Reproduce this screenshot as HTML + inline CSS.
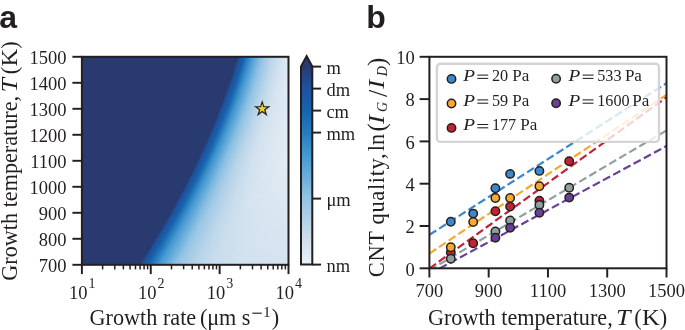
<!DOCTYPE html>
<html><head><meta charset="utf-8"><style>
html,body{margin:0;padding:0;background:#fff;}
#root{position:relative;width:685px;height:330px;overflow:hidden;background:#fff;}
#heat{position:absolute;left:81.9px;top:56px;width:206.6px;height:209px;overflow:hidden;}
#heat div{position:absolute;left:0;width:100%;height:1px;}
svg{position:absolute;left:0;top:0;will-change:transform;}
svg text{font-family:"Liberation Serif",serif;fill:#231f20;}
svg line.k{stroke:#231f20;stroke-width:1.95;}
.pl{font-family:"Liberation Sans",sans-serif;font-weight:bold;}
</style></head><body><div id="root">
<div id="heat">
<div style="top:0px;background:linear-gradient(90deg,#293a70 0.0px,#293a70 155.7px,#27407a 156.2px,#254584 156.7px,#23498c 157.2px,#204d94 157.7px,#1e519b 158.2px,#1c54a0 158.7px,#1c56a1 159.2px,#1b57a2 159.7px,#1a5ba5 160.7px,#195ea8 161.7px,#1964ad 162.7px,#1d6cb3 163.7px,#2579bc 165.2px,#3186c5 167.2px,#3f93cd 169.2px,#4f9fd4 171.2px,#64abda 174.2px,#83bbe1 178.2px,#99c6e5 182.2px,#afd0e8 187.2px,#bdd7eb 191.2px,#c7dced 195.2px,#d1e1ef 199.2px,#dbe8f1 205.2px,#dee9f2 208.6px)"></div>
<div style="top:1px;background:linear-gradient(90deg,#293a70 0.0px,#293a70 155.4px,#27407a 155.9px,#254584 156.4px,#23498c 156.9px,#204d94 157.4px,#1e519b 157.9px,#1c54a0 158.4px,#1c56a1 158.9px,#1b57a2 159.4px,#1a5ba5 160.4px,#195ea8 161.4px,#1964ad 162.4px,#1d6cb3 163.4px,#2579bc 164.9px,#3186c5 166.9px,#3f93cd 168.9px,#4f9fd4 170.9px,#64abda 173.9px,#83bbe1 177.9px,#99c6e5 181.9px,#afd0e8 186.9px,#bdd7eb 190.9px,#c7dced 194.9px,#d1e1ef 198.9px,#dbe8f1 204.9px,#dee9f2 208.6px)"></div>
<div style="top:2px;background:linear-gradient(90deg,#293a70 0.0px,#293a70 155.1px,#27407a 155.6px,#254584 156.1px,#23498c 156.6px,#204d94 157.1px,#1e519b 157.6px,#1c54a0 158.1px,#1c56a1 158.6px,#1b57a2 159.1px,#1a5ba5 160.1px,#195ea8 161.1px,#1964ad 162.1px,#1d6cb3 163.1px,#2578bc 164.6px,#3185c5 166.6px,#3f93cd 168.6px,#4f9ed4 170.6px,#63abda 173.6px,#82bbe1 177.6px,#99c6e5 181.6px,#aed0e8 186.6px,#bdd7eb 190.6px,#c7dced 194.6px,#d1e1ef 198.6px,#dbe7f1 204.6px,#dee9f2 208.6px)"></div>
<div style="top:3px;background:linear-gradient(90deg,#293a70 0.0px,#293a70 154.8px,#27407a 155.3px,#254584 155.8px,#23498c 156.3px,#204d94 156.8px,#1e519b 157.3px,#1c54a0 157.8px,#1c56a1 158.3px,#1b57a2 158.8px,#1a5ba5 159.8px,#195ea8 160.8px,#1964ad 161.8px,#1d6cb3 162.8px,#2478bc 164.3px,#3185c4 166.3px,#3f93cd 168.3px,#4f9ed3 170.3px,#63abda 173.3px,#82bbe1 177.3px,#99c6e5 181.3px,#aecfe8 186.3px,#bdd7eb 190.3px,#c7dced 194.3px,#d0e1ef 198.3px,#dbe7f1 204.3px,#dee9f2 208.6px)"></div>
<div style="top:4px;background:linear-gradient(90deg,#293a70 0.0px,#293a70 154.5px,#27407a 155.0px,#254584 155.5px,#23498c 156.0px,#204d94 156.5px,#1e519b 157.0px,#1c54a0 157.5px,#1c56a1 158.0px,#1b57a2 158.5px,#1a5ba5 159.5px,#195ea8 160.5px,#1964ad 161.5px,#1d6cb3 162.5px,#2478bc 164.0px,#3185c4 166.0px,#3f93cd 168.0px,#4f9ed3 170.0px,#63abda 173.0px,#82bbe1 177.0px,#99c6e5 181.0px,#aecfe8 186.0px,#bcd6eb 190.0px,#c7dced 194.0px,#d0e1ef 198.0px,#dbe7f1 204.0px,#dee9f2 208.6px)"></div>
<div style="top:5px;background:linear-gradient(90deg,#293a70 0.0px,#293a70 154.1px,#27407a 154.6px,#254584 155.1px,#23498c 155.6px,#204d94 156.1px,#1e519b 156.6px,#1c54a0 157.1px,#1c56a1 157.6px,#1b57a2 158.1px,#1a5ba5 159.1px,#195ea8 160.1px,#1864ad 161.1px,#1d6cb3 162.1px,#2478bc 163.6px,#3185c4 165.6px,#3f93cd 167.6px,#4e9ed3 169.6px,#63aada 172.6px,#82bbe1 176.6px,#99c6e5 180.6px,#aecfe8 185.6px,#bcd6eb 189.6px,#c7dced 193.6px,#d0e1ef 197.6px,#dae7f1 203.6px,#deeaf2 208.6px)"></div>
<div style="top:6px;background:linear-gradient(90deg,#293a70 0.0px,#293a70 153.8px,#27407a 154.3px,#254584 154.8px,#23498c 155.3px,#204d94 155.8px,#1e519b 156.3px,#1c54a0 156.8px,#1c56a1 157.3px,#1b57a2 157.8px,#1a5ba5 158.8px,#195ea8 159.8px,#1864ad 160.8px,#1d6cb3 161.8px,#2478bc 163.3px,#3085c4 165.3px,#3f93cd 167.3px,#4e9ed3 169.3px,#63aada 172.3px,#82bbe1 176.3px,#99c6e5 180.3px,#aecfe8 185.3px,#bcd6eb 189.3px,#c6dced 193.3px,#d0e1ef 197.3px,#dae7f1 203.3px,#deeaf2 208.6px)"></div>
<div style="top:7px;background:linear-gradient(90deg,#293a70 0.0px,#293a70 153.5px,#27407a 154.0px,#254584 154.5px,#23498c 155.0px,#204d94 155.5px,#1e519b 156.0px,#1c54a0 156.5px,#1c56a1 157.0px,#1b57a2 157.5px,#1a5ba5 158.5px,#195ea8 159.5px,#1864ad 160.5px,#1d6cb3 161.5px,#2478bc 163.0px,#3085c4 165.0px,#3f93cd 167.0px,#4e9ed3 169.0px,#63aada 172.0px,#81bae1 176.0px,#99c6e5 180.0px,#adcfe8 185.0px,#bcd6eb 189.0px,#c6dced 193.0px,#d0e1ef 197.0px,#dae7f1 203.0px,#deeaf2 208.6px)"></div>
<div style="top:8px;background:linear-gradient(90deg,#293a70 0.0px,#293a70 153.2px,#27407a 153.7px,#254584 154.2px,#23498c 154.7px,#204d94 155.2px,#1e519b 155.7px,#1c54a0 156.2px,#1c56a1 156.7px,#1b57a2 157.2px,#1a5ba5 158.2px,#195ea8 159.2px,#1864ad 160.2px,#1d6cb3 161.2px,#2478bc 162.7px,#3085c4 164.7px,#3e93cd 166.7px,#4e9ed3 168.7px,#62aada 171.7px,#81bae0 175.7px,#98c6e5 179.7px,#adcfe8 184.7px,#bcd6eb 188.7px,#c6dced 192.7px,#d0e1ef 196.7px,#dae7f1 202.7px,#dfeaf2 208.6px)"></div>
<div style="top:9px;background:linear-gradient(90deg,#293a70 0.0px,#293a70 152.9px,#27407a 153.4px,#254584 153.9px,#23498c 154.4px,#204d94 154.9px,#1e519b 155.4px,#1c54a0 155.9px,#1c56a1 156.4px,#1b57a2 156.9px,#1a5ba5 157.9px,#195ea8 158.9px,#1864ac 159.9px,#1d6cb3 160.9px,#2478bc 162.4px,#3085c4 164.4px,#3e93cd 166.4px,#4e9ed3 168.4px,#62aada 171.4px,#81bae0 175.4px,#98c6e5 179.4px,#adcfe8 184.4px,#bbd6ea 188.4px,#c6dced 192.4px,#cfe1ee 196.4px,#dae7f1 202.4px,#dfeaf2 208.6px)"></div>
<div style="top:10px;background:linear-gradient(90deg,#293a70 0.0px,#293a70 152.6px,#27407a 153.1px,#254584 153.6px,#23498c 154.1px,#204d94 154.6px,#1e519b 155.1px,#1c54a0 155.6px,#1c56a1 156.1px,#1b57a2 156.6px,#1a5ba5 157.6px,#195ea8 158.6px,#1864ac 159.6px,#1d6cb2 160.6px,#2478bc 162.1px,#3085c4 164.1px,#3e93cd 166.1px,#4e9ed3 168.1px,#62aada 171.1px,#81bae0 175.1px,#98c6e5 179.1px,#adcfe8 184.1px,#bbd6ea 188.1px,#c6dbed 192.1px,#cfe0ee 196.1px,#dae7f1 202.1px,#dfeaf2 208.6px)"></div>
<div style="top:11px;background:linear-gradient(90deg,#293a70 0.0px,#293a70 152.3px,#27407a 152.8px,#254584 153.3px,#23498c 153.8px,#204d94 154.3px,#1e519b 154.8px,#1c54a0 155.3px,#1c56a1 155.8px,#1b57a2 156.3px,#1a5ba5 157.3px,#195ea8 158.3px,#1864ac 159.3px,#1d6cb2 160.3px,#2478bb 161.8px,#3085c4 163.8px,#3e92cd 165.8px,#4e9ed3 167.8px,#62aada 170.8px,#80bae0 174.8px,#98c6e5 178.8px,#adcfe8 183.8px,#bbd6ea 187.8px,#c6dbed 191.8px,#cfe0ee 195.8px,#d9e7f1 201.8px,#dfeaf2 208.6px)"></div>
<div style="top:12px;background:linear-gradient(90deg,#293a70 0.0px,#293a70 152.0px,#27407a 152.5px,#254584 153.0px,#23498c 153.5px,#204d94 154.0px,#1e519b 154.5px,#1c54a0 155.0px,#1c56a1 155.5px,#1b57a2 156.0px,#1a5ba5 157.0px,#195ea8 158.0px,#1864ac 159.0px,#1d6bb2 160.0px,#2478bb 161.5px,#3085c4 163.5px,#3e92cd 165.5px,#4e9ed3 167.5px,#62aada 170.5px,#80bae0 174.5px,#98c6e5 178.5px,#adcfe8 183.5px,#bbd6ea 187.5px,#c5dbec 191.5px,#cfe0ee 195.5px,#d9e6f1 201.5px,#dfeaf2 208.5px,#dfeaf2 208.6px)"></div>
<div style="top:13px;background:linear-gradient(90deg,#293a70 0.0px,#293a70 151.6px,#27407a 152.1px,#254584 152.6px,#23498c 153.1px,#204d94 153.6px,#1e519b 154.1px,#1c54a0 154.6px,#1c56a1 155.1px,#1b57a2 155.6px,#1a5ba5 156.6px,#195ea8 157.6px,#1863ac 158.6px,#1d6bb2 159.6px,#2477bb 161.1px,#3085c4 163.1px,#3e92cc 165.1px,#4d9ed3 167.1px,#62aada 170.1px,#80bae0 174.1px,#98c6e5 178.1px,#accfe8 183.1px,#bbd6ea 187.1px,#c5dbec 191.1px,#cfe0ee 195.1px,#d9e6f1 201.1px,#dfeaf2 208.1px,#dfeaf2 208.6px)"></div>
<div style="top:14px;background:linear-gradient(90deg,#293a70 0.0px,#293a70 151.3px,#27407a 151.8px,#254584 152.3px,#23498c 152.8px,#204d94 153.3px,#1e519b 153.8px,#1c54a0 154.3px,#1c56a1 154.8px,#1b57a2 155.3px,#1a5ba5 156.3px,#195ea8 157.3px,#1863ac 158.3px,#1d6bb2 159.3px,#2477bb 160.8px,#3084c4 162.8px,#3e92cc 164.8px,#4d9dd3 166.8px,#62aada 169.8px,#80bae0 173.8px,#97c6e5 177.8px,#accfe8 182.8px,#bad5ea 186.8px,#c5dbec 190.8px,#cee0ee 194.8px,#d9e6f1 200.8px,#dfeaf2 207.8px,#dfeaf3 208.6px)"></div>
<div style="top:15px;background:linear-gradient(90deg,#293a70 0.0px,#293a70 151.0px,#27407a 151.5px,#254584 152.0px,#23498c 152.5px,#204d94 153.0px,#1e519b 153.5px,#1c54a0 154.0px,#1c56a1 154.5px,#1b57a2 155.0px,#1a5ba5 156.0px,#195ea8 157.0px,#1863ac 158.0px,#1d6bb2 159.0px,#2477bb 160.5px,#3084c4 162.5px,#3e92cc 164.5px,#4d9dd3 166.5px,#61a9da 169.5px,#7fb9e0 173.5px,#97c5e5 177.5px,#accee8 182.5px,#bad5ea 186.5px,#c5dbec 190.5px,#cee0ee 194.5px,#d9e6f1 200.5px,#deeaf2 207.5px,#dfeaf3 208.6px)"></div>
<div style="top:16px;background:linear-gradient(90deg,#293a70 0.0px,#293a70 150.7px,#27407a 151.2px,#254584 151.7px,#23498c 152.2px,#204d94 152.7px,#1e519b 153.2px,#1c54a0 153.7px,#1c56a1 154.2px,#1b57a2 154.7px,#1a5ba5 155.7px,#195ea8 156.7px,#1863ac 157.7px,#1d6bb2 158.7px,#2477bb 160.2px,#3084c4 162.2px,#3e92cc 164.2px,#4d9dd3 166.2px,#61a9d9 169.2px,#7fb9e0 173.2px,#97c5e4 177.2px,#accee8 182.2px,#bad5ea 186.2px,#c5dbec 190.2px,#cee0ee 194.2px,#d9e6f1 200.2px,#deeaf2 207.2px,#dfeaf3 208.6px)"></div>
<div style="top:17px;background:linear-gradient(90deg,#293a70 0.0px,#293a70 150.3px,#27407a 150.8px,#254584 151.3px,#23498c 151.8px,#204d94 152.3px,#1e519b 152.8px,#1c54a0 153.3px,#1c56a1 153.8px,#1b57a2 154.3px,#1a5ba5 155.3px,#195ea8 156.3px,#1863ac 157.3px,#1d6bb2 158.3px,#2477bb 159.8px,#2f84c4 161.8px,#3e92cc 163.8px,#4d9dd3 165.8px,#61a9d9 168.8px,#7fb9e0 172.8px,#97c5e4 176.8px,#accee8 181.8px,#bad5ea 185.8px,#c5dbec 189.8px,#cee0ee 193.8px,#d8e6f1 199.8px,#dee9f2 206.8px,#dfeaf3 208.6px)"></div>
<div style="top:18px;background:linear-gradient(90deg,#293a70 0.0px,#293a70 150.0px,#27407a 150.5px,#254584 151.0px,#23498c 151.5px,#204d94 152.0px,#1e519b 152.5px,#1c54a0 153.0px,#1c56a1 153.5px,#1b57a2 154.0px,#1a5ba5 155.0px,#195ea8 156.0px,#1863ac 157.0px,#1d6bb2 158.0px,#2477bb 159.5px,#2f84c4 161.5px,#3e92cc 163.5px,#4d9dd3 165.5px,#61a9d9 168.5px,#7fb9e0 172.5px,#97c5e4 176.5px,#abcee8 181.5px,#bad5ea 185.5px,#c4dbec 189.5px,#cee0ee 193.5px,#d8e6f1 199.5px,#dee9f2 206.5px,#e0eaf3 208.6px)"></div>
<div style="top:19px;background:linear-gradient(90deg,#293a70 0.0px,#293a70 149.7px,#27407a 150.2px,#254584 150.7px,#23498c 151.2px,#204d94 151.7px,#1e519b 152.2px,#1c54a0 152.7px,#1c56a1 153.2px,#1b57a2 153.7px,#1a5ba5 154.7px,#195ea8 155.7px,#1863ac 156.7px,#1d6bb2 157.7px,#2477bb 159.2px,#2f84c4 161.2px,#3e92cc 163.2px,#4d9dd3 165.2px,#61a9d9 168.2px,#7fb9e0 172.2px,#97c5e4 176.2px,#abcee8 181.2px,#bad5ea 185.2px,#c4dbec 189.2px,#cee0ee 193.2px,#d8e6f1 199.2px,#dee9f2 206.2px,#e0eaf3 208.6px)"></div>
<div style="top:20px;background:linear-gradient(90deg,#293a70 0.0px,#293a70 149.4px,#27407a 149.9px,#254584 150.4px,#23498c 150.9px,#204d94 151.4px,#1e519b 151.9px,#1c54a0 152.4px,#1c56a1 152.9px,#1b57a2 153.4px,#1a5ba5 154.4px,#195ea8 155.4px,#1863ac 156.4px,#1d6bb2 157.4px,#2477bb 158.9px,#2f84c4 160.9px,#3e92cc 162.9px,#4c9dd3 164.9px,#61a9d9 167.9px,#7eb9e0 171.9px,#97c5e4 175.9px,#abcee8 180.9px,#b9d5ea 184.9px,#c4dbec 188.9px,#cde0ee 192.9px,#d8e6f1 198.9px,#dee9f2 205.9px,#e0eaf3 208.6px)"></div>
<div style="top:21px;background:linear-gradient(90deg,#293a70 0.0px,#293a70 149.0px,#27407a 149.5px,#254584 150.0px,#23498c 150.5px,#204d94 151.0px,#1e519b 151.5px,#1c54a0 152.0px,#1c56a1 152.5px,#1b57a2 153.0px,#1a5ba5 154.0px,#195ea8 155.0px,#1863ac 156.0px,#1d6bb2 157.0px,#2477bb 158.5px,#2f84c3 160.5px,#3e92cc 162.5px,#4c9dd3 164.5px,#60a9d9 167.5px,#7eb9e0 171.5px,#96c5e4 175.5px,#abcee8 180.5px,#b9d5ea 184.5px,#c4dbec 188.5px,#cddfee 192.5px,#d8e6f1 198.5px,#dee9f2 205.5px,#e0ebf3 208.6px)"></div>
<div style="top:22px;background:linear-gradient(90deg,#293a70 0.0px,#293a70 148.7px,#27407a 149.2px,#254584 149.7px,#23498c 150.2px,#204d94 150.7px,#1e519b 151.2px,#1c54a0 151.7px,#1c56a1 152.2px,#1b57a2 152.7px,#1a5ba5 153.7px,#195ea8 154.7px,#1863ac 155.7px,#1d6bb2 156.7px,#2377bb 158.2px,#2f84c3 160.2px,#3e92cc 162.2px,#4c9dd3 164.2px,#60a9d9 167.2px,#7eb9e0 171.2px,#96c5e4 175.2px,#abcee8 180.2px,#b9d5ea 184.2px,#c4daec 188.2px,#cddfee 192.2px,#d8e5f1 198.2px,#dde9f2 205.2px,#e0ebf3 208.6px)"></div>
<div style="top:23px;background:linear-gradient(90deg,#293a70 0.0px,#293a70 148.3px,#27407a 148.8px,#254584 149.3px,#23498c 149.8px,#204d94 150.3px,#1e519b 150.8px,#1c54a0 151.3px,#1c56a1 151.8px,#1b57a2 152.3px,#1a5ba5 153.3px,#195ea8 154.3px,#1863ac 155.3px,#1d6bb2 156.3px,#2377bb 157.8px,#2f84c3 159.8px,#3d92cc 161.8px,#4c9dd3 163.8px,#60a9d9 166.8px,#7eb9e0 170.8px,#96c5e4 174.8px,#aacee8 179.8px,#b9d5ea 183.8px,#c4daec 187.8px,#cddfee 191.8px,#d7e5f0 197.8px,#dde9f2 204.8px,#e0ebf3 208.6px)"></div>
<div style="top:24px;background:linear-gradient(90deg,#293a70 0.0px,#293a70 148.0px,#27407a 148.5px,#254584 149.0px,#23498c 149.5px,#204d94 150.0px,#1e519b 150.5px,#1c54a0 151.0px,#1c56a1 151.5px,#1b57a2 152.0px,#1a5ba5 153.0px,#195ea8 154.0px,#1863ac 155.0px,#1c6bb2 156.0px,#2376bb 157.5px,#2f84c3 159.5px,#3d92cc 161.5px,#4c9dd3 163.5px,#60a9d9 166.5px,#7db8e0 170.5px,#96c5e4 174.5px,#aacee7 179.5px,#b9d4ea 183.5px,#c4daec 187.5px,#cddfee 191.5px,#d7e5f0 197.5px,#dde9f2 204.5px,#e0ebf3 208.6px)"></div>
<div style="top:25px;background:linear-gradient(90deg,#293a70 0.0px,#293a70 147.7px,#27407a 148.2px,#254584 148.7px,#23498c 149.2px,#204d94 149.7px,#1e519b 150.2px,#1c54a0 150.7px,#1c56a1 151.2px,#1b57a2 151.7px,#1a5ba5 152.7px,#195ea8 153.7px,#1863ac 154.7px,#1c6bb2 155.7px,#2376bb 157.2px,#2f83c3 159.2px,#3d92cc 161.2px,#4c9dd3 163.2px,#60a8d9 166.2px,#7db8e0 170.2px,#96c5e4 174.2px,#aacee7 179.2px,#b8d4ea 183.2px,#c3daec 187.2px,#ccdfee 191.2px,#d7e5f0 197.2px,#dde9f2 204.2px,#e0ebf3 208.6px)"></div>
<div style="top:26px;background:linear-gradient(90deg,#293a70 0.0px,#293a70 147.3px,#27407a 147.8px,#254584 148.3px,#23498c 148.8px,#204d94 149.3px,#1e519b 149.8px,#1c54a0 150.3px,#1c56a1 150.8px,#1b57a2 151.3px,#1a5ba5 152.3px,#195ea8 153.3px,#1863ac 154.3px,#1c6bb2 155.3px,#2376ba 156.8px,#2f83c3 158.8px,#3d91cc 160.8px,#4c9dd2 162.8px,#60a8d9 165.8px,#7db8e0 169.8px,#96c5e4 173.8px,#aacee7 178.8px,#b8d4ea 182.8px,#c3daec 186.8px,#ccdfee 190.8px,#d7e5f0 196.8px,#dde9f2 203.8px,#e0ebf3 208.6px)"></div>
<div style="top:27px;background:linear-gradient(90deg,#293a70 0.0px,#293a70 147.0px,#27407a 147.5px,#254584 148.0px,#23498c 148.5px,#204d94 149.0px,#1e519b 149.5px,#1c54a0 150.0px,#1c56a1 150.5px,#1b57a2 151.0px,#1a5ba5 152.0px,#195ea8 153.0px,#1863ac 154.0px,#1c6ab2 155.0px,#2376ba 156.5px,#2f83c3 158.5px,#3d91cc 160.5px,#4b9cd2 162.5px,#5fa8d9 165.5px,#7db8e0 169.5px,#96c5e4 173.5px,#aacee7 178.5px,#b8d4ea 182.5px,#c3daec 186.5px,#ccdfee 190.5px,#d7e5f0 196.5px,#dde9f2 203.5px,#e0ebf3 208.6px)"></div>
<div style="top:28px;background:linear-gradient(90deg,#293a70 0.0px,#293a70 146.6px,#27407a 147.1px,#254584 147.6px,#23498c 148.1px,#204d94 148.6px,#1e519b 149.1px,#1c54a0 149.6px,#1c56a1 150.1px,#1b57a2 150.6px,#1a5ba5 151.6px,#195ea8 152.6px,#1863ac 153.6px,#1c6ab2 154.6px,#2376ba 156.1px,#2e83c3 158.1px,#3d91cc 160.1px,#4b9cd2 162.1px,#5fa8d9 165.1px,#7cb8e0 169.1px,#95c5e4 173.1px,#aacde7 178.1px,#b8d4ea 182.1px,#c3daec 186.1px,#ccdfee 190.1px,#d7e5f0 196.1px,#dde9f2 203.1px,#e0ebf3 208.6px)"></div>
<div style="top:29px;background:linear-gradient(90deg,#293a70 0.0px,#293a70 146.3px,#27407a 146.8px,#254584 147.3px,#23498c 147.8px,#204d94 148.3px,#1e519b 148.8px,#1c54a0 149.3px,#1c56a1 149.8px,#1b57a2 150.3px,#1a5ba5 151.3px,#195ea8 152.3px,#1863ac 153.3px,#1c6ab2 154.3px,#2376ba 155.8px,#2e83c3 157.8px,#3d91cc 159.8px,#4b9cd2 161.8px,#5fa8d9 164.8px,#7cb8e0 168.8px,#95c5e4 172.8px,#a9cde7 177.8px,#b8d4ea 181.8px,#c3daec 185.8px,#ccdfee 189.8px,#d7e5f0 195.8px,#dce8f2 202.8px,#e0ebf3 208.6px)"></div>
<div style="top:30px;background:linear-gradient(90deg,#293a70 0.0px,#293a70 145.9px,#27407a 146.4px,#254584 146.9px,#23498c 147.4px,#204d94 147.9px,#1e519b 148.4px,#1c54a0 148.9px,#1c56a1 149.4px,#1b57a2 149.9px,#1a5ba5 150.9px,#195ea8 151.9px,#1863ac 152.9px,#1c6ab1 153.9px,#2376ba 155.4px,#2e83c3 157.4px,#3d91cc 159.4px,#4b9cd2 161.4px,#5fa8d9 164.4px,#7cb8e0 168.4px,#95c5e4 172.4px,#a9cde7 177.4px,#b8d4ea 181.4px,#c3daec 185.4px,#ccdfee 189.4px,#d6e5f0 195.4px,#dce8f2 202.4px,#e0ebf3 208.6px)"></div>
<div style="top:31px;background:linear-gradient(90deg,#293a70 0.0px,#293a70 145.6px,#27407a 146.1px,#254584 146.6px,#23498c 147.1px,#204d94 147.6px,#1e519b 148.1px,#1c54a0 148.6px,#1c56a1 149.1px,#1b57a2 149.6px,#1a5ba5 150.6px,#195ea8 151.6px,#1863ac 152.6px,#1c6ab1 153.6px,#2376ba 155.1px,#2e83c3 157.1px,#3d91cc 159.1px,#4b9cd2 161.1px,#5fa8d9 164.1px,#7cb8e0 168.1px,#95c4e4 172.1px,#a9cde7 177.1px,#b7d4ea 181.1px,#c2daec 185.1px,#cbdeee 189.1px,#d6e5f0 195.1px,#dce8f2 202.1px,#e0ebf3 208.6px)"></div>
<div style="top:32px;background:linear-gradient(90deg,#293a70 0.0px,#293a70 145.2px,#27407a 145.7px,#254584 146.2px,#23498c 146.7px,#204d94 147.2px,#1e519b 147.7px,#1c54a0 148.2px,#1c56a1 148.7px,#1b57a2 149.2px,#1a5ba5 150.2px,#195ea8 151.2px,#1863ac 152.2px,#1c6ab1 153.2px,#2376ba 154.7px,#2e83c3 156.7px,#3d91cc 158.7px,#4b9cd2 160.7px,#5fa8d9 163.7px,#7cb8df 167.7px,#95c4e4 171.7px,#a9cde7 176.7px,#b7d4ea 180.7px,#c2daec 184.7px,#cbdeee 188.7px,#d6e4f0 194.7px,#dce8f2 201.7px,#e0ebf3 208.6px)"></div>
<div style="top:33px;background:linear-gradient(90deg,#293a70 0.0px,#293a70 144.9px,#27407a 145.4px,#254584 145.9px,#23498c 146.4px,#204d94 146.9px,#1e519b 147.4px,#1c54a0 147.9px,#1c56a1 148.4px,#1b57a2 148.9px,#1a5ba5 149.9px,#195ea8 150.9px,#1863ac 151.9px,#1c6ab1 152.9px,#2376ba 154.4px,#2e83c3 156.4px,#3d91cc 158.4px,#4b9cd2 160.4px,#5ea8d9 163.4px,#7bb7df 167.4px,#95c4e4 171.4px,#a9cde7 176.4px,#b7d4ea 180.4px,#c2daec 184.4px,#cbdeee 188.4px,#d6e4f0 194.4px,#dce8f2 201.4px,#e0ebf3 208.4px,#e0ebf3 208.6px)"></div>
<div style="top:34px;background:linear-gradient(90deg,#293a70 0.0px,#293a70 144.5px,#27407a 145.0px,#254584 145.5px,#23498c 146.0px,#204d94 146.5px,#1e519b 147.0px,#1c54a0 147.5px,#1c56a1 148.0px,#1b57a2 148.5px,#1a5ba5 149.5px,#195ea8 150.5px,#1863ac 151.5px,#1c6ab1 152.5px,#2376ba 154.0px,#2e83c3 156.0px,#3d91cc 158.0px,#4b9cd2 160.0px,#5ea8d9 163.0px,#7bb7df 167.0px,#95c4e4 171.0px,#a8cde7 176.0px,#b7d4ea 180.0px,#c2d9ec 184.0px,#cbdeee 188.0px,#d6e4f0 194.0px,#dce8f2 201.0px,#e0ebf3 208.0px,#e0ebf3 208.6px)"></div>
<div style="top:35px;background:linear-gradient(90deg,#293a70 0.0px,#293a70 144.2px,#27407a 144.7px,#254584 145.2px,#23498c 145.7px,#204d94 146.2px,#1e519b 146.7px,#1c54a0 147.2px,#1c56a1 147.7px,#1b57a2 148.2px,#1a5aa5 149.2px,#195ea8 150.2px,#1863ac 151.2px,#1c6ab1 152.2px,#2375ba 153.7px,#2e83c3 155.7px,#3d91cc 157.7px,#4a9cd2 159.7px,#5ea8d8 162.7px,#7bb7df 166.7px,#94c4e4 170.7px,#a8cde7 175.7px,#b7d3ea 179.7px,#c2d9ec 183.7px,#cbdeee 187.7px,#d6e4f0 193.7px,#dce8f2 200.7px,#e0eaf3 207.7px,#e0ebf3 208.6px)"></div>
<div style="top:36px;background:linear-gradient(90deg,#293a70 0.0px,#293a70 143.8px,#27407a 144.3px,#254584 144.8px,#23498c 145.3px,#204d94 145.8px,#1e519b 146.3px,#1c54a0 146.8px,#1c56a1 147.3px,#1b57a2 147.8px,#1a5aa5 148.8px,#195ea8 149.8px,#1863ac 150.8px,#1c6ab1 151.8px,#2375ba 153.3px,#2e83c3 155.3px,#3d91cc 157.3px,#4a9cd2 159.3px,#5ea7d8 162.3px,#7bb7df 166.3px,#94c4e4 170.3px,#a8cde7 175.3px,#b6d3e9 179.3px,#c2d9ec 183.3px,#cbdeee 187.3px,#d5e4f0 193.3px,#dbe8f2 200.3px,#e0eaf3 207.3px,#e0ebf3 208.6px)"></div>
<div style="top:37px;background:linear-gradient(90deg,#293a70 0.0px,#293a70 143.5px,#27407a 144.0px,#254584 144.5px,#23498c 145.0px,#204d94 145.5px,#1e519b 146.0px,#1c54a0 146.5px,#1c56a1 147.0px,#1b57a2 147.5px,#1a5aa5 148.5px,#195ea8 149.5px,#1863ac 150.5px,#1c6ab1 151.5px,#2375ba 153.0px,#2e82c3 155.0px,#3d91cc 157.0px,#4a9cd2 159.0px,#5ea7d8 162.0px,#7ab7df 166.0px,#94c4e4 170.0px,#a8cde7 175.0px,#b6d3e9 179.0px,#c1d9ec 183.0px,#cadeed 187.0px,#d5e4f0 193.0px,#dbe8f2 200.0px,#e0eaf3 207.0px,#e0ebf3 208.6px)"></div>
<div style="top:38px;background:linear-gradient(90deg,#293a70 0.0px,#293a70 143.1px,#27407a 143.6px,#254584 144.1px,#23498c 144.6px,#204d94 145.1px,#1e519b 145.6px,#1c54a0 146.1px,#1c56a1 146.6px,#1b57a2 147.1px,#1a5aa5 148.1px,#195ea8 149.1px,#1863ac 150.1px,#1c6ab1 151.1px,#2375ba 152.6px,#2e82c3 154.6px,#3c91cb 156.6px,#4a9cd2 158.6px,#5ea7d8 161.6px,#7ab7df 165.6px,#94c4e4 169.6px,#a8cde7 174.6px,#b6d3e9 178.6px,#c1d9ec 182.6px,#cadeed 186.6px,#d5e4f0 192.6px,#dbe8f1 199.6px,#dfeaf3 206.6px,#e0ebf3 208.6px)"></div>
<div style="top:39px;background:linear-gradient(90deg,#293a70 0.0px,#293a70 142.7px,#27407a 143.2px,#254584 143.7px,#23498c 144.2px,#204d94 144.7px,#1e519b 145.2px,#1c54a0 145.7px,#1c56a1 146.2px,#1b57a2 146.7px,#1a5aa5 147.7px,#195ea8 148.7px,#1863ac 149.7px,#1c6ab1 150.7px,#2375ba 152.2px,#2d82c2 154.2px,#3c91cb 156.2px,#4a9bd2 158.2px,#5da7d8 161.2px,#7ab7df 165.2px,#94c4e4 169.2px,#a8cde7 174.2px,#b6d3e9 178.2px,#c1d9ec 182.2px,#cadeed 186.2px,#d5e4f0 192.2px,#dbe8f1 199.2px,#dfeaf3 206.2px,#e0ebf3 208.6px)"></div>
<div style="top:40px;background:linear-gradient(90deg,#293a70 0.0px,#293a70 142.4px,#27407a 142.9px,#254584 143.4px,#23498c 143.9px,#204d94 144.4px,#1e519b 144.9px,#1c54a0 145.4px,#1c56a1 145.9px,#1b57a2 146.4px,#1a5aa5 147.4px,#195ea8 148.4px,#1863ac 149.4px,#1c6ab1 150.4px,#2275b9 151.9px,#2d82c2 153.9px,#3c91cb 155.9px,#4a9bd2 157.9px,#5da7d8 160.9px,#7ab7df 164.9px,#94c4e4 168.9px,#a7cce7 173.9px,#b6d3e9 177.9px,#c1d9ec 181.9px,#cadeed 185.9px,#d5e4f0 191.9px,#dbe7f1 198.9px,#dfeaf3 205.9px,#e0ebf3 208.6px)"></div>
<div style="top:41px;background:linear-gradient(90deg,#293a70 0.0px,#293a70 142.0px,#27407a 142.5px,#254584 143.0px,#23498c 143.5px,#204d94 144.0px,#1e519b 144.5px,#1c54a0 145.0px,#1c56a1 145.5px,#1b57a2 146.0px,#1a5aa5 147.0px,#195ea8 148.0px,#1863ac 149.0px,#1c6ab1 150.0px,#2275b9 151.5px,#2d82c2 153.5px,#3c90cb 155.5px,#4a9bd2 157.5px,#5da7d8 160.5px,#7ab6df 164.5px,#93c4e4 168.5px,#a7cce7 173.5px,#b6d3e9 177.5px,#c1d9ec 181.5px,#cadeed 185.5px,#d5e4f0 191.5px,#dbe7f1 198.5px,#dfeaf3 205.5px,#e0ebf3 208.6px)"></div>
<div style="top:42px;background:linear-gradient(90deg,#293a70 0.0px,#293a70 141.6px,#27407a 142.1px,#254584 142.6px,#23498c 143.1px,#204d94 143.6px,#1e519b 144.1px,#1c54a0 144.6px,#1c56a1 145.1px,#1b57a2 145.6px,#1a5aa5 146.6px,#195ea8 147.6px,#1862ac 148.6px,#1c69b1 149.6px,#2275b9 151.1px,#2d82c2 153.1px,#3c90cb 155.1px,#499bd2 157.1px,#5da7d8 160.1px,#79b6df 164.1px,#93c4e4 168.1px,#a7cce7 173.1px,#b5d3e9 177.1px,#c1d9ec 181.1px,#c9dded 185.1px,#d4e3f0 191.1px,#dbe7f1 198.1px,#dfeaf2 205.1px,#e0ebf3 208.6px)"></div>
<div style="top:43px;background:linear-gradient(90deg,#293a70 0.0px,#293a70 141.3px,#27407a 141.8px,#254584 142.3px,#23498c 142.8px,#204d94 143.3px,#1e519b 143.8px,#1c54a0 144.3px,#1c56a1 144.8px,#1b57a2 145.3px,#1a5aa5 146.3px,#195ea8 147.3px,#1862ac 148.3px,#1c69b1 149.3px,#2275b9 150.8px,#2d82c2 152.8px,#3c90cb 154.8px,#499bd2 156.8px,#5da7d8 159.8px,#79b6df 163.8px,#93c3e4 167.8px,#a7cce7 172.8px,#b5d3e9 176.8px,#c1d9ec 180.8px,#c9dded 184.8px,#d4e3f0 190.8px,#dbe7f1 197.8px,#dfeaf2 204.8px,#e0ebf3 208.6px)"></div>
<div style="top:44px;background:linear-gradient(90deg,#293a70 0.0px,#293a70 140.9px,#27407a 141.4px,#254584 141.9px,#23498c 142.4px,#204d94 142.9px,#1e519b 143.4px,#1c54a0 143.9px,#1c56a1 144.4px,#1b57a2 144.9px,#1a5aa5 145.9px,#195ea8 146.9px,#1862ac 147.9px,#1c69b1 148.9px,#2275b9 150.4px,#2d82c2 152.4px,#3c90cb 154.4px,#499bd2 156.4px,#5da7d8 159.4px,#79b6df 163.4px,#93c3e4 167.4px,#a7cce7 172.4px,#b5d3e9 176.4px,#c0d9eb 180.4px,#c9dded 184.4px,#d4e3f0 190.4px,#dae7f1 197.4px,#dfeaf2 204.4px,#e0ebf3 208.6px)"></div>
<div style="top:45px;background:linear-gradient(90deg,#293a70 0.0px,#293a70 140.5px,#27407a 141.0px,#254584 141.5px,#23498c 142.0px,#204d94 142.5px,#1e519b 143.0px,#1c54a0 143.5px,#1c56a1 144.0px,#1b57a2 144.5px,#1a5aa5 145.5px,#195ea8 146.5px,#1862ac 147.5px,#1c69b1 148.5px,#2275b9 150.0px,#2d82c2 152.0px,#3c90cb 154.0px,#499bd2 156.0px,#5da7d8 159.0px,#79b6df 163.0px,#93c3e4 167.0px,#a6cce7 172.0px,#b5d2e9 176.0px,#c0d9eb 180.0px,#c9dded 184.0px,#d4e3f0 190.0px,#dae7f1 197.0px,#deeaf2 204.0px,#e0ebf3 208.6px)"></div>
<div style="top:46px;background:linear-gradient(90deg,#293a70 0.0px,#293a70 140.2px,#27407a 140.7px,#254584 141.2px,#23498c 141.7px,#204d94 142.2px,#1e519b 142.7px,#1c54a0 143.2px,#1c56a1 143.7px,#1b57a2 144.2px,#1a5aa5 145.2px,#195ea8 146.2px,#1862ab 147.2px,#1c69b1 148.2px,#2274b9 149.7px,#2d82c2 151.7px,#3c90cb 153.7px,#499bd2 155.7px,#5ca6d8 158.7px,#78b6df 162.7px,#92c3e4 166.7px,#a6cce7 171.7px,#b5d2e9 175.7px,#c0d8eb 179.7px,#c9dded 183.7px,#d4e3ef 189.7px,#dae7f1 196.7px,#deeaf2 203.7px,#e0ebf3 208.6px)"></div>
<div style="top:47px;background:linear-gradient(90deg,#293a70 0.0px,#293a70 139.8px,#27407a 140.3px,#254584 140.8px,#23498c 141.3px,#204d94 141.8px,#1e519b 142.3px,#1c54a0 142.8px,#1c56a1 143.3px,#1b57a2 143.8px,#1a5aa5 144.8px,#195ea8 145.8px,#1862ab 146.8px,#1c69b1 147.8px,#2274b9 149.3px,#2d82c2 151.3px,#3c90cb 153.3px,#499bd2 155.3px,#5ca6d8 158.3px,#78b6df 162.3px,#92c3e4 166.3px,#a6cce7 171.3px,#b4d2e9 175.3px,#c0d8eb 179.3px,#c9dded 183.3px,#d4e3ef 189.3px,#dae7f1 196.3px,#deeaf2 203.3px,#e0ebf3 208.6px)"></div>
<div style="top:48px;background:linear-gradient(90deg,#293a70 0.0px,#293a70 139.4px,#27407a 139.9px,#254584 140.4px,#23498c 140.9px,#204d94 141.4px,#1e519b 141.9px,#1c54a0 142.4px,#1c56a1 142.9px,#1b57a2 143.4px,#1a5aa5 144.4px,#195ea8 145.4px,#1862ab 146.4px,#1c69b1 147.4px,#2274b9 148.9px,#2d81c2 150.9px,#3c90cb 152.9px,#499bd2 154.9px,#5ca6d8 157.9px,#78b6df 161.9px,#92c3e4 165.9px,#a6cce7 170.9px,#b4d2e9 174.9px,#c0d8eb 178.9px,#c8dded 182.9px,#d3e3ef 188.9px,#dae7f1 195.9px,#dee9f2 202.9px,#e0ebf3 208.6px)"></div>
<div style="top:49px;background:linear-gradient(90deg,#293a70 0.0px,#293a70 139.0px,#27407a 139.5px,#254584 140.0px,#23498c 140.5px,#204d94 141.0px,#1e519b 141.5px,#1c54a0 142.0px,#1c56a1 142.5px,#1b57a2 143.0px,#1a5aa5 144.0px,#195ea8 145.0px,#1862ab 146.0px,#1c69b1 147.0px,#2274b9 148.5px,#2d81c2 150.5px,#3c90cb 152.5px,#499bd1 154.5px,#5ca6d8 157.5px,#78b6df 161.5px,#92c3e4 165.5px,#a6cce7 170.5px,#b4d2e9 174.5px,#c0d8eb 178.5px,#c8dded 182.5px,#d3e3ef 188.5px,#dae7f1 195.5px,#dee9f2 202.5px,#e0ebf3 208.6px)"></div>
<div style="top:50px;background:linear-gradient(90deg,#293a70 0.0px,#293a70 138.6px,#27407a 139.1px,#254584 139.6px,#23498c 140.1px,#204d94 140.6px,#1e519b 141.1px,#1c54a0 141.6px,#1c56a1 142.1px,#1b57a2 142.6px,#1a5aa5 143.6px,#195ea8 144.6px,#1862ab 145.6px,#1b69b0 146.6px,#2274b9 148.1px,#2c81c2 150.1px,#3c90cb 152.1px,#489bd1 154.1px,#5ca6d8 157.1px,#77b5df 161.1px,#92c3e4 165.1px,#a5cce7 170.1px,#b4d2e9 174.1px,#bfd8eb 178.1px,#c8dded 182.1px,#d3e3ef 188.1px,#dae7f1 195.1px,#dee9f2 202.1px,#e0ebf3 208.6px)"></div>
<div style="top:51px;background:linear-gradient(90deg,#293a70 0.0px,#293a70 138.3px,#27407a 138.8px,#254584 139.3px,#23498c 139.8px,#204d94 140.3px,#1e519b 140.8px,#1c54a0 141.3px,#1c56a1 141.8px,#1b57a2 142.3px,#1a5aa5 143.3px,#195ea8 144.3px,#1862ab 145.3px,#1b69b0 146.3px,#2274b9 147.8px,#2c81c2 149.8px,#3c90cb 151.8px,#489bd1 153.8px,#5ca6d8 156.8px,#77b5df 160.8px,#91c3e4 164.8px,#a5cce7 169.8px,#b4d2e9 173.8px,#bfd8eb 177.8px,#c8dded 181.8px,#d3e3ef 187.8px,#d9e7f1 194.8px,#dee9f2 201.8px,#e0ebf3 208.6px)"></div>
<div style="top:52px;background:linear-gradient(90deg,#293a70 0.0px,#293a70 137.9px,#27407a 138.4px,#254584 138.9px,#23498c 139.4px,#204d94 139.9px,#1e519b 140.4px,#1c54a0 140.9px,#1c56a1 141.4px,#1b57a2 141.9px,#1a5aa5 142.9px,#195ea8 143.9px,#1862ab 144.9px,#1b69b0 145.9px,#2274b9 147.4px,#2c81c2 149.4px,#3b90cb 151.4px,#489ad1 153.4px,#5ba6d8 156.4px,#77b5df 160.4px,#91c3e3 164.4px,#a5cbe7 169.4px,#b3d2e9 173.4px,#bfd8eb 177.4px,#c8dced 181.4px,#d3e3ef 187.4px,#d9e6f1 194.4px,#dee9f2 201.4px,#e0ebf3 208.6px)"></div>
<div style="top:53px;background:linear-gradient(90deg,#293a70 0.0px,#293a70 137.5px,#27407a 138.0px,#254584 138.5px,#23498c 139.0px,#204d94 139.5px,#1e519b 140.0px,#1c54a0 140.5px,#1c56a1 141.0px,#1b57a2 141.5px,#1a5aa5 142.5px,#195ea8 143.5px,#1862ab 144.5px,#1b69b0 145.5px,#2274b9 147.0px,#2c81c2 149.0px,#3b90cb 151.0px,#489ad1 153.0px,#5ba6d8 156.0px,#77b5df 160.0px,#91c2e3 164.0px,#a5cbe7 169.0px,#b3d2e9 173.0px,#bfd8eb 177.0px,#c7dced 181.0px,#d3e2ef 187.0px,#d9e6f1 194.0px,#dde9f2 201.0px,#e0ebf3 208.6px)"></div>
<div style="top:54px;background:linear-gradient(90deg,#293a70 0.0px,#293a70 137.1px,#27407a 137.6px,#254584 138.1px,#23498c 138.6px,#204d94 139.1px,#1e519b 139.6px,#1c54a0 140.1px,#1c56a1 140.6px,#1b57a2 141.1px,#1a5aa5 142.1px,#195ea8 143.1px,#1862ab 144.1px,#1b69b0 145.1px,#2274b9 146.6px,#2c81c2 148.6px,#3b90cb 150.6px,#489ad1 152.6px,#5ba6d7 155.6px,#77b5df 159.6px,#91c2e3 163.6px,#a5cbe7 168.6px,#b3d2e9 172.6px,#bfd8eb 176.6px,#c7dced 180.6px,#d3e2ef 186.6px,#d9e6f1 193.6px,#dde9f2 200.6px,#e0ebf3 208.6px)"></div>
<div style="top:55px;background:linear-gradient(90deg,#293a70 0.0px,#293a70 136.7px,#27407a 137.2px,#254584 137.7px,#23498c 138.2px,#204d94 138.7px,#1e519b 139.2px,#1c54a0 139.7px,#1c56a1 140.2px,#1b57a2 140.7px,#1a5aa5 141.7px,#195ea8 142.7px,#1862ab 143.7px,#1b69b0 144.7px,#2274b8 146.2px,#2c81c2 148.2px,#3b90cb 150.2px,#489ad1 152.2px,#5ba6d7 155.2px,#76b5de 159.2px,#91c2e3 163.2px,#a5cbe7 168.2px,#b3d2e9 172.2px,#bfd8eb 176.2px,#c7dced 180.2px,#d2e2ef 186.2px,#d9e6f1 193.2px,#dde9f2 200.2px,#e0ebf3 208.2px,#e0ebf3 208.6px)"></div>
<div style="top:56px;background:linear-gradient(90deg,#293a70 0.0px,#293a70 136.3px,#27407a 136.8px,#254584 137.3px,#23498c 137.8px,#204d94 138.3px,#1e519b 138.8px,#1c54a0 139.3px,#1c56a1 139.8px,#1b57a2 140.3px,#1a5aa5 141.3px,#195ea8 142.3px,#1862ab 143.3px,#1b69b0 144.3px,#2274b8 145.8px,#2c81c2 147.8px,#3b90cb 149.8px,#489ad1 151.8px,#5ba6d7 154.8px,#76b5de 158.8px,#90c2e3 162.8px,#a4cbe7 167.8px,#b3d1e9 171.8px,#bed8eb 175.8px,#c7dced 179.8px,#d2e2ef 185.8px,#d9e6f1 192.8px,#dde9f2 199.8px,#e0ebf3 207.8px,#e0ebf3 208.6px)"></div>
<div style="top:57px;background:linear-gradient(90deg,#293a70 0.0px,#293a70 135.9px,#27407a 136.4px,#254584 136.9px,#23498c 137.4px,#204d94 137.9px,#1e519b 138.4px,#1c54a0 138.9px,#1c56a1 139.4px,#1b57a2 139.9px,#1a5aa5 140.9px,#195ea8 141.9px,#1862ab 142.9px,#1b68b0 143.9px,#2273b8 145.4px,#2c81c2 147.4px,#3b8fcb 149.4px,#479ad1 151.4px,#5ba5d7 154.4px,#76b5de 158.4px,#90c2e3 162.4px,#a4cbe7 167.4px,#b3d1e9 171.4px,#bed8eb 175.4px,#c7dced 179.4px,#d2e2ef 185.4px,#d9e6f1 192.4px,#dde9f2 199.4px,#e0ebf3 207.4px,#e0ebf3 208.6px)"></div>
<div style="top:58px;background:linear-gradient(90deg,#293a70 0.0px,#293a70 135.5px,#27407a 136.0px,#254584 136.5px,#23498c 137.0px,#204d94 137.5px,#1e519b 138.0px,#1c54a0 138.5px,#1c56a1 139.0px,#1b57a2 139.5px,#1a5aa5 140.5px,#195ea8 141.5px,#1862ab 142.5px,#1b68b0 143.5px,#2273b8 145.0px,#2c81c1 147.0px,#3b8fcb 149.0px,#479ad1 151.0px,#5aa5d7 154.0px,#76b4de 158.0px,#90c2e3 162.0px,#a4cbe7 167.0px,#b2d1e9 171.0px,#bed7eb 175.0px,#c7dced 179.0px,#d2e2ef 185.0px,#d8e6f1 192.0px,#dde9f2 199.0px,#e0ebf3 207.0px,#e0ebf3 208.6px)"></div>
<div style="top:59px;background:linear-gradient(90deg,#293a70 0.0px,#293a70 135.1px,#27407a 135.6px,#254584 136.1px,#23498c 136.6px,#204d94 137.1px,#1e519b 137.6px,#1c54a0 138.1px,#1c56a1 138.6px,#1b57a2 139.1px,#1a5aa5 140.1px,#195ea8 141.1px,#1862ab 142.1px,#1b68b0 143.1px,#2173b8 144.6px,#2c80c1 146.6px,#3b8fcb 148.6px,#479ad1 150.6px,#5aa5d7 153.6px,#75b4de 157.6px,#90c2e3 161.6px,#a4cbe6 166.6px,#b2d1e9 170.6px,#bed7eb 174.6px,#c6dced 178.6px,#d2e2ef 184.6px,#d8e6f1 191.6px,#dde9f2 198.6px,#e0ebf3 206.6px,#e0ebf3 208.6px)"></div>
<div style="top:60px;background:linear-gradient(90deg,#293a70 0.0px,#293a70 134.7px,#27407a 135.2px,#254584 135.7px,#23498c 136.2px,#204d94 136.7px,#1e519b 137.2px,#1c54a0 137.7px,#1c56a1 138.2px,#1b57a2 138.7px,#1a5aa5 139.7px,#195ea8 140.7px,#1862ab 141.7px,#1b68b0 142.7px,#2173b8 144.2px,#2c80c1 146.2px,#3b8fcb 148.2px,#479ad1 150.2px,#5aa5d7 153.2px,#75b4de 157.2px,#90c2e3 161.2px,#a4cbe6 166.2px,#b2d1e9 170.2px,#bed7eb 174.2px,#c6dced 178.2px,#d1e2ef 184.2px,#d8e6f1 191.2px,#dde8f2 198.2px,#e0ebf3 206.2px,#e0ebf3 208.6px)"></div>
<div style="top:61px;background:linear-gradient(90deg,#293a70 0.0px,#293a70 134.3px,#27407a 134.8px,#254584 135.3px,#23498c 135.8px,#204d94 136.3px,#1e519b 136.8px,#1c54a0 137.3px,#1c56a1 137.8px,#1b57a2 138.3px,#1a5aa5 139.3px,#195ea8 140.3px,#1862ab 141.3px,#1b68b0 142.3px,#2173b8 143.8px,#2b80c1 145.8px,#3b8fcb 147.8px,#479ad1 149.8px,#5aa5d7 152.8px,#75b4de 156.8px,#8fc2e3 160.8px,#a3cbe6 165.8px,#b2d1e9 169.8px,#bed7eb 173.8px,#c6dced 177.8px,#d1e2ef 183.8px,#d8e6f1 190.8px,#dce8f2 197.8px,#e0eaf3 205.8px,#e0ebf3 208.6px)"></div>
<div style="top:62px;background:linear-gradient(90deg,#293a70 0.0px,#293a70 133.9px,#27407a 134.4px,#254584 134.9px,#23498c 135.4px,#204d94 135.9px,#1e519b 136.4px,#1c54a0 136.9px,#1c56a1 137.4px,#1b57a2 137.9px,#1a5aa5 138.9px,#195ea8 139.9px,#1862ab 140.9px,#1b68b0 141.9px,#2173b8 143.4px,#2b80c1 145.4px,#3b8fca 147.4px,#479ad1 149.4px,#5aa5d7 152.4px,#75b4de 156.4px,#8fc2e3 160.4px,#a3cbe6 165.4px,#b2d1e9 169.4px,#bed7eb 173.4px,#c6dced 177.4px,#d1e2ef 183.4px,#d8e6f1 190.4px,#dce8f2 197.4px,#e0eaf3 205.4px,#e0ebf3 208.6px)"></div>
<div style="top:63px;background:linear-gradient(90deg,#293a70 0.0px,#293a70 133.5px,#27407a 134.0px,#254584 134.5px,#23498c 135.0px,#204d94 135.5px,#1e519b 136.0px,#1c54a0 136.5px,#1c56a1 137.0px,#1b57a2 137.5px,#1a5aa5 138.5px,#195ea8 139.5px,#1862ab 140.5px,#1b68b0 141.5px,#2173b8 143.0px,#2b80c1 145.0px,#3b8fca 147.0px,#479ad1 149.0px,#5aa5d7 152.0px,#75b4de 156.0px,#8fc1e3 160.0px,#a3cbe6 165.0px,#b1d1e9 169.0px,#bdd7eb 173.0px,#c6dbed 177.0px,#d1e1ef 183.0px,#d8e6f1 190.0px,#dce8f2 197.0px,#e0eaf3 205.0px,#e0ebf3 208.6px)"></div>
<div style="top:64px;background:linear-gradient(90deg,#293a70 0.0px,#293a70 133.1px,#27407a 133.6px,#254584 134.1px,#23498c 134.6px,#204d94 135.1px,#1e519b 135.6px,#1c54a0 136.1px,#1c56a1 136.6px,#1b57a2 137.1px,#1a5aa5 138.1px,#195ea8 139.1px,#1862ab 140.1px,#1b68b0 141.1px,#2173b8 142.6px,#2b80c1 144.6px,#3b8fca 146.6px,#4699d1 148.6px,#59a5d7 151.6px,#74b4de 155.6px,#8fc1e3 159.6px,#a3cbe6 164.6px,#b1d1e9 168.6px,#bdd7eb 172.6px,#c5dbec 176.6px,#d1e1ef 182.6px,#d8e5f1 189.6px,#dce8f2 196.6px,#e0eaf3 204.6px,#e0ebf3 208.6px)"></div>
<div style="top:65px;background:linear-gradient(90deg,#293a70 0.0px,#293a70 132.7px,#27407a 133.2px,#254584 133.7px,#23498c 134.2px,#204d94 134.7px,#1e519b 135.2px,#1c54a0 135.7px,#1c56a1 136.2px,#1b57a2 136.7px,#1a5aa5 137.7px,#195ea8 138.7px,#1862ab 139.7px,#1b68b0 140.7px,#2173b8 142.2px,#2b80c1 144.2px,#3b8fca 146.2px,#4699d1 148.2px,#59a5d7 151.2px,#74b4de 155.2px,#8fc1e3 159.2px,#a3cae6 164.2px,#b1d1e9 168.2px,#bdd7eb 172.2px,#c5dbec 176.2px,#d1e1ef 182.2px,#d7e5f0 189.2px,#dce8f2 196.2px,#dfeaf3 204.2px,#e0ebf3 208.6px)"></div>
<div style="top:66px;background:linear-gradient(90deg,#293a70 0.0px,#293a70 132.3px,#27407a 132.8px,#254584 133.3px,#23498c 133.8px,#204d94 134.3px,#1e519b 134.8px,#1c54a0 135.3px,#1c56a1 135.8px,#1b57a2 136.3px,#1a5aa5 137.3px,#195ea8 138.3px,#1862ab 139.3px,#1b68b0 140.3px,#2173b8 141.8px,#2b80c1 143.8px,#3b8fca 145.8px,#4699d1 147.8px,#59a5d7 150.8px,#74b4de 154.8px,#8ec1e3 158.8px,#a3cae6 163.8px,#b1d1e8 167.8px,#bdd7eb 171.8px,#c5dbec 175.8px,#d0e1ef 181.8px,#d7e5f0 188.8px,#dce8f2 195.8px,#dfeaf3 203.8px,#e0ebf3 208.6px)"></div>
<div style="top:67px;background:linear-gradient(90deg,#293a70 0.0px,#293a70 131.9px,#27407a 132.4px,#254584 132.9px,#23498c 133.4px,#204d94 133.9px,#1e519b 134.4px,#1c54a0 134.9px,#1c56a1 135.4px,#1b57a2 135.9px,#1a5aa5 136.9px,#195ea8 137.9px,#1862ab 138.9px,#1b68b0 139.9px,#2173b8 141.4px,#2b80c1 143.4px,#3a8fca 145.4px,#4699d1 147.4px,#59a4d7 150.4px,#74b3de 154.4px,#8ec1e3 158.4px,#a2cae6 163.4px,#b1d0e8 167.4px,#bdd7eb 171.4px,#c5dbec 175.4px,#d0e1ef 181.4px,#d7e5f0 188.4px,#dce8f2 195.4px,#dfeaf3 203.4px,#e0ebf3 208.6px)"></div>
<div style="top:68px;background:linear-gradient(90deg,#293a70 0.0px,#293a70 131.5px,#27407a 132.0px,#254584 132.5px,#23498c 133.0px,#204d94 133.5px,#1e519b 134.0px,#1c54a0 134.5px,#1c56a1 135.0px,#1b57a2 135.5px,#1a5aa5 136.5px,#195ea8 137.5px,#1862ab 138.5px,#1b68b0 139.5px,#2172b8 141.0px,#2b80c1 143.0px,#3a8fca 145.0px,#4699d1 147.0px,#59a4d7 150.0px,#73b3de 154.0px,#8ec1e3 158.0px,#a2cae6 163.0px,#b0d0e8 167.0px,#bdd7eb 171.0px,#c5dbec 175.0px,#d0e1ef 181.0px,#d7e5f0 188.0px,#dce8f2 195.0px,#dfeaf3 203.0px,#e0ebf3 208.6px)"></div>
<div style="top:69px;background:linear-gradient(90deg,#293a70 0.0px,#293a70 131.1px,#27407a 131.6px,#254584 132.1px,#23498c 132.6px,#204d94 133.1px,#1e519b 133.6px,#1c54a0 134.1px,#1c56a1 134.6px,#1b57a2 135.1px,#1a5aa5 136.1px,#195ea8 137.1px,#1862ab 138.1px,#1b68b0 139.1px,#2172b8 140.6px,#2b80c1 142.6px,#3a8fca 144.6px,#4699d1 146.6px,#59a4d7 149.6px,#73b3de 153.6px,#8ec1e3 157.6px,#a2cae6 162.6px,#b0d0e8 166.6px,#bcd7eb 170.6px,#c5dbec 174.6px,#d0e1ef 180.6px,#d7e5f0 187.6px,#dbe8f2 194.6px,#dfeaf3 202.6px,#e0ebf3 208.6px)"></div>
<div style="top:70px;background:linear-gradient(90deg,#293a70 0.0px,#293a70 130.7px,#27407a 131.2px,#254584 131.7px,#23498c 132.2px,#204d94 132.7px,#1e519b 133.2px,#1c54a0 133.7px,#1c56a1 134.2px,#1b57a2 134.7px,#1a5aa5 135.7px,#195da8 136.7px,#1862ab 137.7px,#1b68af 138.7px,#2172b7 140.2px,#2b80c1 142.2px,#3a8fca 144.2px,#4699d1 146.2px,#58a4d7 149.2px,#73b3de 153.2px,#8ec1e3 157.2px,#a2cae6 162.2px,#b0d0e8 166.2px,#bcd6eb 170.2px,#c4dbec 174.2px,#d0e1ef 180.2px,#d7e5f0 187.2px,#dbe8f1 194.2px,#dfeaf3 202.2px,#e0ebf3 208.6px)"></div>
<div style="top:71px;background:linear-gradient(90deg,#293a70 0.0px,#293a70 130.3px,#27407a 130.8px,#254584 131.3px,#23498c 131.8px,#204d94 132.3px,#1e519b 132.8px,#1c54a0 133.3px,#1c56a1 133.8px,#1b57a2 134.3px,#1a5aa5 135.3px,#195da8 136.3px,#1862ab 137.3px,#1b68af 138.3px,#2172b7 139.8px,#2b7fc1 141.8px,#3a8fca 143.8px,#4699d1 145.8px,#58a4d7 148.8px,#73b3de 152.8px,#8dc1e3 156.8px,#a2cae6 161.8px,#b0d0e8 165.8px,#bcd6eb 169.8px,#c4dbec 173.8px,#cfe1ee 179.8px,#d7e5f0 186.8px,#dbe8f1 193.8px,#dfeaf2 201.8px,#e0ebf3 208.6px)"></div>
<div style="top:72px;background:linear-gradient(90deg,#293a70 0.0px,#293a70 129.8px,#27407a 130.3px,#254584 130.8px,#23498c 131.3px,#204d94 131.8px,#1e519b 132.3px,#1c54a0 132.8px,#1c56a1 133.3px,#1b57a2 133.8px,#1a5aa5 134.8px,#195da8 135.8px,#1862ab 136.8px,#1b67af 137.8px,#2172b7 139.3px,#2a7fc1 141.3px,#3a8eca 143.3px,#4599d0 145.3px,#58a4d7 148.3px,#72b3de 152.3px,#8dc1e3 156.3px,#a1cae6 161.3px,#b0d0e8 165.3px,#bcd6eb 169.3px,#c4dbec 173.3px,#cfe1ee 179.3px,#d6e5f0 186.3px,#dbe8f1 193.3px,#dfeaf2 201.3px,#e0ebf3 208.6px)"></div>
<div style="top:73px;background:linear-gradient(90deg,#293a70 0.0px,#293a70 129.4px,#27407a 129.9px,#254584 130.4px,#23498c 130.9px,#204d94 131.4px,#1e519b 131.9px,#1c54a0 132.4px,#1c56a1 132.9px,#1b57a2 133.4px,#1a5aa5 134.4px,#195da8 135.4px,#1862ab 136.4px,#1b67af 137.4px,#2172b7 138.9px,#2a7fc1 140.9px,#3a8eca 142.9px,#4599d0 144.9px,#58a4d6 147.9px,#72b3de 151.9px,#8dc0e3 155.9px,#a1cae6 160.9px,#afd0e8 164.9px,#bcd6eb 168.9px,#c4daec 172.9px,#cfe0ee 178.9px,#d6e5f0 185.9px,#dbe7f1 192.9px,#dfeaf2 200.9px,#e0ebf3 208.6px)"></div>
<div style="top:74px;background:linear-gradient(90deg,#293a70 0.0px,#293a70 129.0px,#27407a 129.5px,#254584 130.0px,#23498c 130.5px,#204d94 131.0px,#1e519b 131.5px,#1c54a0 132.0px,#1c56a1 132.5px,#1b57a2 133.0px,#1a5aa5 134.0px,#195da8 135.0px,#1862ab 136.0px,#1b67af 137.0px,#2172b7 138.5px,#2a7fc1 140.5px,#3a8eca 142.5px,#4599d0 144.5px,#58a4d6 147.5px,#72b3de 151.5px,#8dc0e3 155.5px,#a1cae6 160.5px,#afd0e8 164.5px,#bcd6eb 168.5px,#c4daec 172.5px,#cfe0ee 178.5px,#d6e5f0 185.5px,#dbe7f1 192.5px,#dfeaf2 200.5px,#e0ebf3 208.6px)"></div>
<div style="top:75px;background:linear-gradient(90deg,#293a70 0.0px,#293a70 128.6px,#27407a 129.1px,#254584 129.6px,#23498c 130.1px,#204d94 130.6px,#1e519b 131.1px,#1c54a0 131.6px,#1c56a1 132.1px,#1b57a2 132.6px,#1a5aa5 133.6px,#195da8 134.6px,#1862ab 135.6px,#1b67af 136.6px,#2172b7 138.1px,#2a7fc1 140.1px,#3a8eca 142.1px,#4599d0 144.1px,#58a4d6 147.1px,#72b3de 151.1px,#8dc0e3 155.1px,#a1cae6 160.1px,#afd0e8 164.1px,#bbd6ea 168.1px,#c4daec 172.1px,#cfe0ee 178.1px,#d6e5f0 185.1px,#dbe7f1 192.1px,#dfeaf2 200.1px,#e0ebf3 208.6px)"></div>
<div style="top:76px;background:linear-gradient(90deg,#293a70 0.0px,#293a70 128.1px,#27407a 128.6px,#254584 129.1px,#23498c 129.6px,#204d94 130.1px,#1e519b 130.6px,#1c54a0 131.1px,#1c56a1 131.6px,#1b57a2 132.1px,#1a5aa5 133.1px,#195da8 134.1px,#1862ab 135.1px,#1a67af 136.1px,#2172b7 137.6px,#2a7fc0 139.6px,#3a8eca 141.6px,#4599d0 143.6px,#58a4d6 146.6px,#72b2de 150.6px,#8dc0e3 154.6px,#a1cae6 159.6px,#afd0e8 163.6px,#bbd6ea 167.6px,#c3daec 171.6px,#cfe0ee 177.6px,#d6e4f0 184.6px,#dae7f1 191.6px,#dfeaf2 199.6px,#e0ebf3 208.6px)"></div>
<div style="top:77px;background:linear-gradient(90deg,#293a70 0.0px,#293a70 127.7px,#27407a 128.2px,#254584 128.7px,#23498c 129.2px,#204d94 129.7px,#1e519b 130.2px,#1c54a0 130.7px,#1c56a1 131.2px,#1b57a2 131.7px,#1a5aa5 132.7px,#195da8 133.7px,#1861ab 134.7px,#1a67af 135.7px,#2172b7 137.2px,#2a7fc0 139.2px,#3a8eca 141.2px,#4598d0 143.2px,#57a4d6 146.2px,#71b2de 150.2px,#8cc0e3 154.2px,#a1c9e6 159.2px,#afd0e8 163.2px,#bbd6ea 167.2px,#c3daec 171.2px,#cee0ee 177.2px,#d6e4f0 184.2px,#dae7f1 191.2px,#deeaf2 199.2px,#e0ebf3 208.6px)"></div>
<div style="top:78px;background:linear-gradient(90deg,#293a70 0.0px,#293a70 127.3px,#27407a 127.8px,#254584 128.3px,#23498c 128.8px,#204d94 129.3px,#1e519b 129.8px,#1c54a0 130.3px,#1c56a1 130.8px,#1b57a2 131.3px,#1a5aa5 132.3px,#1a5da7 133.3px,#1861ab 134.3px,#1a67af 135.3px,#2072b7 136.8px,#2a7fc0 138.8px,#3a8eca 140.8px,#4598d0 142.8px,#57a3d6 145.8px,#71b2de 149.8px,#8cc0e3 153.8px,#a0c9e6 158.8px,#aed0e8 162.8px,#bbd6ea 166.8px,#c3daec 170.8px,#cee0ee 176.8px,#d6e4f0 183.8px,#dae7f1 190.8px,#deeaf2 198.8px,#e0ebf3 208.6px)"></div>
<div style="top:79px;background:linear-gradient(90deg,#293a70 0.0px,#293a70 126.9px,#27407a 127.4px,#254584 127.9px,#23498c 128.4px,#204d94 128.9px,#1e519b 129.4px,#1c54a0 129.9px,#1c56a1 130.4px,#1b57a2 130.9px,#1a5aa5 131.9px,#1a5da7 132.9px,#1861ab 133.9px,#1a67af 134.9px,#2071b7 136.4px,#2a7fc0 138.4px,#3a8eca 140.4px,#4498d0 142.4px,#57a3d6 145.4px,#71b2dd 149.4px,#8cc0e2 153.4px,#a0c9e6 158.4px,#aecfe8 162.4px,#bbd6ea 166.4px,#c3daec 170.4px,#cee0ee 176.4px,#d6e4f0 183.4px,#dae7f1 190.4px,#deeaf2 198.4px,#e0ebf3 208.4px,#e0ebf3 208.6px)"></div>
<div style="top:80px;background:linear-gradient(90deg,#293a70 0.0px,#293a70 126.4px,#27407a 126.9px,#254584 127.4px,#23498c 127.9px,#204d94 128.4px,#1e519b 128.9px,#1c54a0 129.4px,#1c56a1 129.9px,#1b57a2 130.4px,#1a5aa5 131.4px,#1a5da7 132.4px,#1861ab 133.4px,#1a67af 134.4px,#2071b7 135.9px,#2a7fc0 137.9px,#3a8eca 139.9px,#4498d0 141.9px,#57a3d6 144.9px,#71b2dd 148.9px,#8cc0e2 152.9px,#a0c9e6 157.9px,#aecfe8 161.9px,#bbd6ea 165.9px,#c3daec 169.9px,#cee0ee 175.9px,#d5e4f0 182.9px,#dae7f1 189.9px,#deeaf2 197.9px,#e0ebf3 207.9px,#e0ebf3 208.6px)"></div>
<div style="top:81px;background:linear-gradient(90deg,#293a70 0.0px,#293a70 126.0px,#27407a 126.5px,#254584 127.0px,#23498c 127.5px,#204d94 128.0px,#1e519b 128.5px,#1c54a0 129.0px,#1c56a1 129.5px,#1b57a2 130.0px,#1a5aa5 131.0px,#1a5da7 132.0px,#1861ab 133.0px,#1a67af 134.0px,#2071b7 135.5px,#2a7fc0 137.5px,#3a8eca 139.5px,#4498d0 141.5px,#57a3d6 144.5px,#70b2dd 148.5px,#8cc0e2 152.5px,#a0c9e6 157.5px,#aecfe8 161.5px,#bbd5ea 165.5px,#c2daec 169.5px,#cee0ee 175.5px,#d5e4f0 182.5px,#dae7f1 189.5px,#dee9f2 197.5px,#e0ebf3 207.5px,#e1ebf3 208.6px)"></div>
<div style="top:82px;background:linear-gradient(90deg,#293a70 0.0px,#293a70 125.6px,#27407a 126.1px,#254584 126.6px,#23498c 127.1px,#204d94 127.6px,#1e519b 128.1px,#1c54a0 128.6px,#1c56a1 129.1px,#1b57a2 129.6px,#1a5aa5 130.6px,#1a5da7 131.6px,#1861ab 132.6px,#1a67af 133.6px,#2071b7 135.1px,#2a7ec0 137.1px,#398eca 139.1px,#4498d0 141.1px,#57a3d6 144.1px,#70b2dd 148.1px,#8bc0e2 152.1px,#a0c9e6 157.1px,#aecfe8 161.1px,#bad5ea 165.1px,#c2daec 169.1px,#cde0ee 175.1px,#d5e4f0 182.1px,#dae7f1 189.1px,#dee9f2 197.1px,#e0ebf3 207.1px,#e1ebf3 208.6px)"></div>
<div style="top:83px;background:linear-gradient(90deg,#293a70 0.0px,#293a70 125.1px,#27407a 125.6px,#254584 126.1px,#23498c 126.6px,#204d94 127.1px,#1e519b 127.6px,#1c54a0 128.1px,#1c56a1 128.6px,#1b57a2 129.1px,#1a5aa5 130.1px,#1a5da7 131.1px,#1861ab 132.1px,#1a67af 133.1px,#2071b7 134.6px,#297ec0 136.6px,#398eca 138.6px,#4498d0 140.6px,#56a3d6 143.6px,#70b2dd 147.6px,#8bbfe2 151.6px,#9fc9e6 156.6px,#adcfe8 160.6px,#bad5ea 164.6px,#c2daec 168.6px,#cddfee 174.6px,#d5e4f0 181.6px,#dae7f1 188.6px,#dee9f2 196.6px,#e0ebf3 206.6px,#e1ebf3 208.6px)"></div>
<div style="top:84px;background:linear-gradient(90deg,#293a70 0.0px,#293a70 124.7px,#27407a 125.2px,#254584 125.7px,#23498c 126.2px,#204d94 126.7px,#1e519b 127.2px,#1c54a0 127.7px,#1c56a1 128.2px,#1b57a2 128.7px,#1a5aa5 129.7px,#1a5da7 130.7px,#1861ab 131.7px,#1a67af 132.7px,#2071b6 134.2px,#297ec0 136.2px,#398eca 138.2px,#4498d0 140.2px,#56a3d6 143.2px,#70b1dd 147.2px,#8bbfe2 151.2px,#9fc9e6 156.2px,#adcfe8 160.2px,#bad5ea 164.2px,#c2d9ec 168.2px,#cddfee 174.2px,#d5e4f0 181.2px,#d9e7f1 188.2px,#dee9f2 196.2px,#e0ebf3 206.2px,#e1ebf3 208.6px)"></div>
<div style="top:85px;background:linear-gradient(90deg,#293a70 0.0px,#293a70 124.3px,#27407a 124.8px,#254584 125.3px,#23498c 125.8px,#204d94 126.3px,#1e519b 126.8px,#1c54a0 127.3px,#1c56a1 127.8px,#1b57a2 128.3px,#1a5aa5 129.3px,#1a5da7 130.3px,#1861ab 131.3px,#1a67af 132.3px,#2071b6 133.8px,#297ec0 135.8px,#398eca 137.8px,#4498d0 139.8px,#56a3d6 142.8px,#70b1dd 146.8px,#8bbfe2 150.8px,#9fc9e6 155.8px,#adcfe8 159.8px,#bad5ea 163.8px,#c2d9ec 167.8px,#cddfee 173.8px,#d5e4f0 180.8px,#d9e7f1 187.8px,#dee9f2 195.8px,#e0ebf3 205.8px,#e1ebf3 208.6px)"></div>
<div style="top:86px;background:linear-gradient(90deg,#293a70 0.0px,#293a70 123.8px,#27407a 124.3px,#254584 124.8px,#23498c 125.3px,#204d94 125.8px,#1e519b 126.3px,#1c54a0 126.8px,#1c56a1 127.3px,#1b57a2 127.8px,#1a5aa5 128.8px,#1a5da7 129.8px,#1861ab 130.8px,#1a67af 131.8px,#2071b6 133.3px,#297ec0 135.3px,#398eca 137.3px,#4498d0 139.3px,#56a3d6 142.3px,#6fb1dd 146.3px,#8bbfe2 150.3px,#9fc9e6 155.3px,#adcfe8 159.3px,#bad5ea 163.3px,#c2d9ec 167.3px,#cddfee 173.3px,#d5e4f0 180.3px,#d9e6f1 187.3px,#dee9f2 195.3px,#e0ebf3 205.3px,#e1ebf3 208.6px)"></div>
<div style="top:87px;background:linear-gradient(90deg,#293a70 0.0px,#293a70 123.4px,#27407a 123.9px,#254584 124.4px,#23498c 124.9px,#204d94 125.4px,#1e519b 125.9px,#1c54a0 126.4px,#1c56a1 126.9px,#1b57a2 127.4px,#1a5aa5 128.4px,#1a5da7 129.4px,#1861ab 130.4px,#1a66af 131.4px,#2071b6 132.9px,#297ec0 134.9px,#398dc9 136.9px,#4498d0 138.9px,#56a3d6 141.9px,#6fb1dd 145.9px,#8abfe2 149.9px,#9fc9e6 154.9px,#adcfe8 158.9px,#bad5ea 162.9px,#c1d9ec 166.9px,#cddfee 172.9px,#d4e3f0 179.9px,#d9e6f1 186.9px,#dee9f2 194.9px,#e0ebf3 204.9px,#e1ebf3 208.6px)"></div>
<div style="top:88px;background:linear-gradient(90deg,#293a70 0.0px,#293a70 122.9px,#27407a 123.4px,#254584 123.9px,#23498c 124.4px,#204d94 124.9px,#1e519b 125.4px,#1c54a0 125.9px,#1c56a1 126.4px,#1b57a2 126.9px,#1a5aa5 127.9px,#1a5da7 128.9px,#1861ab 129.9px,#1a66af 130.9px,#2071b6 132.4px,#297ec0 134.4px,#398dc9 136.4px,#4397d0 138.4px,#56a2d6 141.4px,#6fb1dd 145.4px,#8abfe2 149.4px,#9ec9e6 154.4px,#accfe8 158.4px,#b9d5ea 162.4px,#c1d9ec 166.4px,#ccdfee 172.4px,#d4e3f0 179.4px,#d9e6f1 186.4px,#dee9f2 194.4px,#e0ebf3 204.4px,#e1ebf3 208.6px)"></div>
<div style="top:89px;background:linear-gradient(90deg,#293a70 0.0px,#293a70 122.5px,#27407a 123.0px,#254584 123.5px,#23498c 124.0px,#204d94 124.5px,#1e519b 125.0px,#1c54a0 125.5px,#1c56a1 126.0px,#1b57a2 126.5px,#1a5aa5 127.5px,#1a5da7 128.5px,#1861ab 129.5px,#1a66af 130.5px,#2071b6 132.0px,#297ec0 134.0px,#398dc9 136.0px,#4397d0 138.0px,#55a2d6 141.0px,#6fb1dd 145.0px,#8abfe2 149.0px,#9ec9e6 154.0px,#accfe8 158.0px,#b9d5ea 162.0px,#c1d9ec 166.0px,#ccdfee 172.0px,#d4e3f0 179.0px,#d9e6f1 186.0px,#dee9f2 194.0px,#e0ebf3 204.0px,#e1ebf3 208.6px)"></div>
<div style="top:90px;background:linear-gradient(90deg,#293a70 0.0px,#293a70 122.0px,#27407a 122.5px,#254584 123.0px,#23498c 123.5px,#204d94 124.0px,#1e519b 124.5px,#1c54a0 125.0px,#1c56a1 125.5px,#1b57a2 126.0px,#1a5aa5 127.0px,#1a5da7 128.0px,#1861ab 129.0px,#1a66ae 130.0px,#2070b6 131.5px,#297ec0 133.5px,#398dc9 135.5px,#4397d0 137.5px,#55a2d6 140.5px,#6eb1dd 144.5px,#8abfe2 148.5px,#9ec8e6 153.5px,#accfe8 157.5px,#b9d5ea 161.5px,#c1d9ec 165.5px,#ccdfee 171.5px,#d4e3f0 178.5px,#d9e6f1 185.5px,#dde9f2 193.5px,#e0eaf3 203.5px,#e1ebf3 208.6px)"></div>
<div style="top:91px;background:linear-gradient(90deg,#293a70 0.0px,#293a70 121.6px,#27407a 122.1px,#254584 122.6px,#23498c 123.1px,#204d94 123.6px,#1e519b 124.1px,#1c54a0 124.6px,#1c56a1 125.1px,#1b57a2 125.6px,#1a5aa5 126.6px,#1a5da7 127.6px,#1961aa 128.6px,#1a66ae 129.6px,#2070b6 131.1px,#297ec0 133.1px,#398dc9 135.1px,#4397cf 137.1px,#55a2d6 140.1px,#6eb1dd 144.1px,#8abfe2 148.1px,#9ec8e6 153.1px,#accee8 157.1px,#b9d5ea 161.1px,#c1d9ec 165.1px,#ccdfee 171.1px,#d4e3f0 178.1px,#d9e6f1 185.1px,#dde9f2 193.1px,#e0eaf3 203.1px,#e1ebf3 208.6px)"></div>
<div style="top:92px;background:linear-gradient(90deg,#293a70 0.0px,#293a70 121.1px,#27407a 121.6px,#254584 122.1px,#23498c 122.6px,#204d94 123.1px,#1e519b 123.6px,#1c54a0 124.1px,#1c56a1 124.6px,#1b57a2 125.1px,#1a5aa5 126.1px,#1a5da7 127.1px,#1961aa 128.1px,#1a66ae 129.1px,#2070b6 130.6px,#297ec0 132.6px,#398dc9 134.6px,#4397cf 136.6px,#55a2d5 139.6px,#6eb1dd 143.6px,#89bfe2 147.6px,#9ec8e6 152.6px,#accee8 156.6px,#b9d5ea 160.6px,#c0d9eb 164.6px,#ccdfee 170.6px,#d4e3ef 177.6px,#d8e6f1 184.6px,#dde9f2 192.6px,#e0eaf3 202.6px,#e1ebf3 208.6px)"></div>
<div style="top:93px;background:linear-gradient(90deg,#293a70 0.0px,#293a70 120.7px,#27407a 121.2px,#254584 121.7px,#23498c 122.2px,#204d94 122.7px,#1e519b 123.2px,#1c54a0 123.7px,#1c56a1 124.2px,#1b57a2 124.7px,#1a5aa5 125.7px,#1a5da7 126.7px,#1961aa 127.7px,#1a66ae 128.7px,#2070b6 130.2px,#297ec0 132.2px,#398dc9 134.2px,#4397cf 136.2px,#55a2d5 139.2px,#6eb0dd 143.2px,#89bee2 147.2px,#9ec8e5 152.2px,#abcee8 156.2px,#b9d4ea 160.2px,#c0d9eb 164.2px,#cbdeee 170.2px,#d4e3ef 177.2px,#d8e6f1 184.2px,#dde9f2 192.2px,#e0eaf3 202.2px,#e1ebf3 208.6px)"></div>
<div style="top:94px;background:linear-gradient(90deg,#293a70 0.0px,#293a70 120.2px,#27407a 120.7px,#254584 121.2px,#23498c 121.7px,#204d94 122.2px,#1e519b 122.7px,#1c54a0 123.2px,#1c56a1 123.7px,#1b57a2 124.2px,#1a5aa5 125.2px,#1a5da7 126.2px,#1961aa 127.2px,#1a66ae 128.2px,#2070b6 129.7px,#287dbf 131.7px,#398dc9 133.7px,#4397cf 135.7px,#55a2d5 138.7px,#6db0dd 142.7px,#89bee2 146.7px,#9dc8e5 151.7px,#abcee8 155.7px,#b8d4ea 159.7px,#c0d8eb 163.7px,#cbdeee 169.7px,#d3e3ef 176.7px,#d8e6f1 183.7px,#dde9f2 191.7px,#e0eaf3 201.7px,#e1ebf3 208.6px)"></div>
<div style="top:95px;background:linear-gradient(90deg,#293a70 0.0px,#293a70 119.8px,#27407a 120.3px,#254584 120.8px,#23498c 121.3px,#204d94 121.8px,#1e519b 122.3px,#1c54a0 122.8px,#1c56a1 123.3px,#1b57a2 123.8px,#1a5aa5 124.8px,#1a5da7 125.8px,#1961aa 126.8px,#1a66ae 127.8px,#2070b6 129.3px,#287dbf 131.3px,#398dc9 133.3px,#4397cf 135.3px,#54a2d5 138.3px,#6db0dd 142.3px,#89bee2 146.3px,#9dc8e5 151.3px,#abcee8 155.3px,#b8d4ea 159.3px,#c0d8eb 163.3px,#cbdeee 169.3px,#d3e3ef 176.3px,#d8e6f1 183.3px,#dde9f2 191.3px,#dfeaf3 201.3px,#e1ebf3 208.6px)"></div>
<div style="top:96px;background:linear-gradient(90deg,#293a70 0.0px,#293a70 119.3px,#27407a 119.8px,#254584 120.3px,#23498c 120.8px,#204d94 121.3px,#1e519b 121.8px,#1c54a0 122.3px,#1c56a1 122.8px,#1b57a2 123.3px,#1a5aa5 124.3px,#1a5da7 125.3px,#1961aa 126.3px,#1a66ae 127.3px,#2070b6 128.8px,#287dbf 130.8px,#398dc9 132.8px,#4397cf 134.8px,#54a2d5 137.8px,#6db0dd 141.8px,#89bee2 145.8px,#9dc8e5 150.8px,#abcee8 154.8px,#b8d4ea 158.8px,#c0d8eb 162.8px,#cbdeee 168.8px,#d3e3ef 175.8px,#d8e6f1 182.8px,#dde9f2 190.8px,#dfeaf3 200.8px,#e1ebf3 208.6px)"></div>
<div style="top:97px;background:linear-gradient(90deg,#293a70 0.0px,#293a70 118.9px,#27407a 119.4px,#254584 119.9px,#23498c 120.4px,#204d94 120.9px,#1e519b 121.4px,#1c54a0 121.9px,#1c56a1 122.4px,#1b57a2 122.9px,#1a5aa5 123.9px,#1a5da7 124.9px,#1961aa 125.9px,#1a66ae 126.9px,#1f70b6 128.4px,#287dbf 130.4px,#388dc9 132.4px,#4296cf 134.4px,#54a2d5 137.4px,#6db0dd 141.4px,#88bee2 145.4px,#9dc8e5 150.4px,#abcee8 154.4px,#b8d4ea 158.4px,#c0d8eb 162.4px,#cbdeee 168.4px,#d3e3ef 175.4px,#d8e6f1 182.4px,#dde9f2 190.4px,#dfeaf3 200.4px,#e1ebf3 208.6px)"></div>
<div style="top:98px;background:linear-gradient(90deg,#293a70 0.0px,#293a70 118.4px,#27407a 118.9px,#254584 119.4px,#23498c 119.9px,#204d94 120.4px,#1e519b 120.9px,#1c54a0 121.4px,#1c56a1 121.9px,#1b57a2 122.4px,#1a5aa5 123.4px,#1a5da7 124.4px,#1961aa 125.4px,#1a66ae 126.4px,#1f70b6 127.9px,#287dbf 129.9px,#388dc9 131.9px,#4296cf 133.9px,#54a1d5 136.9px,#6db0dd 140.9px,#88bee2 144.9px,#9dc8e5 149.9px,#aacee8 153.9px,#b8d4ea 157.9px,#bfd8eb 161.9px,#cadeed 167.9px,#d3e3ef 174.9px,#d8e5f1 181.9px,#dde9f2 189.9px,#dfeaf3 199.9px,#e1ecf3 208.6px)"></div>
<div style="top:99px;background:linear-gradient(90deg,#293a70 0.0px,#293a70 117.9px,#27407a 118.4px,#254584 118.9px,#23498c 119.4px,#204d94 119.9px,#1e519b 120.4px,#1c54a0 120.9px,#1c56a1 121.4px,#1b57a2 121.9px,#1a5aa5 122.9px,#1a5da7 123.9px,#1961aa 124.9px,#1a66ae 125.9px,#1f70b5 127.4px,#287dbf 129.4px,#388dc9 131.4px,#4296cf 133.4px,#54a1d5 136.4px,#6cb0dd 140.4px,#88bee2 144.4px,#9cc8e5 149.4px,#aacee7 153.4px,#b8d4ea 157.4px,#bfd8eb 161.4px,#cadeed 167.4px,#d3e2ef 174.4px,#d8e5f0 181.4px,#dde9f2 189.4px,#dfeaf3 199.4px,#e2ecf3 208.6px)"></div>
<div style="top:100px;background:linear-gradient(90deg,#293a70 0.0px,#293a70 117.5px,#27407a 118.0px,#254584 118.5px,#23498c 119.0px,#204d94 119.5px,#1e519b 120.0px,#1c54a0 120.5px,#1c56a1 121.0px,#1b57a2 121.5px,#1a5aa5 122.5px,#1a5da7 123.5px,#1961aa 124.5px,#1a66ae 125.5px,#1f70b5 127.0px,#287dbf 129.0px,#388dc9 131.0px,#4296cf 133.0px,#54a1d5 136.0px,#6cb0dd 140.0px,#88bee2 144.0px,#9cc8e5 149.0px,#aacee7 153.0px,#b8d4ea 157.0px,#bfd8eb 161.0px,#cadeed 167.0px,#d3e2ef 174.0px,#d7e5f0 181.0px,#dde9f2 189.0px,#dfeaf3 199.0px,#e2ecf3 208.6px)"></div>
<div style="top:101px;background:linear-gradient(90deg,#293a70 0.0px,#293a70 117.0px,#27407a 117.5px,#254584 118.0px,#23498c 118.5px,#204d94 119.0px,#1e519b 119.5px,#1c54a0 120.0px,#1c56a1 120.5px,#1b57a2 121.0px,#1a5aa5 122.0px,#1a5da7 123.0px,#1961aa 124.0px,#1966ae 125.0px,#1f6fb5 126.5px,#287dbf 128.5px,#388dc9 130.5px,#4296cf 132.5px,#53a1d5 135.5px,#6cafdd 139.5px,#88bee2 143.5px,#9cc8e5 148.5px,#aacee7 152.5px,#b7d4ea 156.5px,#bfd8eb 160.5px,#cadeed 166.5px,#d2e2ef 173.5px,#d7e5f0 180.5px,#dde9f2 188.5px,#dfeaf3 198.5px,#e2ecf3 208.5px,#e2ecf3 208.6px)"></div>
<div style="top:102px;background:linear-gradient(90deg,#293a70 0.0px,#293a70 116.5px,#27407a 117.0px,#254584 117.5px,#23498c 118.0px,#204d94 118.5px,#1e519b 119.0px,#1c54a0 119.5px,#1c56a1 120.0px,#1b57a2 120.5px,#1a5aa5 121.5px,#1a5da7 122.5px,#1961aa 123.5px,#1965ae 124.5px,#1f6fb5 126.0px,#287dbf 128.0px,#388cc9 130.0px,#4296cf 132.0px,#53a1d5 135.0px,#6cafdc 139.0px,#87bee2 143.0px,#9cc7e5 148.0px,#aacde7 152.0px,#b7d4ea 156.0px,#bfd8eb 160.0px,#cadeed 166.0px,#d2e2ef 173.0px,#d7e5f0 180.0px,#dde8f2 188.0px,#dfeaf3 198.0px,#e2ecf3 208.0px,#e2ecf3 208.6px)"></div>
<div style="top:103px;background:linear-gradient(90deg,#293a70 0.0px,#293a70 116.1px,#27407a 116.6px,#254584 117.1px,#23498c 117.6px,#204d94 118.1px,#1e519b 118.6px,#1c54a0 119.1px,#1c56a1 119.6px,#1b57a2 120.1px,#1a5aa5 121.1px,#1a5da7 122.1px,#1961aa 123.1px,#1965ae 124.1px,#1f6fb5 125.6px,#287dbf 127.6px,#388cc9 129.6px,#4296cf 131.6px,#53a1d5 134.6px,#6bafdc 138.6px,#87bde2 142.6px,#9cc7e5 147.6px,#aacde7 151.6px,#b7d4ea 155.6px,#bed8eb 159.6px,#cadded 165.6px,#d2e2ef 172.6px,#d7e5f0 179.6px,#dce8f2 187.6px,#dfeaf3 197.6px,#e2ecf3 207.6px,#e2ecf3 208.6px)"></div>
<div style="top:104px;background:linear-gradient(90deg,#293a70 0.0px,#293a70 115.6px,#27407a 116.1px,#254584 116.6px,#23498c 117.1px,#204d94 117.6px,#1e519b 118.1px,#1c54a0 118.6px,#1c55a1 119.1px,#1b57a2 119.6px,#1a5aa5 120.6px,#1a5da7 121.6px,#1961aa 122.6px,#1965ae 123.6px,#1f6fb5 125.1px,#287dbf 127.1px,#388cc9 129.1px,#4296cf 131.1px,#53a1d5 134.1px,#6bafdc 138.1px,#87bde2 142.1px,#9bc7e5 147.1px,#a9cde7 151.1px,#b7d4ea 155.1px,#bed7eb 159.1px,#c9dded 165.1px,#d2e2ef 172.1px,#d7e5f0 179.1px,#dce8f2 187.1px,#dfeaf2 197.1px,#e2ecf3 207.1px,#e2ecf3 208.6px)"></div>
<div style="top:105px;background:linear-gradient(90deg,#293a70 0.0px,#293a70 115.1px,#27407a 115.6px,#254584 116.1px,#23498c 116.6px,#204d94 117.1px,#1e519b 117.6px,#1c54a0 118.1px,#1c55a1 118.6px,#1b57a2 119.1px,#1a5aa5 120.1px,#1a5da7 121.1px,#1961aa 122.1px,#1965ae 123.1px,#1f6fb5 124.6px,#277cbf 126.6px,#388cc9 128.6px,#4196ce 130.6px,#53a1d5 133.6px,#6bafdc 137.6px,#87bde1 141.6px,#9bc7e5 146.6px,#a9cde7 150.6px,#b7d3ea 154.6px,#bed7eb 158.6px,#c9dded 164.6px,#d2e2ef 171.6px,#d7e5f0 178.6px,#dce8f2 186.6px,#dfeaf2 196.6px,#e1ebf3 206.6px,#e1ebf3 208.6px)"></div>
<div style="top:106px;background:linear-gradient(90deg,#293a70 0.0px,#293a70 114.6px,#27407a 115.1px,#254584 115.6px,#23498c 116.1px,#204d94 116.6px,#1e519b 117.1px,#1c54a0 117.6px,#1c55a1 118.1px,#1b57a2 118.6px,#1a5aa5 119.6px,#1a5da7 120.6px,#1961aa 121.6px,#1965ae 122.6px,#1f6fb5 124.1px,#277cbf 126.1px,#388cc9 128.1px,#4195ce 130.1px,#53a1d5 133.1px,#6bafdc 137.1px,#86bde1 141.1px,#9bc7e5 146.1px,#a9cde7 150.1px,#b6d3e9 154.1px,#bed7eb 158.1px,#c9dded 164.1px,#d2e2ef 171.1px,#d6e5f0 178.1px,#dce8f2 186.1px,#dfeaf2 196.1px,#e1ebf3 206.1px,#e1ebf3 208.6px)"></div>
<div style="top:107px;background:linear-gradient(90deg,#293a70 0.0px,#293a70 114.2px,#27407a 114.7px,#254584 115.2px,#23498c 115.7px,#204d94 116.2px,#1e519b 116.7px,#1c54a0 117.2px,#1c55a1 117.7px,#1b57a2 118.2px,#1a5aa5 119.2px,#1a5da7 120.2px,#1961aa 121.2px,#1965ae 122.2px,#1f6fb5 123.7px,#277cbf 125.7px,#378cc8 127.7px,#4195ce 129.7px,#52a1d5 132.7px,#6aafdc 136.7px,#86bde1 140.7px,#9bc7e5 145.7px,#a8cde7 149.7px,#b6d3e9 153.7px,#bdd7eb 157.7px,#c8dded 163.7px,#d1e2ef 170.7px,#d6e5f0 177.7px,#dce8f2 185.7px,#deeaf2 195.7px,#e1ebf3 205.7px,#e1ebf3 208.6px)"></div>
<div style="top:108px;background:linear-gradient(90deg,#293a70 0.0px,#293a70 113.7px,#27407a 114.2px,#254584 114.7px,#23498c 115.2px,#204d94 115.7px,#1e519b 116.2px,#1c54a0 116.7px,#1c55a1 117.2px,#1b57a2 117.7px,#1a5aa5 118.7px,#1a5da7 119.7px,#1961aa 120.7px,#1965ae 121.7px,#1f6fb5 123.2px,#277cbf 125.2px,#378cc8 127.2px,#4195ce 129.2px,#52a0d5 132.2px,#6aafdc 136.2px,#85bde1 140.2px,#9ac7e5 145.2px,#a8cde7 149.2px,#b6d3e9 153.2px,#bdd7eb 157.2px,#c8dded 163.2px,#d1e1ef 170.2px,#d6e4f0 177.2px,#dce8f2 185.2px,#dee9f2 195.2px,#e1ebf3 205.2px,#e1ebf3 208.6px)"></div>
<div style="top:109px;background:linear-gradient(90deg,#293a70 0.0px,#293a70 113.2px,#27407a 113.7px,#254584 114.2px,#23498c 114.7px,#204d94 115.2px,#1e519b 115.7px,#1c54a0 116.2px,#1c55a1 116.7px,#1b57a2 117.2px,#1a5aa5 118.2px,#1a5da7 119.2px,#1961aa 120.2px,#1965ae 121.2px,#1f6fb5 122.7px,#277cbf 124.7px,#378cc8 126.7px,#4195ce 128.7px,#52a0d5 131.7px,#6aaedc 135.7px,#85bce1 139.7px,#9ac7e5 144.7px,#a8cde7 148.7px,#b5d3e9 152.7px,#bdd7eb 156.7px,#c8dded 162.7px,#d1e1ef 169.7px,#d6e4f0 176.7px,#dbe8f2 184.7px,#dee9f2 194.7px,#e1ebf3 204.7px,#e1ebf3 208.6px)"></div>
<div style="top:110px;background:linear-gradient(90deg,#293a70 0.0px,#293a70 112.7px,#27407a 113.2px,#254584 113.7px,#23498c 114.2px,#204d94 114.7px,#1e519b 115.2px,#1c54a0 115.7px,#1c55a1 116.2px,#1b57a2 116.7px,#1a5aa5 117.7px,#1a5da7 118.7px,#1961aa 119.7px,#1965ae 120.7px,#1f6fb5 122.2px,#277cbf 124.2px,#378bc8 126.2px,#4195ce 128.2px,#52a0d5 131.2px,#69aedc 135.2px,#85bce1 139.2px,#9ac7e5 144.2px,#a8cde7 148.2px,#b5d3e9 152.2px,#bdd7eb 156.2px,#c8dced 162.2px,#d0e1ef 169.2px,#d6e4f0 176.2px,#dbe8f1 184.2px,#dee9f2 194.2px,#e0ebf3 204.2px,#e1ebf3 208.6px)"></div>
<div style="top:111px;background:linear-gradient(90deg,#293a70 0.0px,#293a70 112.3px,#27407a 112.8px,#254584 113.3px,#23498c 113.8px,#204d94 114.3px,#1e519b 114.8px,#1c54a0 115.3px,#1c55a1 115.8px,#1b57a2 116.3px,#1a5aa5 117.3px,#1a5da7 118.3px,#1961aa 119.3px,#1965ae 120.3px,#1f6fb5 121.8px,#277cbe 123.8px,#378bc8 125.8px,#4095ce 127.8px,#52a0d4 130.8px,#69aedc 134.8px,#84bce1 138.8px,#9ac6e5 143.8px,#a7cce7 147.8px,#b5d2e9 151.8px,#bcd6eb 155.8px,#c7dced 161.8px,#d0e1ef 168.8px,#d5e4f0 175.8px,#dbe7f1 183.8px,#dee9f2 193.8px,#e0ebf3 203.8px,#e0ebf3 208.6px)"></div>
<div style="top:112px;background:linear-gradient(90deg,#293a70 0.0px,#293a70 111.8px,#27407a 112.3px,#254584 112.8px,#23498c 113.3px,#204d94 113.8px,#1e519b 114.3px,#1c54a0 114.8px,#1c55a1 115.3px,#1b57a2 115.8px,#1a5aa5 116.8px,#1a5da7 117.8px,#1961aa 118.8px,#1965ae 119.8px,#1f6fb5 121.3px,#277cbe 123.3px,#378bc8 125.3px,#4094ce 127.3px,#52a0d4 130.3px,#69aedc 134.3px,#84bce1 138.3px,#99c6e5 143.3px,#a7cce7 147.3px,#b4d2e9 151.3px,#bcd6eb 155.3px,#c7dced 161.3px,#d0e1ef 168.3px,#d5e4f0 175.3px,#dbe7f1 183.3px,#dde9f2 193.3px,#e0ebf3 203.3px,#e0ebf3 208.6px)"></div>
<div style="top:113px;background:linear-gradient(90deg,#293a70 0.0px,#293a70 111.3px,#27407a 111.8px,#254584 112.3px,#23498c 112.8px,#204d94 113.3px,#1e519b 113.8px,#1c54a0 114.3px,#1c55a1 114.8px,#1b57a2 115.3px,#1a5aa5 116.3px,#1a5da7 117.3px,#1961aa 118.3px,#1965ae 119.3px,#1f6fb5 120.8px,#277cbe 122.8px,#368bc8 124.8px,#4094ce 126.8px,#51a0d4 129.8px,#69aedc 133.8px,#84bce1 137.8px,#99c6e5 142.8px,#a7cce7 146.8px,#b4d2e9 150.8px,#bcd6eb 154.8px,#c7dced 160.8px,#d0e1ef 167.8px,#d5e4f0 174.8px,#dbe7f1 182.8px,#dde9f2 192.8px,#e0eaf3 202.8px,#e0ebf3 208.6px)"></div>
<div style="top:114px;background:linear-gradient(90deg,#293a70 0.0px,#293a70 110.8px,#27407a 111.3px,#254584 111.8px,#23498c 112.3px,#204d94 112.8px,#1e519b 113.3px,#1c54a0 113.8px,#1c55a1 114.3px,#1b57a2 114.8px,#1a5aa5 115.8px,#1a5da7 116.8px,#1961aa 117.8px,#1965ae 118.8px,#1f6fb5 120.3px,#267bbe 122.3px,#368bc8 124.3px,#4094ce 126.3px,#51a0d4 129.3px,#68aedc 133.3px,#83bbe1 137.3px,#99c6e5 142.3px,#a7cce7 146.3px,#b4d2e9 150.3px,#bbd6ea 154.3px,#c7dced 160.3px,#cfe1ee 167.3px,#d5e4f0 174.3px,#dae7f1 182.3px,#dde9f2 192.3px,#e0eaf3 202.3px,#e0ebf3 208.6px)"></div>
<div style="top:115px;background:linear-gradient(90deg,#293a70 0.0px,#293a70 110.3px,#27407a 110.8px,#254584 111.3px,#23498c 111.8px,#204d94 112.3px,#1e519b 112.8px,#1c54a0 113.3px,#1c55a1 113.8px,#1b57a2 114.3px,#1a5aa5 115.3px,#1a5da7 116.3px,#1961aa 117.3px,#1965ae 118.3px,#1f6fb5 119.8px,#267bbe 121.8px,#368bc8 123.8px,#4094ce 125.8px,#51a0d4 128.8px,#68addc 132.8px,#83bbe1 136.8px,#99c6e5 141.8px,#a6cce7 145.8px,#b4d2e9 149.8px,#bbd6ea 153.8px,#c6dced 159.8px,#cfe0ee 166.8px,#d4e4f0 173.8px,#dae7f1 181.8px,#dde9f2 191.8px,#dfeaf3 201.8px,#e0ebf3 208.6px)"></div>
<div style="top:116px;background:linear-gradient(90deg,#293a70 0.0px,#293a70 109.8px,#27407a 110.3px,#254584 110.8px,#23498c 111.3px,#204d94 111.8px,#1e519b 112.3px,#1c54a0 112.8px,#1c55a1 113.3px,#1b57a2 113.8px,#1a5aa5 114.8px,#1a5da7 115.8px,#1961aa 116.8px,#1965ad 117.8px,#1f6fb5 119.3px,#267bbe 121.3px,#368ac8 123.3px,#4094cd 125.3px,#51a0d4 128.3px,#68addc 132.3px,#82bbe1 136.3px,#98c6e5 141.3px,#a6cce7 145.3px,#b3d2e9 149.3px,#bbd6ea 153.3px,#c6dced 159.3px,#cfe0ee 166.3px,#d4e3f0 173.3px,#dae7f1 181.3px,#dde9f2 191.3px,#dfeaf3 201.3px,#e0eaf3 208.6px)"></div>
<div style="top:117px;background:linear-gradient(90deg,#293a70 0.0px,#293a70 109.3px,#27407a 109.8px,#254584 110.3px,#23498c 110.8px,#204d94 111.3px,#1e519b 111.8px,#1c54a0 112.3px,#1c55a1 112.8px,#1b57a2 113.3px,#1a5aa5 114.3px,#1a5da7 115.3px,#1960aa 116.3px,#1965ad 117.3px,#1f6fb5 118.8px,#267bbe 120.8px,#368ac7 122.8px,#4094cd 124.8px,#51a0d4 127.8px,#68addc 131.8px,#82bbe1 135.8px,#98c6e5 140.8px,#a6cce7 144.8px,#b3d2e9 148.8px,#bad5ea 152.8px,#c6dbed 158.8px,#cfe0ee 165.8px,#d4e3f0 172.8px,#dae7f1 180.8px,#dce8f2 190.8px,#dfeaf3 200.8px,#e0eaf3 208.6px)"></div>
<div style="top:118px;background:linear-gradient(90deg,#293a70 0.0px,#293a70 108.8px,#27407a 109.3px,#254584 109.8px,#23498c 110.3px,#204d94 110.8px,#1e519b 111.3px,#1c54a0 111.8px,#1c55a1 112.3px,#1b57a2 112.8px,#1a5aa5 113.8px,#1a5da7 114.8px,#1960aa 115.8px,#1965ad 116.8px,#1f6fb5 118.3px,#267bbe 120.3px,#368ac7 122.3px,#3f94cd 124.3px,#509fd4 127.3px,#67addb 131.3px,#82bbe1 135.3px,#98c6e5 140.3px,#a6cce7 144.3px,#b3d1e9 148.3px,#bad5ea 152.3px,#c5dbec 158.3px,#cee0ee 165.3px,#d4e3ef 172.3px,#dae7f1 180.3px,#dce8f2 190.3px,#dfeaf2 200.3px,#e0eaf3 208.6px)"></div>
<div style="top:119px;background:linear-gradient(90deg,#293a70 0.0px,#293a70 108.3px,#27407a 108.8px,#254584 109.3px,#23498c 109.8px,#204d94 110.3px,#1e519b 110.8px,#1c54a0 111.3px,#1c55a1 111.8px,#1b57a2 112.3px,#1a5aa5 113.3px,#1a5da7 114.3px,#1960aa 115.3px,#1965ad 116.3px,#1f6eb5 117.8px,#267bbe 119.8px,#358ac7 121.8px,#3f93cd 123.8px,#509fd4 126.8px,#67addb 130.8px,#81bae1 134.8px,#97c6e5 139.8px,#a5cce7 143.8px,#b2d1e9 147.8px,#bad5ea 151.8px,#c5dbec 157.8px,#cee0ee 164.8px,#d4e3ef 171.8px,#d9e7f1 179.8px,#dce8f2 189.8px,#dfeaf2 199.8px,#dfeaf3 208.6px)"></div>
<div style="top:120px;background:linear-gradient(90deg,#293a70 0.0px,#293a70 107.8px,#27407a 108.3px,#254584 108.8px,#23498c 109.3px,#204d94 109.8px,#1e519b 110.3px,#1c54a0 110.8px,#1c55a1 111.3px,#1b57a2 111.8px,#1a5aa5 112.8px,#1a5da7 113.8px,#1960aa 114.8px,#1965ad 115.8px,#1f6eb5 117.3px,#267bbe 119.3px,#358ac7 121.3px,#3f93cd 123.3px,#509fd4 126.3px,#67addb 130.3px,#81bae0 134.3px,#97c5e4 139.3px,#a5cbe7 143.3px,#b2d1e9 147.3px,#bad5ea 151.3px,#c5dbec 157.3px,#cee0ee 164.3px,#d3e3ef 171.3px,#d9e6f1 179.3px,#dce8f2 189.3px,#deeaf2 199.3px,#dfeaf3 208.6px)"></div>
<div style="top:121px;background:linear-gradient(90deg,#293a70 0.0px,#293a70 107.3px,#27407a 107.8px,#254584 108.3px,#23498c 108.8px,#204d94 109.3px,#1e519b 109.8px,#1c54a0 110.3px,#1c55a1 110.8px,#1b57a2 111.3px,#1a5aa5 112.3px,#1a5da7 113.3px,#1960aa 114.3px,#1965ad 115.3px,#1f6eb5 116.8px,#267bbe 118.8px,#358ac7 120.8px,#3f93cd 122.8px,#509fd4 125.8px,#67addb 129.8px,#81bae0 133.8px,#97c5e4 138.8px,#a5cbe7 142.8px,#b2d1e9 146.8px,#b9d5ea 150.8px,#c5dbec 156.8px,#cee0ee 163.8px,#d3e3ef 170.8px,#d9e6f1 178.8px,#dce8f2 188.8px,#deeaf2 198.8px,#dfeaf3 208.6px)"></div>
<div style="top:122px;background:linear-gradient(90deg,#293a70 0.0px,#293a70 106.8px,#27407a 107.3px,#254584 107.8px,#23498c 108.3px,#204d94 108.8px,#1e519b 109.3px,#1c54a0 109.8px,#1c55a1 110.3px,#1b57a2 110.8px,#1a5aa5 111.8px,#1a5da7 112.8px,#1960aa 113.8px,#1965ad 114.8px,#1f6eb4 116.3px,#267bbe 118.3px,#3589c7 120.3px,#3f93cd 122.3px,#509fd4 125.3px,#66acdb 129.3px,#80bae0 133.3px,#97c5e4 138.3px,#a5cbe7 142.3px,#b1d1e9 146.3px,#b9d5ea 150.3px,#c4dbec 156.3px,#cde0ee 163.3px,#d3e3ef 170.3px,#d9e6f1 178.3px,#dbe8f2 188.3px,#dee9f2 198.3px,#dfeaf3 208.3px,#dfeaf3 208.6px)"></div>
<div style="top:123px;background:linear-gradient(90deg,#293a70 0.0px,#293a70 106.3px,#27407a 106.8px,#254584 107.3px,#23498c 107.8px,#204d94 108.3px,#1e519b 108.8px,#1c54a0 109.3px,#1c55a1 109.8px,#1b57a2 110.3px,#1a5aa5 111.3px,#1a5da7 112.3px,#1960aa 113.3px,#1965ad 114.3px,#1f6eb4 115.8px,#267bbe 117.8px,#3589c7 119.8px,#3f93cd 121.8px,#509fd4 124.8px,#66acdb 128.8px,#80bae0 132.8px,#96c5e4 137.8px,#a4cbe7 141.8px,#b1d1e9 145.8px,#b9d5ea 149.8px,#c4dbec 155.8px,#cddfee 162.8px,#d3e2ef 169.8px,#d9e6f1 177.8px,#dbe8f1 187.8px,#dee9f2 197.8px,#dfeaf2 207.8px,#dfeaf2 208.6px)"></div>
<div style="top:124px;background:linear-gradient(90deg,#293a70 0.0px,#293a70 105.8px,#27407a 106.3px,#254584 106.8px,#23498c 107.3px,#204d94 107.8px,#1e519b 108.3px,#1c54a0 108.8px,#1c55a1 109.3px,#1b57a2 109.8px,#1a5aa5 110.8px,#1a5da7 111.8px,#1960aa 112.8px,#1965ad 113.8px,#1f6eb4 115.3px,#267abe 117.3px,#3589c7 119.3px,#3e93cd 121.3px,#4f9fd4 124.3px,#66acdb 128.3px,#7fbae0 132.3px,#96c5e4 137.3px,#a4cbe6 141.3px,#b1d1e8 145.3px,#b8d4ea 149.3px,#c4daec 155.3px,#cddfee 162.3px,#d3e2ef 169.3px,#d8e6f1 177.3px,#dbe8f1 187.3px,#dee9f2 197.3px,#dfeaf2 207.3px,#dfeaf2 208.6px)"></div>
<div style="top:125px;background:linear-gradient(90deg,#293a70 0.0px,#293a70 105.3px,#27407a 105.8px,#254584 106.3px,#23498c 106.8px,#204d94 107.3px,#1e519b 107.8px,#1c54a0 108.3px,#1c55a1 108.8px,#1b57a2 109.3px,#1a5aa5 110.3px,#1a5da7 111.3px,#1960aa 112.3px,#1965ad 113.3px,#1f6eb4 114.8px,#267abe 116.8px,#3489c7 118.8px,#3e92cd 120.8px,#4f9fd4 123.8px,#66acdb 127.8px,#7fb9e0 131.8px,#96c5e4 136.8px,#a4cbe6 140.8px,#b0d0e8 144.8px,#b8d4ea 148.8px,#c3daec 154.8px,#cddfee 161.8px,#d2e2ef 168.8px,#d8e6f1 176.8px,#dbe7f1 186.8px,#dee9f2 196.8px,#dfeaf2 206.8px,#dfeaf2 208.6px)"></div>
<div style="top:126px;background:linear-gradient(90deg,#293a70 0.0px,#293a70 104.8px,#27407a 105.3px,#254584 105.8px,#23498c 106.3px,#204d94 106.8px,#1e519b 107.3px,#1c54a0 107.8px,#1c55a1 108.3px,#1b57a2 108.8px,#1a5aa5 109.8px,#1a5da7 110.8px,#1960aa 111.8px,#1965ad 112.8px,#1e6eb4 114.3px,#267abd 116.3px,#3489c7 118.3px,#3e92cc 120.3px,#4f9fd4 123.3px,#65acdb 127.3px,#7fb9e0 131.3px,#96c5e4 136.3px,#a3cbe6 140.3px,#b0d0e8 144.3px,#b8d4ea 148.3px,#c3daec 154.3px,#ccdfee 161.3px,#d2e2ef 168.3px,#d8e6f1 176.3px,#dbe7f1 186.3px,#dde9f2 196.3px,#deeaf2 206.3px,#deeaf2 208.6px)"></div>
<div style="top:127px;background:linear-gradient(90deg,#293a70 0.0px,#293a70 104.3px,#27407a 104.8px,#254584 105.3px,#23498c 105.8px,#204d94 106.3px,#1e519b 106.8px,#1c54a0 107.3px,#1c55a1 107.8px,#1b57a2 108.3px,#1a5aa5 109.3px,#1a5da7 110.3px,#1960aa 111.3px,#1965ad 112.3px,#1e6eb4 113.8px,#267abd 115.8px,#3489c6 117.8px,#3e92cc 119.8px,#4f9ed4 122.8px,#65acdb 126.8px,#7eb9e0 130.8px,#95c5e4 135.8px,#a3cbe6 139.8px,#b0d0e8 143.8px,#b8d4ea 147.8px,#c3daec 153.8px,#ccdfee 160.8px,#d2e2ef 167.8px,#d8e6f1 175.8px,#dae7f1 185.8px,#dde9f2 195.8px,#dee9f2 205.8px,#deeaf2 208.6px)"></div>
<div style="top:128px;background:linear-gradient(90deg,#293a70 0.0px,#293a70 103.8px,#27407a 104.3px,#254584 104.8px,#23498c 105.3px,#204d94 105.8px,#1e519b 106.3px,#1c54a0 106.8px,#1c55a1 107.3px,#1b57a2 107.8px,#1a5aa5 108.8px,#1a5da7 109.8px,#1960aa 110.8px,#1965ad 111.8px,#1e6eb4 113.3px,#257abd 115.3px,#3488c6 117.3px,#3e92cc 119.3px,#4f9ed3 122.3px,#65acdb 126.3px,#7eb9e0 130.3px,#95c4e4 135.3px,#a3cbe6 139.3px,#afd0e8 143.3px,#b7d4ea 147.3px,#c3daec 153.3px,#ccdfee 160.3px,#d2e2ef 167.3px,#d8e5f0 175.3px,#dae7f1 185.3px,#dde9f2 195.3px,#dee9f2 205.3px,#deeaf2 208.6px)"></div>
<div style="top:129px;background:linear-gradient(90deg,#293a70 0.0px,#293a70 103.3px,#27407a 103.8px,#254584 104.3px,#23498c 104.8px,#204d94 105.3px,#1e519b 105.8px,#1c54a0 106.3px,#1c55a1 106.8px,#1b57a2 107.3px,#1a5aa5 108.3px,#1a5da7 109.3px,#1960aa 110.3px,#1965ad 111.3px,#1e6eb4 112.8px,#257abd 114.8px,#3488c6 116.8px,#3e92cc 118.8px,#4f9ed3 121.8px,#65abdb 125.8px,#7eb9e0 129.8px,#95c4e4 134.8px,#a3cae6 138.8px,#afd0e8 142.8px,#b7d4ea 146.8px,#c2daec 152.8px,#ccdfee 159.8px,#d1e2ef 166.8px,#d7e5f0 174.8px,#dae7f1 184.8px,#dde9f2 194.8px,#dee9f2 204.8px,#dee9f2 208.6px)"></div>
<div style="top:130px;background:linear-gradient(90deg,#293a70 0.0px,#293a70 102.8px,#27407a 103.3px,#254584 103.8px,#23498c 104.3px,#204d94 104.8px,#1e519b 105.3px,#1c54a0 105.8px,#1c55a1 106.3px,#1b57a2 106.8px,#1b5aa4 107.8px,#1a5da7 108.8px,#1960aa 109.8px,#1964ad 110.8px,#1e6eb4 112.3px,#257abd 114.3px,#3488c6 116.3px,#3d92cc 118.3px,#4e9ed3 121.3px,#64abdb 125.3px,#7db8e0 129.3px,#94c4e4 134.3px,#a2cae6 138.3px,#afd0e8 142.3px,#b7d3ea 146.3px,#c2d9ec 152.3px,#cbdeee 159.3px,#d1e2ef 166.3px,#d7e5f0 174.3px,#dae7f1 184.3px,#dde8f2 194.3px,#dee9f2 204.3px,#dee9f2 208.6px)"></div>
<div style="top:131px;background:linear-gradient(90deg,#293a70 0.0px,#293a70 102.3px,#27407a 102.8px,#254584 103.3px,#23498c 103.8px,#204d94 104.3px,#1e519b 104.8px,#1c54a0 105.3px,#1c55a1 105.8px,#1b57a2 106.3px,#1b5aa4 107.3px,#1a5da7 108.3px,#1960aa 109.3px,#1964ad 110.3px,#1e6eb4 111.8px,#257abd 113.8px,#3388c6 115.8px,#3d92cc 117.8px,#4e9ed3 120.8px,#64abda 124.8px,#7db8e0 128.8px,#94c4e4 133.8px,#a2cae6 137.8px,#afd0e8 141.8px,#b6d3e9 145.8px,#c2d9ec 151.8px,#cbdeee 158.8px,#d1e1ef 165.8px,#d7e5f0 173.8px,#dae7f1 183.8px,#dce8f2 193.8px,#dee9f2 203.8px,#dee9f2 208.6px)"></div>
<div style="top:132px;background:linear-gradient(90deg,#293a70 0.0px,#293a70 101.7px,#27407a 102.2px,#254584 102.7px,#23498c 103.2px,#204d94 103.7px,#1e519b 104.2px,#1c54a0 104.7px,#1c55a1 105.2px,#1b57a2 105.7px,#1b5aa4 106.7px,#1a5da7 107.7px,#1960aa 108.7px,#1964ad 109.7px,#1e6eb4 111.2px,#257abd 113.2px,#3388c6 115.2px,#3d91cc 117.2px,#4e9ed3 120.2px,#64abda 124.2px,#7db8e0 128.2px,#94c4e4 133.2px,#a2cae6 137.2px,#aecfe8 141.2px,#b6d3e9 145.2px,#c1d9ec 151.2px,#cbdeee 158.2px,#d1e1ef 165.2px,#d7e5f0 173.2px,#d9e7f1 183.2px,#dce8f2 193.2px,#dde9f2 203.2px,#dee9f2 208.6px)"></div>
<div style="top:133px;background:linear-gradient(90deg,#293a70 0.0px,#293a70 101.2px,#27407a 101.7px,#254584 102.2px,#23498c 102.7px,#204d94 103.2px,#1e519b 103.7px,#1c54a0 104.2px,#1c55a1 104.7px,#1b57a2 105.2px,#1b5aa4 106.2px,#1a5da7 107.2px,#1960aa 108.2px,#1964ad 109.2px,#1e6eb4 110.7px,#257abd 112.7px,#3388c6 114.7px,#3d91cc 116.7px,#4e9ed3 119.7px,#64abda 123.7px,#7cb8e0 127.7px,#94c4e4 132.7px,#a2cae6 136.7px,#aecfe8 140.7px,#b6d3e9 144.7px,#c1d9ec 150.7px,#cbdeee 157.7px,#d0e1ef 164.7px,#d7e5f0 172.7px,#d9e6f1 182.7px,#dce8f2 192.7px,#dde9f2 202.7px,#dee9f2 208.6px)"></div>
<div style="top:134px;background:linear-gradient(90deg,#293a70 0.0px,#293a70 100.7px,#27407a 101.2px,#254584 101.7px,#23498c 102.2px,#204d94 102.7px,#1e519b 103.2px,#1c54a0 103.7px,#1c55a1 104.2px,#1b57a2 104.7px,#1b5aa4 105.7px,#1a5da7 106.7px,#1960aa 107.7px,#1964ad 108.7px,#1e6eb4 110.2px,#257abd 112.2px,#3387c6 114.2px,#3d91cc 116.2px,#4e9ed3 119.2px,#63abda 123.2px,#7cb8df 127.2px,#93c4e4 132.2px,#a1cae6 136.2px,#aecfe8 140.2px,#b6d3e9 144.2px,#c1d9ec 150.2px,#cadeed 157.2px,#d0e1ef 164.2px,#d6e5f0 172.2px,#d9e6f1 182.2px,#dce8f2 192.2px,#dde9f2 202.2px,#dde9f2 208.6px)"></div>
<div style="top:135px;background:linear-gradient(90deg,#293a70 0.0px,#293a70 100.2px,#27407a 100.7px,#254584 101.2px,#23498c 101.7px,#204d94 102.2px,#1e519b 102.7px,#1c54a0 103.2px,#1c55a1 103.7px,#1b57a2 104.2px,#1b5aa4 105.2px,#1a5da7 106.2px,#1960aa 107.2px,#1964ad 108.2px,#1e6eb4 109.7px,#2579bd 111.7px,#3387c6 113.7px,#3d91cc 115.7px,#4d9ed3 118.7px,#63abda 122.7px,#7bb7df 126.7px,#93c3e4 131.7px,#a1cae6 135.7px,#adcfe8 139.7px,#b5d3e9 143.7px,#c1d9ec 149.7px,#cadeed 156.7px,#d0e1ef 163.7px,#d6e5f0 171.7px,#d9e6f1 181.7px,#dce8f2 191.7px,#dde9f2 201.7px,#dde9f2 208.6px)"></div>
<div style="top:136px;background:linear-gradient(90deg,#293a70 0.0px,#293a70 99.6px,#27407a 100.1px,#254584 100.6px,#23498c 101.1px,#204d94 101.6px,#1e519b 102.1px,#1c54a0 102.6px,#1c55a1 103.1px,#1b57a2 103.6px,#1b5aa4 104.6px,#1a5da7 105.6px,#1960aa 106.6px,#1964ad 107.6px,#1e6eb4 109.1px,#2579bd 111.1px,#3387c6 113.1px,#3d91cc 115.1px,#4d9ed3 118.1px,#63aada 122.1px,#7bb7df 126.1px,#92c3e4 131.1px,#a1cae6 135.1px,#adcfe8 139.1px,#b5d3e9 143.1px,#c0d9eb 149.1px,#cadeed 156.1px,#d0e1ef 163.1px,#d6e4f0 171.1px,#d9e6f1 181.1px,#dbe8f2 191.1px,#dde9f2 201.1px,#dde9f2 208.6px)"></div>
<div style="top:137px;background:linear-gradient(90deg,#293a70 0.0px,#293a70 99.1px,#27407a 99.6px,#254584 100.1px,#23498c 100.6px,#204d94 101.1px,#1e519b 101.6px,#1c54a0 102.1px,#1c55a1 102.6px,#1b57a2 103.1px,#1b5aa4 104.1px,#1a5da7 105.1px,#1960aa 106.1px,#1964ad 107.1px,#1e6eb4 108.6px,#2579bd 110.6px,#3287c5 112.6px,#3c91cb 114.6px,#4d9dd3 117.6px,#63aada 121.6px,#7bb7df 125.6px,#92c3e4 130.6px,#a1c9e6 134.6px,#adcfe8 138.6px,#b5d2e9 142.6px,#c0d8eb 148.6px,#c9dded 155.6px,#cfe1ee 162.6px,#d6e4f0 170.6px,#d8e6f1 180.6px,#dbe8f1 190.6px,#dde8f2 200.6px,#dde9f2 208.6px)"></div>
<div style="top:138px;background:linear-gradient(90deg,#293a70 0.0px,#293a70 98.6px,#27407a 99.1px,#254584 99.6px,#23498c 100.1px,#204d94 100.6px,#1e519b 101.1px,#1c54a0 101.6px,#1c55a1 102.1px,#1b57a2 102.6px,#1b5aa4 103.6px,#1a5da7 104.6px,#1960aa 105.6px,#1964ad 106.6px,#1e6eb4 108.1px,#2579bd 110.1px,#3287c5 112.1px,#3c90cb 114.1px,#4d9dd3 117.1px,#62aada 121.1px,#7ab7df 125.1px,#92c3e4 130.1px,#a0c9e6 134.1px,#accfe8 138.1px,#b4d2e9 142.1px,#c0d8eb 148.1px,#c9dded 155.1px,#cfe1ee 162.1px,#d6e4f0 170.1px,#d8e6f1 180.1px,#dbe8f1 190.1px,#dce8f2 200.1px,#dde9f2 208.6px)"></div>
<div style="top:139px;background:linear-gradient(90deg,#293a70 0.0px,#293a70 98.1px,#27407a 98.6px,#254584 99.1px,#23498c 99.6px,#204d94 100.1px,#1e519b 100.6px,#1c54a0 101.1px,#1c55a1 101.6px,#1b57a2 102.1px,#1b59a4 103.1px,#1a5ca7 104.1px,#1960aa 105.1px,#1964ad 106.1px,#1e6eb4 107.6px,#2579bd 109.6px,#3287c5 111.6px,#3c90cb 113.6px,#4d9dd3 116.6px,#62aada 120.6px,#7ab7df 124.6px,#91c3e4 129.6px,#a0c9e6 133.6px,#accee8 137.6px,#b4d2e9 141.6px,#bfd8eb 147.6px,#c9dded 154.6px,#cfe0ee 161.6px,#d5e4f0 169.6px,#d8e6f1 179.6px,#dbe7f1 189.6px,#dce8f2 199.6px,#dde9f2 208.6px)"></div>
<div style="top:140px;background:linear-gradient(90deg,#293a70 0.0px,#293a70 97.5px,#27407a 98.0px,#254584 98.5px,#23498c 99.0px,#204d94 99.5px,#1e519b 100.0px,#1c54a0 100.5px,#1c55a1 101.0px,#1b57a2 101.5px,#1b59a4 102.5px,#1a5ca7 103.5px,#1960aa 104.5px,#1964ad 105.5px,#1e6db4 107.0px,#2579bc 109.0px,#3286c5 111.0px,#3c90cb 113.0px,#4d9dd3 116.0px,#62aada 120.0px,#7ab6df 124.0px,#91c2e3 129.0px,#a0c9e6 133.0px,#accee8 137.0px,#b4d2e9 141.0px,#bfd8eb 147.0px,#c9dded 154.0px,#cfe0ee 161.0px,#d5e4f0 169.0px,#d8e6f1 179.0px,#dbe7f1 189.0px,#dce8f2 199.0px,#dde9f2 208.6px)"></div>
<div style="top:141px;background:linear-gradient(90deg,#293a70 0.0px,#293a70 97.0px,#27407a 97.5px,#254584 98.0px,#23498c 98.5px,#204d94 99.0px,#1e519b 99.5px,#1c54a0 100.0px,#1c55a1 100.5px,#1b57a2 101.0px,#1b59a4 102.0px,#1a5ca7 103.0px,#1960aa 104.0px,#1964ad 105.0px,#1e6db4 106.5px,#2579bc 108.5px,#3286c5 110.5px,#3c90cb 112.5px,#4c9dd3 115.5px,#62aada 119.5px,#79b6df 123.5px,#91c2e3 128.5px,#9fc9e6 132.5px,#abcee8 136.5px,#b3d2e9 140.5px,#bfd8eb 146.5px,#c8dded 153.5px,#cee0ee 160.5px,#d5e4f0 168.5px,#d8e6f1 178.5px,#dae7f1 188.5px,#dce8f2 198.5px,#dce8f2 208.6px)"></div>
<div style="top:142px;background:linear-gradient(90deg,#293a70 0.0px,#293a70 96.5px,#27407a 97.0px,#254584 97.5px,#23498c 98.0px,#204d94 98.5px,#1e519b 99.0px,#1c54a0 99.5px,#1c55a1 100.0px,#1b57a2 100.5px,#1b59a4 101.5px,#1a5ca7 102.5px,#1960aa 103.5px,#1964ad 104.5px,#1e6db4 106.0px,#2579bc 108.0px,#3286c5 110.0px,#3c90cb 112.0px,#4c9dd3 115.0px,#61a9da 119.0px,#79b6df 123.0px,#90c2e3 128.0px,#9fc9e6 132.0px,#abcee8 136.0px,#b3d2e9 140.0px,#bfd8eb 146.0px,#c8dded 153.0px,#cee0ee 160.0px,#d5e4f0 168.0px,#d8e5f0 178.0px,#dae7f1 188.0px,#dce8f2 198.0px,#dce8f2 208.6px)"></div>
<div style="top:143px;background:linear-gradient(90deg,#293a70 0.0px,#293a70 95.9px,#27407a 96.4px,#254584 96.9px,#23498c 97.4px,#204d94 97.9px,#1e519b 98.4px,#1c54a0 98.9px,#1c55a1 99.4px,#1b57a2 99.9px,#1b59a4 100.9px,#1a5ca7 101.9px,#1960aa 102.9px,#1964ad 103.9px,#1e6db4 105.4px,#2579bc 107.4px,#3186c5 109.4px,#3b90cb 111.4px,#4c9dd3 114.4px,#61a9d9 118.4px,#78b6df 122.4px,#90c2e3 127.4px,#9fc9e6 131.4px,#abcee8 135.4px,#b3d2e9 139.4px,#bed8eb 145.4px,#c8dded 152.4px,#cee0ee 159.4px,#d5e4f0 167.4px,#d7e5f0 177.4px,#dae7f1 187.4px,#dce8f2 197.4px,#dce8f2 208.6px)"></div>
<div style="top:144px;background:linear-gradient(90deg,#293a70 0.0px,#293a70 95.4px,#27407a 95.9px,#254584 96.4px,#23498c 96.9px,#204d94 97.4px,#1e519b 97.9px,#1c54a0 98.4px,#1c55a1 98.9px,#1b57a2 99.4px,#1b59a4 100.4px,#1a5ca7 101.4px,#1960aa 102.4px,#1964ad 103.4px,#1e6db4 104.9px,#2579bc 106.9px,#3186c5 108.9px,#3b90cb 110.9px,#4c9dd3 113.9px,#61a9d9 117.9px,#78b6df 121.9px,#90c2e3 126.9px,#9fc9e6 130.9px,#aacee8 134.9px,#b3d1e9 138.9px,#bed7eb 144.9px,#c8dced 151.9px,#cee0ee 158.9px,#d4e3f0 166.9px,#d7e5f0 176.9px,#dae7f1 186.9px,#dbe8f2 196.9px,#dce8f2 208.6px)"></div>
<div style="top:145px;background:linear-gradient(90deg,#293a70 0.0px,#293a70 94.9px,#27407a 95.4px,#254584 95.9px,#23498c 96.4px,#204d94 96.9px,#1e519b 97.4px,#1c54a0 97.9px,#1c55a1 98.4px,#1b57a2 98.9px,#1b59a4 99.9px,#1a5ca7 100.9px,#1960aa 101.9px,#1964ad 102.9px,#1e6db4 104.4px,#2579bc 106.4px,#3186c5 108.4px,#3b8fcb 110.4px,#4c9dd2 113.4px,#61a9d9 117.4px,#78b6df 121.4px,#8fc2e3 126.4px,#9ec9e6 130.4px,#aacee7 134.4px,#b2d1e9 138.4px,#bed7eb 144.4px,#c7dced 151.4px,#cee0ee 158.4px,#d4e3f0 166.4px,#d7e5f0 176.4px,#dae7f1 186.4px,#dbe8f1 196.4px,#dce8f2 208.6px)"></div>
<div style="top:146px;background:linear-gradient(90deg,#293a70 0.0px,#293a70 94.3px,#27407a 94.8px,#254584 95.3px,#23498c 95.8px,#204d94 96.3px,#1e519b 96.8px,#1c549f 97.3px,#1c55a1 97.8px,#1b57a2 98.3px,#1b59a4 99.3px,#1a5ca7 100.3px,#1960aa 101.3px,#1964ad 102.3px,#1e6db4 103.8px,#2478bc 105.8px,#3185c5 107.8px,#3b8fcb 109.8px,#4b9cd2 112.8px,#60a9d9 116.8px,#77b5df 120.8px,#8fc1e3 125.8px,#9ec8e6 129.8px,#aacee7 133.8px,#b2d1e9 137.8px,#bed7eb 143.8px,#c7dced 150.8px,#cddfee 157.8px,#d4e3f0 165.8px,#d7e5f0 175.8px,#dae7f1 185.8px,#dbe8f1 195.8px,#dce8f2 208.6px)"></div>
<div style="top:147px;background:linear-gradient(90deg,#293a70 0.0px,#293a70 93.8px,#27407a 94.3px,#254584 94.8px,#23498c 95.3px,#204d94 95.8px,#1e519b 96.3px,#1c549f 96.8px,#1c55a1 97.3px,#1b57a2 97.8px,#1b59a4 98.8px,#1a5ca7 99.8px,#1960aa 100.8px,#1964ad 101.8px,#1e6db4 103.3px,#2478bc 105.3px,#3185c4 107.3px,#3b8fca 109.3px,#4b9cd2 112.3px,#60a9d9 116.3px,#77b5df 120.3px,#8ec1e3 125.3px,#9ec8e6 129.3px,#a9cde7 133.3px,#b2d1e9 137.3px,#bdd7eb 143.3px,#c7dced 150.3px,#cddfee 157.3px,#d4e3ef 165.3px,#d7e5f0 175.3px,#d9e7f1 185.3px,#dbe7f1 195.3px,#dce8f2 208.6px)"></div>
<div style="top:148px;background:linear-gradient(90deg,#293a70 0.0px,#293a70 93.2px,#27407a 93.7px,#254584 94.2px,#23498c 94.7px,#204d94 95.2px,#1e519b 95.7px,#1c549f 96.2px,#1c55a1 96.7px,#1b57a2 97.2px,#1b59a4 98.2px,#1a5ca7 99.2px,#1960aa 100.2px,#1964ad 101.2px,#1e6db4 102.7px,#2478bc 104.7px,#3085c4 106.7px,#3b8fca 108.7px,#4b9cd2 111.7px,#60a9d9 115.7px,#77b5df 119.7px,#8ec1e3 124.7px,#9ec8e6 128.7px,#a9cde7 132.7px,#b1d1e9 136.7px,#bdd7eb 142.7px,#c7dced 149.7px,#cddfee 156.7px,#d4e3ef 164.7px,#d6e5f0 174.7px,#d9e6f1 184.7px,#dbe7f1 194.7px,#dce8f2 208.6px)"></div>
<div style="top:149px;background:linear-gradient(90deg,#293a70 0.0px,#293a70 92.7px,#27407a 93.2px,#254584 93.7px,#23498c 94.2px,#204d94 94.7px,#1e519b 95.2px,#1c549f 95.7px,#1c55a1 96.2px,#1b57a2 96.7px,#1b59a4 97.7px,#1a5ca7 98.7px,#1960aa 99.7px,#1864ad 100.7px,#1e6db4 102.2px,#2478bc 104.2px,#3085c4 106.2px,#3a8fca 108.2px,#4b9cd2 111.2px,#60a8d9 115.2px,#76b5de 119.2px,#8ec1e3 124.2px,#9dc8e5 128.2px,#a9cde7 132.2px,#b1d1e9 136.2px,#bdd7eb 142.2px,#c6dced 149.2px,#cddfee 156.2px,#d3e3ef 164.2px,#d6e5f0 174.2px,#d9e6f1 184.2px,#dbe7f1 194.2px,#dbe8f2 208.6px)"></div>
<div style="top:150px;background:linear-gradient(90deg,#293a70 0.0px,#293a70 92.1px,#27407a 92.6px,#254584 93.1px,#23498c 93.6px,#204d94 94.1px,#1e519b 94.6px,#1c549f 95.1px,#1c55a1 95.6px,#1b57a2 96.1px,#1b59a4 97.1px,#1a5ca7 98.1px,#1960a9 99.1px,#1864ad 100.1px,#1e6db3 101.6px,#2478bc 103.6px,#3085c4 105.6px,#3a8fca 107.6px,#4b9cd2 110.6px,#5fa8d9 114.6px,#76b5de 118.6px,#8dc1e3 123.6px,#9dc8e5 127.6px,#a9cde7 131.6px,#b1d1e8 135.6px,#bcd6eb 141.6px,#c6dced 148.6px,#ccdfee 155.6px,#d3e3ef 163.6px,#d6e4f0 173.6px,#d9e6f1 183.6px,#dae7f1 193.6px,#dbe8f2 208.6px)"></div>
<div style="top:151px;background:linear-gradient(90deg,#293a70 0.0px,#293a70 91.6px,#27407a 92.1px,#254584 92.6px,#23498c 93.1px,#204d94 93.6px,#1e519b 94.1px,#1c549f 94.6px,#1c55a1 95.1px,#1b56a2 95.6px,#1b59a4 96.6px,#1a5ca7 97.6px,#1960a9 98.6px,#1864ad 99.6px,#1e6db3 101.1px,#2478bc 103.1px,#3085c4 105.1px,#3a8eca 107.1px,#4b9cd2 110.1px,#5fa8d9 114.1px,#75b4de 118.1px,#8dc0e3 123.1px,#9dc8e5 127.1px,#a8cde7 131.1px,#b0d0e8 135.1px,#bcd6eb 141.1px,#c6dced 148.1px,#ccdfee 155.1px,#d3e3ef 163.1px,#d6e4f0 173.1px,#d9e6f1 183.1px,#dae7f1 193.1px,#dbe8f1 208.1px,#dbe8f1 208.6px)"></div>
<div style="top:152px;background:linear-gradient(90deg,#293a70 0.0px,#293a70 91.0px,#27407a 91.5px,#254584 92.0px,#23498c 92.5px,#204d94 93.0px,#1e519b 93.5px,#1c549f 94.0px,#1c55a1 94.5px,#1b56a2 95.0px,#1b59a4 96.0px,#1a5ca7 97.0px,#1960a9 98.0px,#1864ad 99.0px,#1e6db3 100.5px,#2478bc 102.5px,#3084c4 104.5px,#3a8eca 106.5px,#4a9cd2 109.5px,#5fa8d9 113.5px,#75b4de 117.5px,#8dc0e3 122.5px,#9dc8e5 126.5px,#a8cde7 130.5px,#b0d0e8 134.5px,#bcd6eb 140.5px,#c6dbed 147.5px,#ccdfee 154.5px,#d3e2ef 162.5px,#d6e4f0 172.5px,#d8e6f1 182.5px,#dae7f1 192.5px,#dbe8f1 207.5px,#dbe8f1 208.6px)"></div>
<div style="top:153px;background:linear-gradient(90deg,#293a70 0.0px,#293a70 90.5px,#27407a 91.0px,#254584 91.5px,#23498c 92.0px,#204d94 92.5px,#1e519b 93.0px,#1c549f 93.5px,#1c55a1 94.0px,#1b56a2 94.5px,#1b59a4 95.5px,#1a5ca7 96.5px,#1960a9 97.5px,#1864ad 98.5px,#1e6db3 100.0px,#2478bc 102.0px,#3084c4 104.0px,#3a8eca 106.0px,#4a9cd2 109.0px,#5fa8d9 113.0px,#75b4de 117.0px,#8cc0e3 122.0px,#9cc8e5 126.0px,#a8cde7 130.0px,#b0d0e8 134.0px,#bcd6eb 140.0px,#c5dbec 147.0px,#ccdfee 154.0px,#d3e2ef 162.0px,#d5e4f0 172.0px,#d8e6f1 182.0px,#dae7f1 192.0px,#dbe7f1 207.0px,#dbe8f1 208.6px)"></div>
<div style="top:154px;background:linear-gradient(90deg,#293a70 0.0px,#293a70 89.9px,#27407a 90.4px,#254584 90.9px,#23498c 91.4px,#204d94 91.9px,#1e519b 92.4px,#1c549f 92.9px,#1c55a1 93.4px,#1b56a2 93.9px,#1b59a4 94.9px,#1a5ca7 95.9px,#1960a9 96.9px,#1864ac 97.9px,#1e6db3 99.4px,#2478bc 101.4px,#2f84c4 103.4px,#3a8eca 105.4px,#4a9cd2 108.4px,#5ea8d9 112.4px,#74b4de 116.4px,#8cc0e2 121.4px,#9cc8e5 125.4px,#a7cce7 129.4px,#afd0e8 133.4px,#bbd6ea 139.4px,#c5dbec 146.4px,#cbdeee 153.4px,#d2e2ef 161.4px,#d5e4f0 171.4px,#d8e6f1 181.4px,#dae7f1 191.4px,#dbe7f1 206.4px,#dbe7f1 208.6px)"></div>
<div style="top:155px;background:linear-gradient(90deg,#293a70 0.0px,#293a70 89.4px,#27407a 89.9px,#254584 90.4px,#23498c 90.9px,#204d94 91.4px,#1e519b 91.9px,#1c549f 92.4px,#1c55a1 92.9px,#1b56a2 93.4px,#1b59a4 94.4px,#1a5ca7 95.4px,#1960a9 96.4px,#1864ac 97.4px,#1e6db3 98.9px,#2478bb 100.9px,#2f84c4 102.9px,#398eca 104.9px,#4a9bd2 107.9px,#5ea8d8 111.9px,#74b4de 115.9px,#8cc0e2 120.9px,#9cc7e5 124.9px,#a7cce7 128.9px,#afd0e8 132.9px,#bbd6ea 138.9px,#c5dbec 145.9px,#cbdeee 152.9px,#d2e2ef 160.9px,#d5e4f0 170.9px,#d8e6f1 180.9px,#dae7f1 190.9px,#dbe7f1 205.9px,#dbe7f1 208.6px)"></div>
<div style="top:156px;background:linear-gradient(90deg,#293a70 0.0px,#293a70 88.8px,#27407a 89.3px,#254584 89.8px,#23498c 90.3px,#204d94 90.8px,#1e519b 91.3px,#1c549f 91.8px,#1c55a1 92.3px,#1b56a2 92.8px,#1b59a4 93.8px,#1a5ca7 94.8px,#1960a9 95.8px,#1864ac 96.8px,#1e6db3 98.3px,#2478bb 100.3px,#2f84c3 102.3px,#398eca 104.3px,#4a9bd2 107.3px,#5ea7d8 111.3px,#74b3de 115.3px,#8bbfe2 120.3px,#9bc7e5 124.3px,#a7cce7 128.3px,#afd0e8 132.3px,#bbd6ea 138.3px,#c5dbec 145.3px,#cbdeee 152.3px,#d2e2ef 160.3px,#d5e4f0 170.3px,#d8e5f1 180.3px,#d9e7f1 190.3px,#dae7f1 205.3px,#dbe7f1 208.6px)"></div>
<div style="top:157px;background:linear-gradient(90deg,#293a70 0.0px,#293a70 88.3px,#27407a 88.8px,#254584 89.3px,#23498c 89.8px,#204d94 90.3px,#1e519b 90.8px,#1c549f 91.3px,#1c55a1 91.8px,#1b56a2 92.3px,#1b59a4 93.3px,#1a5ca7 94.3px,#1960a9 95.3px,#1864ac 96.3px,#1e6db3 97.8px,#2477bb 99.8px,#2f84c3 101.8px,#398eca 103.8px,#499bd2 106.8px,#5ea7d8 110.8px,#73b3de 114.8px,#8bbfe2 119.8px,#9bc7e5 123.8px,#a6cce7 127.8px,#afd0e8 131.8px,#bad5ea 137.8px,#c4dbec 144.8px,#cbdeee 151.8px,#d2e2ef 159.8px,#d5e4f0 169.8px,#d7e5f0 179.8px,#d9e6f1 189.8px,#dae7f1 204.8px,#dae7f1 208.6px)"></div>
<div style="top:158px;background:linear-gradient(90deg,#293a70 0.0px,#293a70 87.7px,#27407a 88.2px,#254584 88.7px,#23498c 89.2px,#204d94 89.7px,#1e519b 90.2px,#1c549f 90.7px,#1c55a1 91.2px,#1b56a2 91.7px,#1b59a4 92.7px,#1a5ca7 93.7px,#1960a9 94.7px,#1864ac 95.7px,#1e6db3 97.2px,#2477bb 99.2px,#2f84c3 101.2px,#398dc9 103.2px,#499bd2 106.2px,#5da7d8 110.2px,#73b3de 114.2px,#8abfe2 119.2px,#9bc7e5 123.2px,#a6cce7 127.2px,#aecfe8 131.2px,#bad5ea 137.2px,#c4dbec 144.2px,#cadeed 151.2px,#d2e2ef 159.2px,#d4e3f0 169.2px,#d7e5f0 179.2px,#d9e6f1 189.2px,#dae7f1 204.2px,#dae7f1 208.6px)"></div>
<div style="top:159px;background:linear-gradient(90deg,#293a70 0.0px,#293a70 87.1px,#27407a 87.6px,#254584 88.1px,#23498c 88.6px,#204d94 89.1px,#1e519b 89.6px,#1c549f 90.1px,#1c55a1 90.6px,#1b56a2 91.1px,#1b59a4 92.1px,#1a5ca7 93.1px,#1960a9 94.1px,#1863ac 95.1px,#1e6db3 96.6px,#2477bb 98.6px,#2f83c3 100.6px,#398dc9 102.6px,#499bd2 105.6px,#5da7d8 109.6px,#72b3de 113.6px,#8abfe2 118.6px,#9bc7e5 122.6px,#a6cce7 126.6px,#aecfe8 130.6px,#bad5ea 136.6px,#c4daec 143.6px,#cadeed 150.6px,#d1e2ef 158.6px,#d4e3f0 168.6px,#d7e5f0 178.6px,#d9e6f1 188.6px,#dae7f1 203.6px,#dae7f1 208.6px)"></div>
<div style="top:160px;background:linear-gradient(90deg,#293a70 0.0px,#293a70 86.6px,#27407a 87.1px,#254584 87.6px,#23498c 88.1px,#204d94 88.6px,#1e519b 89.1px,#1c549f 89.6px,#1c55a1 90.1px,#1b56a2 90.6px,#1b59a4 91.6px,#1a5ca7 92.6px,#1960a9 93.6px,#1863ac 94.6px,#1e6db3 96.1px,#2477bb 98.1px,#2e83c3 100.1px,#398dc9 102.1px,#499bd2 105.1px,#5da7d8 109.1px,#72b3de 113.1px,#8abfe2 118.1px,#9ac7e5 122.1px,#a5cce7 126.1px,#aecfe8 130.1px,#bad5ea 136.1px,#c4daec 143.1px,#cadeed 150.1px,#d1e1ef 158.1px,#d4e3f0 168.1px,#d7e5f0 178.1px,#d9e6f1 188.1px,#dae7f1 203.1px,#dae7f1 208.6px)"></div>
<div style="top:161px;background:linear-gradient(90deg,#293a70 0.0px,#293a70 86.0px,#27407a 86.5px,#254584 87.0px,#23498c 87.5px,#204d94 88.0px,#1e519b 88.5px,#1c549f 89.0px,#1c55a1 89.5px,#1b56a2 90.0px,#1b59a4 91.0px,#1a5ca7 92.0px,#1960a9 93.0px,#1863ac 94.0px,#1e6cb3 95.5px,#2477bb 97.5px,#2e83c3 99.5px,#398dc9 101.5px,#499bd2 104.5px,#5da7d8 108.5px,#72b2de 112.5px,#89bfe2 117.5px,#9ac7e5 121.5px,#a5cbe7 125.5px,#adcfe8 129.5px,#b9d5ea 135.5px,#c3daec 142.5px,#cadeed 149.5px,#d1e1ef 157.5px,#d4e3ef 167.5px,#d7e5f0 177.5px,#d9e6f1 187.5px,#dae7f1 202.5px,#dae7f1 208.6px)"></div>
<div style="top:162px;background:linear-gradient(90deg,#293a70 0.0px,#293a70 85.4px,#27407a 85.9px,#254584 86.4px,#23498c 86.9px,#204d94 87.4px,#1e519b 87.9px,#1c549f 88.4px,#1c55a1 88.9px,#1b56a2 89.4px,#1b59a4 90.4px,#1a5ca7 91.4px,#1960a9 92.4px,#1863ac 93.4px,#1d6cb3 94.9px,#2477bb 96.9px,#2e83c3 98.9px,#388dc9 100.9px,#499bd1 103.9px,#5ca7d8 107.9px,#71b2de 111.9px,#89bee2 116.9px,#9ac7e5 120.9px,#a5cbe7 124.9px,#adcfe8 128.9px,#b9d5ea 134.9px,#c3daec 141.9px,#c9dded 148.9px,#d1e1ef 156.9px,#d4e3ef 166.9px,#d6e5f0 176.9px,#d8e6f1 186.9px,#d9e7f1 201.9px,#dae7f1 208.6px)"></div>
<div style="top:163px;background:linear-gradient(90deg,#293a70 0.0px,#293a70 84.9px,#27407a 85.4px,#254584 85.9px,#23498c 86.4px,#204d94 86.9px,#1e519b 87.4px,#1c549f 87.9px,#1c55a1 88.4px,#1b56a2 88.9px,#1b59a4 89.9px,#1a5ca7 90.9px,#1960a9 91.9px,#1863ac 92.9px,#1d6cb3 94.4px,#2477bb 96.4px,#2e83c3 98.4px,#388dc9 100.4px,#489bd1 103.4px,#5ca6d8 107.4px,#71b2dd 111.4px,#89bee2 116.4px,#9ac6e5 120.4px,#a4cbe7 124.4px,#adcfe8 128.4px,#b9d5ea 134.4px,#c3daec 141.4px,#c9dded 148.4px,#d0e1ef 156.4px,#d3e3ef 166.4px,#d6e5f0 176.4px,#d8e6f1 186.4px,#d9e6f1 201.4px,#dae7f1 208.6px)"></div>
<div style="top:164px;background:linear-gradient(90deg,#293a70 0.0px,#293a70 84.3px,#27407a 84.8px,#254584 85.3px,#23498c 85.8px,#204d94 86.3px,#1e519b 86.8px,#1c549f 87.3px,#1c55a1 87.8px,#1b56a2 88.3px,#1b59a4 89.3px,#1a5ca7 90.3px,#1960a9 91.3px,#1863ac 92.3px,#1d6cb3 93.8px,#2477bb 95.8px,#2e83c3 97.8px,#388cc9 99.8px,#489bd1 102.8px,#5ca6d8 106.8px,#71b2dd 110.8px,#88bee2 115.8px,#99c6e5 119.8px,#a4cbe7 123.8px,#accfe8 127.8px,#b8d4ea 133.8px,#c2daec 140.8px,#c9dded 147.8px,#d0e1ef 155.8px,#d3e3ef 165.8px,#d6e5f0 175.8px,#d8e6f1 185.8px,#d9e6f1 200.8px,#dae7f1 208.6px)"></div>
<div style="top:165px;background:linear-gradient(90deg,#293a70 0.0px,#293a70 83.7px,#27407a 84.2px,#254584 84.7px,#23498c 85.2px,#204d94 85.7px,#1e519b 86.2px,#1c549f 86.7px,#1c55a1 87.2px,#1b56a2 87.7px,#1b59a4 88.7px,#1a5ca6 89.7px,#1960a9 90.7px,#1863ac 91.7px,#1d6cb3 93.2px,#2377bb 95.2px,#2e82c3 97.2px,#388cc9 99.2px,#489ad1 102.2px,#5ca6d8 106.2px,#70b2dd 110.2px,#88bee2 115.2px,#99c6e5 119.2px,#a4cbe6 123.2px,#accfe8 127.2px,#b8d4ea 133.2px,#c2daec 140.2px,#c9dded 147.2px,#d0e1ef 155.2px,#d3e3ef 165.2px,#d6e4f0 175.2px,#d8e6f1 185.2px,#d9e6f1 200.2px,#dae7f1 208.6px)"></div>
<div style="top:166px;background:linear-gradient(90deg,#293a70 0.0px,#293a70 83.2px,#27407a 83.7px,#254584 84.2px,#23498c 84.7px,#204d94 85.2px,#1e519b 85.7px,#1c549f 86.2px,#1c55a1 86.7px,#1b56a2 87.2px,#1b59a4 88.2px,#1a5ca6 89.2px,#1960a9 90.2px,#1863ac 91.2px,#1d6cb3 92.7px,#2377bb 94.7px,#2d82c2 96.7px,#388cc9 98.7px,#489ad1 101.7px,#5ba6d8 105.7px,#70b2dd 109.7px,#88bee2 114.7px,#99c6e5 118.7px,#a3cbe6 122.7px,#accee8 126.7px,#b8d4ea 132.7px,#c2d9ec 139.7px,#c8dded 146.7px,#d0e1ef 154.7px,#d3e3ef 164.7px,#d6e4f0 174.7px,#d8e6f1 184.7px,#d9e6f1 199.7px,#d9e7f1 208.6px)"></div>
<div style="top:167px;background:linear-gradient(90deg,#293a70 0.0px,#293a70 82.6px,#27407a 83.1px,#254584 83.6px,#23498c 84.1px,#204d94 84.6px,#1e519b 85.1px,#1c549f 85.6px,#1c55a1 86.1px,#1b56a2 86.6px,#1b59a4 87.6px,#1a5ca6 88.6px,#1960a9 89.6px,#1863ac 90.6px,#1d6cb3 92.1px,#2377bb 94.1px,#2d82c2 96.1px,#388cc9 98.1px,#489ad1 101.1px,#5ba6d8 105.1px,#6fb1dd 109.1px,#87bde2 114.1px,#99c6e5 118.1px,#a3cbe6 122.1px,#abcee8 126.1px,#b8d4ea 132.1px,#c2d9ec 139.1px,#c8dded 146.1px,#cfe1ee 154.1px,#d3e2ef 164.1px,#d6e4f0 174.1px,#d8e5f0 184.1px,#d9e6f1 199.1px,#d9e6f1 208.6px)"></div>
<div style="top:168px;background:linear-gradient(90deg,#293a70 0.0px,#293a70 82.0px,#27407a 82.5px,#254584 83.0px,#23498c 83.5px,#204d94 84.0px,#1e519b 84.5px,#1c549f 85.0px,#1c55a1 85.5px,#1b56a2 86.0px,#1b59a4 87.0px,#1a5ca6 88.0px,#1960a9 89.0px,#1863ac 90.0px,#1d6cb3 91.5px,#2376bb 93.5px,#2d82c2 95.5px,#378cc8 97.5px,#489ad1 100.5px,#5ba6d7 104.5px,#6fb1dd 108.5px,#87bde2 113.5px,#98c6e5 117.5px,#a3cae6 121.5px,#abcee8 125.5px,#b7d4ea 131.5px,#c1d9ec 138.5px,#c8dded 145.5px,#cfe1ee 153.5px,#d2e2ef 163.5px,#d5e4f0 173.5px,#d7e5f0 183.5px,#d8e6f1 198.5px,#d9e6f1 208.6px)"></div>
<div style="top:169px;background:linear-gradient(90deg,#293a70 0.0px,#293a70 81.4px,#27407a 81.9px,#254584 82.4px,#23498c 82.9px,#204d94 83.4px,#1e519b 83.9px,#1c549f 84.4px,#1c55a1 84.9px,#1b56a2 85.4px,#1b59a4 86.4px,#1a5ca6 87.4px,#1960a9 88.4px,#1863ac 89.4px,#1d6cb3 90.9px,#2376ba 92.9px,#2d82c2 94.9px,#378cc8 96.9px,#479ad1 99.9px,#5ba5d7 103.9px,#6fb1dd 107.9px,#86bde1 112.9px,#98c6e5 116.9px,#a3cae6 120.9px,#abcee8 124.9px,#b7d4ea 130.9px,#c1d9ec 137.9px,#c8dced 144.9px,#cfe0ee 152.9px,#d2e2ef 162.9px,#d5e4f0 172.9px,#d7e5f0 182.9px,#d8e6f1 197.9px,#d9e6f1 208.6px)"></div>
<div style="top:170px;background:linear-gradient(90deg,#293a70 0.0px,#293a70 80.8px,#27407a 81.3px,#254584 81.8px,#23498c 82.3px,#204d94 82.8px,#1e519b 83.3px,#1c549f 83.8px,#1c55a1 84.3px,#1b56a2 84.8px,#1b59a4 85.8px,#1a5ca6 86.8px,#195fa9 87.8px,#1863ac 88.8px,#1d6cb3 90.3px,#2376ba 92.3px,#2d82c2 94.3px,#378cc8 96.3px,#479ad1 99.3px,#5aa5d7 103.3px,#6eb1dd 107.3px,#86bde1 112.3px,#98c6e5 116.3px,#a2cae6 120.3px,#abcee8 124.3px,#b7d3ea 130.3px,#c1d9ec 137.3px,#c7dced 144.3px,#cfe0ee 152.3px,#d2e2ef 162.3px,#d5e4f0 172.3px,#d7e5f0 182.3px,#d8e6f1 197.3px,#d9e6f1 208.6px)"></div>
<div style="top:171px;background:linear-gradient(90deg,#293a70 0.0px,#293a70 80.3px,#27407a 80.8px,#254584 81.3px,#23498c 81.8px,#204d94 82.3px,#1e519b 82.8px,#1c549f 83.3px,#1c55a1 83.8px,#1b56a2 84.3px,#1b59a4 85.3px,#1a5ca6 86.3px,#195fa9 87.3px,#1863ac 88.3px,#1d6cb3 89.8px,#2376ba 91.8px,#2d81c2 93.8px,#378bc8 95.8px,#479ad1 98.8px,#5aa5d7 102.8px,#6eb1dd 106.8px,#86bde1 111.8px,#97c6e5 115.8px,#a2cae6 119.8px,#aacee7 123.8px,#b6d3e9 129.8px,#c1d9ec 136.8px,#c7dced 143.8px,#cfe0ee 151.8px,#d2e2ef 161.8px,#d5e4f0 171.8px,#d7e5f0 181.8px,#d8e6f1 196.8px,#d9e6f1 208.6px)"></div>
<div style="top:172px;background:linear-gradient(90deg,#293a70 0.0px,#293a70 79.7px,#27407a 80.2px,#254584 80.7px,#23498c 81.2px,#204d94 81.7px,#1e519b 82.2px,#1c549f 82.7px,#1c55a1 83.2px,#1b56a2 83.7px,#1b59a4 84.7px,#1a5ca6 85.7px,#195fa9 86.7px,#1863ac 87.7px,#1d6cb3 89.2px,#2376ba 91.2px,#2c81c2 93.2px,#378bc8 95.2px,#479ad1 98.2px,#5aa5d7 102.2px,#6eb0dd 106.2px,#85bde1 111.2px,#97c5e5 115.2px,#a2cae6 119.2px,#aacee7 123.2px,#b6d3e9 129.2px,#c0d9eb 136.2px,#c7dced 143.2px,#cee0ee 151.2px,#d2e2ef 161.2px,#d5e4f0 171.2px,#d7e5f0 181.2px,#d8e6f1 196.2px,#d9e6f1 208.6px)"></div>
<div style="top:173px;background:linear-gradient(90deg,#293a70 0.0px,#293a70 79.1px,#27407a 79.6px,#254584 80.1px,#23498c 80.6px,#204d94 81.1px,#1e519b 81.6px,#1c549f 82.1px,#1c55a1 82.6px,#1b56a2 83.1px,#1b59a4 84.1px,#1a5ca6 85.1px,#195fa9 86.1px,#1863ac 87.1px,#1d6cb3 88.6px,#2376ba 90.6px,#2c81c2 92.6px,#378bc8 94.6px,#479ad1 97.6px,#5aa5d7 101.6px,#6db0dd 105.6px,#85bce1 110.6px,#97c5e4 114.6px,#a1cae6 118.6px,#aacde7 122.6px,#b6d3e9 128.6px,#c0d8eb 135.6px,#c7dced 142.6px,#cee0ee 150.6px,#d1e2ef 160.6px,#d4e3f0 170.6px,#d7e5f0 180.6px,#d8e5f1 195.6px,#d9e6f1 208.6px)"></div>
<div style="top:174px;background:linear-gradient(90deg,#293a70 0.0px,#293a70 78.5px,#27407a 79.0px,#254584 79.5px,#23498c 80.0px,#204d94 80.5px,#1e519b 81.0px,#1c549f 81.5px,#1c55a1 82.0px,#1b56a2 82.5px,#1b59a4 83.5px,#1a5ca6 84.5px,#195fa9 85.5px,#1863ac 86.5px,#1d6cb3 88.0px,#2376ba 90.0px,#2c81c2 92.0px,#368bc8 94.0px,#4699d1 97.0px,#59a5d7 101.0px,#6db0dd 105.0px,#85bce1 110.0px,#97c5e4 114.0px,#a1cae6 118.0px,#a9cde7 122.0px,#b6d3e9 128.0px,#c0d8eb 135.0px,#c6dced 142.0px,#cee0ee 150.0px,#d1e2ef 160.0px,#d4e3f0 170.0px,#d6e5f0 180.0px,#d7e5f0 195.0px,#d8e6f1 208.6px)"></div>
<div style="top:175px;background:linear-gradient(90deg,#293a70 0.0px,#293a70 77.9px,#27407a 78.4px,#254584 78.9px,#23498c 79.4px,#204d94 79.9px,#1e519b 80.4px,#1c549f 80.9px,#1c55a1 81.4px,#1b56a2 81.9px,#1b59a4 82.9px,#1a5ca6 83.9px,#195fa9 84.9px,#1863ac 85.9px,#1d6cb3 87.4px,#2376ba 89.4px,#2c81c2 91.4px,#368bc8 93.4px,#4699d1 96.4px,#59a5d7 100.4px,#6db0dd 104.4px,#84bce1 109.4px,#96c5e4 113.4px,#a1cae6 117.4px,#a9cde7 121.4px,#b5d3e9 127.4px,#c0d8eb 134.4px,#c6dced 141.4px,#cee0ee 149.4px,#d1e1ef 159.4px,#d4e3f0 169.4px,#d6e5f0 179.4px,#d7e5f0 194.4px,#d8e6f1 208.6px)"></div>
<div style="top:176px;background:linear-gradient(90deg,#293a70 0.0px,#293a70 77.3px,#27407a 77.8px,#254584 78.3px,#23498c 78.8px,#204d94 79.3px,#1e519b 79.8px,#1c549f 80.3px,#1c55a1 80.8px,#1b56a2 81.3px,#1b59a4 82.3px,#1a5ca6 83.3px,#195fa9 84.3px,#1863ac 85.3px,#1d6cb3 86.8px,#2376ba 88.8px,#2c81c1 90.8px,#368bc8 92.8px,#4699d1 95.8px,#59a4d7 99.8px,#6cb0dd 103.8px,#84bce1 108.8px,#96c5e4 112.8px,#a0c9e6 116.8px,#a9cde7 120.8px,#b5d3e9 126.8px,#bfd8eb 133.8px,#c6dced 140.8px,#cde0ee 148.8px,#d1e1ef 158.8px,#d4e3ef 168.8px,#d6e4f0 178.8px,#d7e5f0 193.8px,#d8e6f1 208.6px)"></div>
<div style="top:177px;background:linear-gradient(90deg,#293a70 0.0px,#293a70 76.7px,#27407a 77.2px,#254584 77.7px,#23498c 78.2px,#204d94 78.7px,#1e519b 79.2px,#1c549f 79.7px,#1c55a1 80.2px,#1b56a2 80.7px,#1b59a4 81.7px,#1a5ca6 82.7px,#195fa9 83.7px,#1863ac 84.7px,#1d6cb3 86.2px,#2376ba 88.2px,#2c80c1 90.2px,#368ac8 92.2px,#4699d1 95.2px,#59a4d7 99.2px,#6cafdd 103.2px,#84bce1 108.2px,#96c5e4 112.2px,#a0c9e6 116.2px,#a8cde7 120.2px,#b5d2e9 126.2px,#bfd8eb 133.2px,#c6dbed 140.2px,#cddfee 148.2px,#d1e1ef 158.2px,#d4e3ef 168.2px,#d6e4f0 178.2px,#d7e5f0 193.2px,#d8e6f1 208.2px,#d8e6f1 208.6px)"></div>
<div style="top:178px;background:linear-gradient(90deg,#293a70 0.0px,#293a70 76.1px,#27407a 76.6px,#254584 77.1px,#23498c 77.6px,#204d94 78.1px,#1e519b 78.6px,#1c549f 79.1px,#1c55a1 79.6px,#1b56a2 80.1px,#1b59a4 81.1px,#1a5ca6 82.1px,#195fa9 83.1px,#1863ac 84.1px,#1d6cb2 85.6px,#2376ba 87.6px,#2b80c1 89.6px,#368ac7 91.6px,#4699d1 94.6px,#58a4d7 98.6px,#6bafdc 102.6px,#83bbe1 107.6px,#96c5e4 111.6px,#a0c9e6 115.6px,#a8cde7 119.6px,#b5d2e9 125.6px,#bfd8eb 132.6px,#c5dbec 139.6px,#cddfee 147.6px,#d0e1ef 157.6px,#d3e3ef 167.6px,#d6e4f0 177.6px,#d7e5f0 192.6px,#d8e6f1 207.6px,#d8e6f1 208.6px)"></div>
<div style="top:179px;background:linear-gradient(90deg,#293a70 0.0px,#293a70 75.5px,#27407a 76.0px,#254584 76.5px,#23498c 77.0px,#204d94 77.5px,#1e519b 78.0px,#1c549f 78.5px,#1c55a1 79.0px,#1b56a2 79.5px,#1b59a4 80.5px,#1a5ca6 81.5px,#195fa9 82.5px,#1863ac 83.5px,#1d6cb2 85.0px,#2375ba 87.0px,#2b80c1 89.0px,#368ac7 91.0px,#4699d1 94.0px,#58a4d7 98.0px,#6bafdc 102.0px,#83bbe1 107.0px,#95c5e4 111.0px,#9fc9e6 115.0px,#a8cde7 119.0px,#b4d2e9 125.0px,#bfd8eb 132.0px,#c5dbec 139.0px,#cddfee 147.0px,#d0e1ef 157.0px,#d3e3ef 167.0px,#d6e4f0 177.0px,#d7e5f0 192.0px,#d8e6f1 207.0px,#d8e6f1 208.6px)"></div>
<div style="top:180px;background:linear-gradient(90deg,#293a70 0.0px,#293a70 74.9px,#27407a 75.4px,#254584 75.9px,#23498c 76.4px,#204d94 76.9px,#1e519b 77.4px,#1c549f 77.9px,#1c55a1 78.4px,#1b56a2 78.9px,#1b59a4 79.9px,#1a5ca6 80.9px,#195fa9 81.9px,#1863ac 82.9px,#1d6cb2 84.4px,#2375ba 86.4px,#2b80c1 88.4px,#368ac7 90.4px,#4599d0 93.4px,#58a4d6 97.4px,#6bafdc 101.4px,#82bbe1 106.4px,#95c4e4 110.4px,#9fc9e6 114.4px,#a7cce7 118.4px,#b4d2e9 124.4px,#bed8eb 131.4px,#c5dbec 138.4px,#ccdfee 146.4px,#d0e1ef 156.4px,#d3e3ef 166.4px,#d5e4f0 176.4px,#d7e5f0 191.4px,#d8e5f1 206.4px,#d8e6f1 208.6px)"></div>
<div style="top:181px;background:linear-gradient(90deg,#293a70 0.0px,#293a70 74.4px,#27407a 74.9px,#254584 75.4px,#23498c 75.9px,#204d94 76.4px,#1e519b 76.9px,#1c549f 77.4px,#1c55a1 77.9px,#1b56a2 78.4px,#1b59a4 79.4px,#1a5ca6 80.4px,#195fa9 81.4px,#1863ac 82.4px,#1d6cb2 83.9px,#2375ba 85.9px,#2b80c1 87.9px,#358ac7 89.9px,#4599d0 92.9px,#58a4d6 96.9px,#6aafdc 100.9px,#82bbe1 105.9px,#95c4e4 109.9px,#9fc9e6 113.9px,#a7cce7 117.9px,#b4d2e9 123.9px,#bed7eb 130.9px,#c5dbec 137.9px,#ccdfee 145.9px,#d0e1ef 155.9px,#d3e3ef 165.9px,#d5e4f0 175.9px,#d6e5f0 190.9px,#d8e5f0 205.9px,#d8e6f1 208.6px)"></div>
<div style="top:182px;background:linear-gradient(90deg,#293a70 0.0px,#293a70 73.7px,#27407a 74.2px,#254584 74.7px,#23498c 75.2px,#204d94 75.7px,#1e519b 76.2px,#1c549f 76.7px,#1c55a1 77.2px,#1b56a2 77.7px,#1b59a4 78.7px,#1a5ca6 79.7px,#195fa9 80.7px,#1863ac 81.7px,#1d6bb2 83.2px,#2375ba 85.2px,#2b80c1 87.2px,#358ac7 89.2px,#4599d0 92.2px,#57a4d6 96.2px,#6aaedc 100.2px,#82bbe1 105.2px,#95c4e4 109.2px,#9ec9e6 113.2px,#a7cce7 117.2px,#b3d2e9 123.2px,#bed7eb 130.2px,#c4dbec 137.2px,#ccdfee 145.2px,#cfe1ee 155.2px,#d3e2ef 165.2px,#d5e4f0 175.2px,#d6e5f0 190.2px,#d7e5f0 205.2px,#d8e5f1 208.6px)"></div>
<div style="top:183px;background:linear-gradient(90deg,#293a70 0.0px,#293a70 73.1px,#27407a 73.6px,#254584 74.1px,#23498c 74.6px,#204d94 75.1px,#1e519b 75.6px,#1c539f 76.1px,#1c55a1 76.6px,#1b56a2 77.1px,#1b59a4 78.1px,#1a5ca6 79.1px,#195fa9 80.1px,#1863ac 81.1px,#1d6bb2 82.6px,#2375ba 84.6px,#2b7fc1 86.6px,#358ac7 88.6px,#4598d0 91.6px,#57a3d6 95.6px,#6aaedc 99.6px,#81bae1 104.6px,#94c4e4 108.6px,#9ec8e6 112.6px,#a6cce7 116.6px,#b3d2e9 122.6px,#bed7eb 129.6px,#c4dbec 136.6px,#ccdfee 144.6px,#cfe0ee 154.6px,#d2e2ef 164.6px,#d5e4f0 174.6px,#d6e4f0 189.6px,#d7e5f0 204.6px,#d8e5f0 208.6px)"></div>
<div style="top:184px;background:linear-gradient(90deg,#293a70 0.0px,#293a70 72.5px,#27407a 73.0px,#254584 73.5px,#23498c 74.0px,#204d94 74.5px,#1e519b 75.0px,#1c539f 75.5px,#1c55a1 76.0px,#1b56a2 76.5px,#1b59a4 77.5px,#1a5ca6 78.5px,#195fa9 79.5px,#1863ac 80.5px,#1d6bb2 82.0px,#2275b9 84.0px,#2a7fc1 86.0px,#3589c7 88.0px,#4598d0 91.0px,#57a3d6 95.0px,#69aedc 99.0px,#81bae0 104.0px,#94c4e4 108.0px,#9ec8e6 112.0px,#a6cce7 116.0px,#b3d1e9 122.0px,#bdd7eb 129.0px,#c4dbec 136.0px,#ccdfee 144.0px,#cfe0ee 154.0px,#d2e2ef 164.0px,#d5e4f0 174.0px,#d6e4f0 189.0px,#d7e5f0 204.0px,#d7e5f0 208.6px)"></div>
<div style="top:185px;background:linear-gradient(90deg,#293a70 0.0px,#293a70 71.9px,#27407a 72.4px,#254584 72.9px,#23498c 73.4px,#204d94 73.9px,#1e519b 74.4px,#1c539f 74.9px,#1c55a1 75.4px,#1b56a2 75.9px,#1b59a4 76.9px,#1a5ca6 77.9px,#195fa9 78.9px,#1863ac 79.9px,#1d6bb2 81.4px,#2275b9 83.4px,#2a7fc1 85.4px,#3589c7 87.4px,#4498d0 90.4px,#57a3d6 94.4px,#69aedc 98.4px,#81bae0 103.4px,#94c4e4 107.4px,#9dc8e5 111.4px,#a6cce7 115.4px,#b2d1e9 121.4px,#bdd7eb 128.4px,#c4daec 135.4px,#cbdeee 143.4px,#cfe0ee 153.4px,#d2e2ef 163.4px,#d5e4f0 173.4px,#d6e4f0 188.4px,#d7e5f0 203.4px,#d7e5f0 208.6px)"></div>
<div style="top:186px;background:linear-gradient(90deg,#293a70 0.0px,#293a70 71.3px,#27407a 71.8px,#254584 72.3px,#23498c 72.8px,#204d94 73.3px,#1e519b 73.8px,#1c539f 74.3px,#1c55a1 74.8px,#1b56a2 75.3px,#1b59a4 76.3px,#1a5ca6 77.3px,#195fa9 78.3px,#1863ac 79.3px,#1d6bb2 80.8px,#2275b9 82.8px,#2a7fc0 84.8px,#3589c7 86.8px,#4498d0 89.8px,#56a3d6 93.8px,#69aedc 97.8px,#80bae0 102.8px,#93c4e4 106.8px,#9dc8e5 110.8px,#a6cce7 114.8px,#b2d1e9 120.8px,#bdd7eb 127.8px,#c3daec 134.8px,#cbdeee 142.8px,#cfe0ee 152.8px,#d2e2ef 162.8px,#d4e3f0 172.8px,#d6e4f0 187.8px,#d7e5f0 202.8px,#d7e5f0 208.6px)"></div>
<div style="top:187px;background:linear-gradient(90deg,#293a70 0.0px,#293a70 70.7px,#27407a 71.2px,#254584 71.7px,#23498c 72.2px,#204d94 72.7px,#1e519b 73.2px,#1c539f 73.7px,#1c55a1 74.2px,#1b56a2 74.7px,#1b59a4 75.7px,#1a5ca6 76.7px,#195fa9 77.7px,#1863ac 78.7px,#1d6bb2 80.2px,#2275b9 82.2px,#2a7fc0 84.2px,#3489c7 86.2px,#4498d0 89.2px,#56a3d6 93.2px,#68aedc 97.2px,#80bae0 102.2px,#93c3e4 106.2px,#9dc8e5 110.2px,#a5cce7 114.2px,#b2d1e9 120.2px,#bdd7eb 127.2px,#c3daec 134.2px,#cbdeee 142.2px,#cee0ee 152.2px,#d2e2ef 162.2px,#d4e3f0 172.2px,#d5e4f0 187.2px,#d7e5f0 202.2px,#d7e5f0 208.6px)"></div>
<div style="top:188px;background:linear-gradient(90deg,#293a70 0.0px,#293a70 70.1px,#27407a 70.6px,#254584 71.1px,#23498c 71.6px,#204d94 72.1px,#1e519b 72.6px,#1c539f 73.1px,#1c55a1 73.6px,#1b56a2 74.1px,#1b59a4 75.1px,#1a5ca6 76.1px,#195fa9 77.1px,#1863ac 78.1px,#1d6bb2 79.6px,#2275b9 81.6px,#2a7fc0 83.6px,#3489c7 85.6px,#4498d0 88.6px,#56a3d6 92.6px,#68addc 96.6px,#80bae0 101.6px,#93c3e4 105.6px,#9dc8e5 109.6px,#a5cbe7 113.6px,#b2d1e9 119.6px,#bcd6eb 126.6px,#c3daec 133.6px,#cbdeee 141.6px,#cee0ee 151.6px,#d1e2ef 161.6px,#d4e3f0 171.6px,#d5e4f0 186.6px,#d6e5f0 201.6px,#d7e5f0 208.6px)"></div>
<div style="top:189px;background:linear-gradient(90deg,#293a70 0.0px,#293a70 69.5px,#27407a 70.0px,#254584 70.5px,#23498c 71.0px,#204d94 71.5px,#1e519b 72.0px,#1c539f 72.5px,#1c55a1 73.0px,#1b56a2 73.5px,#1b59a4 74.5px,#1a5ca6 75.5px,#195fa9 76.5px,#1863ac 77.5px,#1d6bb2 79.0px,#2274b9 81.0px,#2a7ec0 83.0px,#3489c6 85.0px,#4498d0 88.0px,#56a2d6 92.0px,#68addc 96.0px,#7fb9e0 101.0px,#92c3e4 105.0px,#9cc8e5 109.0px,#a5cbe7 113.0px,#b1d1e9 119.0px,#bcd6eb 126.0px,#c3daec 133.0px,#cadeed 141.0px,#cee0ee 151.0px,#d1e2ef 161.0px,#d4e3f0 171.0px,#d5e4f0 186.0px,#d6e5f0 201.0px,#d7e5f0 208.6px)"></div>
<div style="top:190px;background:linear-gradient(90deg,#293a70 0.0px,#293a70 68.9px,#27407a 69.4px,#254584 69.9px,#23498c 70.4px,#204d94 70.9px,#1e519b 71.4px,#1c539f 71.9px,#1c55a1 72.4px,#1b56a2 72.9px,#1b59a4 73.9px,#1a5ca6 74.9px,#195fa9 75.9px,#1863ac 76.9px,#1d6bb2 78.4px,#2274b9 80.4px,#297ec0 82.4px,#3488c6 84.4px,#4498d0 87.4px,#55a2d6 91.4px,#67addb 95.4px,#7fb9e0 100.4px,#92c3e4 104.4px,#9cc7e5 108.4px,#a4cbe7 112.4px,#b1d1e9 118.4px,#bcd6eb 125.4px,#c2daec 132.4px,#cadeed 140.4px,#cee0ee 150.4px,#d1e1ef 160.4px,#d4e3ef 170.4px,#d5e4f0 185.4px,#d6e5f0 200.4px,#d7e5f0 208.6px)"></div>
<div style="top:191px;background:linear-gradient(90deg,#293a70 0.0px,#293a70 68.3px,#27407a 68.8px,#254584 69.3px,#23498c 69.8px,#204d94 70.3px,#1e519b 70.8px,#1c539f 71.3px,#1c55a1 71.8px,#1b56a2 72.3px,#1b59a4 73.3px,#1a5ca6 74.3px,#195fa9 75.3px,#1863ac 76.3px,#1d6bb2 77.8px,#2274b9 79.8px,#297ec0 81.8px,#3488c6 83.8px,#4498d0 86.8px,#55a2d6 90.8px,#67addb 94.8px,#7eb9e0 99.8px,#92c3e4 103.8px,#9cc7e5 107.8px,#a4cbe7 111.8px,#b1d1e8 117.8px,#bbd6ea 124.8px,#c2daec 131.8px,#cadeed 139.8px,#cde0ee 149.8px,#d1e1ef 159.8px,#d4e3ef 169.8px,#d5e4f0 184.8px,#d6e4f0 199.8px,#d7e5f0 208.6px)"></div>
<div style="top:192px;background:linear-gradient(90deg,#293a70 0.0px,#293a70 67.7px,#27407a 68.2px,#254584 68.7px,#23498c 69.2px,#204d94 69.7px,#1e519b 70.2px,#1c539f 70.7px,#1c55a1 71.2px,#1b56a2 71.7px,#1b59a4 72.7px,#1a5ca6 73.7px,#195fa9 74.7px,#1863ac 75.7px,#1d6bb2 77.2px,#2274b9 79.2px,#297ec0 81.2px,#3488c6 83.2px,#4397d0 86.2px,#55a2d5 90.2px,#67addb 94.2px,#7eb9e0 99.2px,#91c3e3 103.2px,#9bc7e5 107.2px,#a4cbe6 111.2px,#b0d0e8 117.2px,#bbd6ea 124.2px,#c2d9ec 131.2px,#cadeed 139.2px,#cddfee 149.2px,#d1e1ef 159.2px,#d3e3ef 169.2px,#d5e4f0 184.2px,#d6e4f0 199.2px,#d7e5f0 208.6px)"></div>
<div style="top:193px;background:linear-gradient(90deg,#293a70 0.0px,#293a70 67.0px,#27407a 67.5px,#254584 68.0px,#23498c 68.5px,#204d94 69.0px,#1e519b 69.5px,#1c539f 70.0px,#1c55a1 70.5px,#1b56a2 71.0px,#1b59a4 72.0px,#1a5ca6 73.0px,#195fa9 74.0px,#1863ac 75.0px,#1d6bb2 76.5px,#2274b9 78.5px,#297ec0 80.5px,#3388c6 82.5px,#4397d0 85.5px,#55a2d5 89.5px,#66acdb 93.5px,#7eb9e0 98.5px,#91c2e3 102.5px,#9bc7e5 106.5px,#a3cbe6 110.5px,#b0d0e8 116.5px,#bbd6ea 123.5px,#c2d9ec 130.5px,#cadded 138.5px,#cddfee 148.5px,#d0e1ef 158.5px,#d3e3ef 168.5px,#d4e4f0 183.5px,#d6e4f0 198.5px,#d6e5f0 208.6px)"></div>
<div style="top:194px;background:linear-gradient(90deg,#293a70 0.0px,#293a70 66.4px,#27407a 66.9px,#254584 67.4px,#23498c 67.9px,#204d94 68.4px,#1e519b 68.9px,#1c539f 69.4px,#1c55a1 69.9px,#1b56a2 70.4px,#1b59a4 71.4px,#1a5ca6 72.4px,#195fa9 73.4px,#1863ac 74.4px,#1d6bb2 75.9px,#2274b9 77.9px,#297ec0 79.9px,#3388c6 81.9px,#4397cf 84.9px,#54a2d5 88.9px,#66acdb 92.9px,#7db8e0 97.9px,#91c2e3 101.9px,#9bc7e5 105.9px,#a3cbe6 109.9px,#b0d0e8 115.9px,#bbd6ea 122.9px,#c2d9ec 129.9px,#c9dded 137.9px,#cddfee 147.9px,#d0e1ef 157.9px,#d3e3ef 167.9px,#d4e3f0 182.9px,#d6e4f0 197.9px,#d6e5f0 208.6px)"></div>
<div style="top:195px;background:linear-gradient(90deg,#293a70 0.0px,#293a70 65.8px,#27407a 66.3px,#254584 66.8px,#23498c 67.3px,#204d94 67.8px,#1e519b 68.3px,#1c539f 68.8px,#1c55a1 69.3px,#1b56a2 69.8px,#1b59a4 70.8px,#1a5ca6 71.8px,#195fa9 72.8px,#1863ac 73.8px,#1d6bb2 75.3px,#2274b9 77.3px,#297dc0 79.3px,#3388c6 81.3px,#4397cf 84.3px,#54a2d5 88.3px,#66acdb 92.3px,#7db8e0 97.3px,#90c2e3 101.3px,#9ac7e5 105.3px,#a3cae6 109.3px,#afd0e8 115.3px,#bad5ea 122.3px,#c1d9ec 129.3px,#c9dded 137.3px,#ccdfee 147.3px,#d0e1ef 157.3px,#d3e3ef 167.3px,#d4e3f0 182.3px,#d5e4f0 197.3px,#d6e5f0 208.6px)"></div>
<div style="top:196px;background:linear-gradient(90deg,#293a70 0.0px,#293a70 65.2px,#27407a 65.7px,#254584 66.2px,#23498c 66.7px,#204d94 67.2px,#1e519b 67.7px,#1c539f 68.2px,#1c55a1 68.7px,#1b56a2 69.2px,#1b59a4 70.2px,#1a5ca6 71.2px,#195fa9 72.2px,#1863ac 73.2px,#1d6bb2 74.7px,#2274b9 76.7px,#287dbf 78.7px,#3388c6 80.7px,#4397cf 83.7px,#54a1d5 87.7px,#65acdb 91.7px,#7db8e0 96.7px,#90c2e3 100.7px,#9ac7e5 104.7px,#a2cae6 108.7px,#afd0e8 114.7px,#bad5ea 121.7px,#c1d9ec 128.7px,#c9dded 136.7px,#ccdfee 146.7px,#d0e1ef 156.7px,#d3e2ef 166.7px,#d4e3f0 181.7px,#d5e4f0 196.7px,#d6e5f0 208.6px)"></div>
<div style="top:197px;background:linear-gradient(90deg,#293a70 0.0px,#293a70 64.5px,#27407a 65.0px,#254584 65.5px,#23498c 66.0px,#204d94 66.5px,#1e519b 67.0px,#1c539f 67.5px,#1c55a1 68.0px,#1b56a2 68.5px,#1b59a4 69.5px,#1a5ca6 70.5px,#195fa9 71.5px,#1862ac 72.5px,#1d6bb2 74.0px,#2274b9 76.0px,#287dbf 78.0px,#3387c6 80.0px,#4397cf 83.0px,#54a1d5 87.0px,#65acdb 91.0px,#7cb8e0 96.0px,#8fc2e3 100.0px,#9ac6e5 104.0px,#a2cae6 108.0px,#afd0e8 114.0px,#bad5ea 121.0px,#c1d9ec 128.0px,#c9dded 136.0px,#ccdfee 146.0px,#cfe1ee 156.0px,#d3e2ef 166.0px,#d4e3ef 181.0px,#d5e4f0 196.0px,#d6e5f0 208.6px)"></div>
<div style="top:198px;background:linear-gradient(90deg,#293a70 0.0px,#293a70 63.9px,#27407a 64.4px,#254584 64.9px,#23498c 65.4px,#204d94 65.9px,#1e519b 66.4px,#1c539f 66.9px,#1c55a1 67.4px,#1b56a2 67.9px,#1b59a4 68.9px,#1a5ca6 69.9px,#195fa9 70.9px,#1862ac 71.9px,#1c6bb2 73.4px,#2274b9 75.4px,#287dbf 77.4px,#3387c6 79.4px,#4297cf 82.4px,#53a1d5 86.4px,#65abdb 90.4px,#7cb8e0 95.4px,#8fc1e3 99.4px,#99c6e5 103.4px,#a2cae6 107.4px,#afd0e8 113.4px,#bad5ea 120.4px,#c1d9ec 127.4px,#c8dded 135.4px,#ccdfee 145.4px,#cfe1ee 155.4px,#d2e2ef 165.4px,#d4e3ef 180.4px,#d5e4f0 195.4px,#d6e4f0 208.6px)"></div>
<div style="top:199px;background:linear-gradient(90deg,#293a70 0.0px,#293a70 63.3px,#27407a 63.8px,#254584 64.3px,#23498c 64.8px,#204d94 65.3px,#1e519b 65.8px,#1c539f 66.3px,#1c55a1 66.8px,#1b56a2 67.3px,#1b59a4 68.3px,#1a5ca6 69.3px,#195fa9 70.3px,#1862ac 71.3px,#1c6bb2 72.8px,#2274b8 74.8px,#287dbf 76.8px,#3287c5 78.8px,#4296cf 81.8px,#53a1d5 85.8px,#64abda 89.8px,#7cb7df 94.8px,#8fc1e3 98.8px,#99c6e5 102.8px,#a2cae6 106.8px,#aecfe8 112.8px,#b9d5ea 119.8px,#c0d9eb 126.8px,#c8dded 134.8px,#ccdfee 144.8px,#cfe0ee 154.8px,#d2e2ef 164.8px,#d3e3ef 179.8px,#d5e4f0 194.8px,#d6e4f0 208.6px)"></div>
<div style="top:200px;background:linear-gradient(90deg,#293a70 0.0px,#293a70 62.7px,#27407a 63.2px,#254584 63.7px,#23498c 64.2px,#204d94 64.7px,#1e519b 65.2px,#1c539f 65.7px,#1c55a1 66.2px,#1b56a2 66.7px,#1b59a4 67.7px,#1a5ca6 68.7px,#195fa9 69.7px,#1862ac 70.7px,#1c6bb2 72.2px,#2273b8 74.2px,#287dbf 76.2px,#3287c5 78.2px,#4296cf 81.2px,#53a1d5 85.2px,#64abda 89.2px,#7bb7df 94.2px,#8ec1e3 98.2px,#99c6e5 102.2px,#a1cae6 106.2px,#aecfe8 112.2px,#b9d5ea 119.2px,#c0d8eb 126.2px,#c8dded 134.2px,#cbdeee 144.2px,#cfe0ee 154.2px,#d2e2ef 164.2px,#d3e3ef 179.2px,#d5e4f0 194.2px,#d6e4f0 208.6px)"></div>
<div style="top:201px;background:linear-gradient(90deg,#293a70 0.0px,#293a70 62.0px,#27407a 62.5px,#254584 63.0px,#23498c 63.5px,#204d94 64.0px,#1e519b 64.5px,#1c539f 65.0px,#1c55a1 65.5px,#1b56a2 66.0px,#1b59a4 67.0px,#1a5ca6 68.0px,#195fa9 69.0px,#1862ac 70.0px,#1c6bb2 71.5px,#2273b8 73.5px,#287dbf 75.5px,#3287c5 77.5px,#4296cf 80.5px,#53a1d5 84.5px,#64abda 88.5px,#7bb7df 93.5px,#8ec1e3 97.5px,#98c6e5 101.5px,#a1cae6 105.5px,#aecfe8 111.5px,#b9d5ea 118.5px,#c0d8eb 125.5px,#c8dced 133.5px,#cbdeee 143.5px,#cfe0ee 153.5px,#d2e2ef 163.5px,#d3e3ef 178.5px,#d4e3f0 193.5px,#d6e4f0 208.6px)"></div>
<div style="top:202px;background:linear-gradient(90deg,#293a70 0.0px,#293a70 61.4px,#27407a 61.9px,#254584 62.4px,#23498c 62.9px,#204d94 63.4px,#1e519b 63.9px,#1c539f 64.4px,#1c55a1 64.9px,#1b56a2 65.4px,#1b59a4 66.4px,#1a5ca6 67.4px,#195fa9 68.4px,#1862ac 69.4px,#1c6bb2 70.9px,#2273b8 72.9px,#277cbf 74.9px,#3287c5 76.9px,#4296cf 79.9px,#52a1d5 83.9px,#63abda 87.9px,#7ab7df 92.9px,#8ec1e3 96.9px,#98c6e5 100.9px,#a1cae6 104.9px,#adcfe8 110.9px,#b9d4ea 117.9px,#c0d8eb 124.9px,#c7dced 132.9px,#cbdeee 142.9px,#cee0ee 152.9px,#d2e2ef 162.9px,#d3e3ef 177.9px,#d4e3f0 192.9px,#d6e4f0 208.6px)"></div>
<div style="top:203px;background:linear-gradient(90deg,#293a70 0.0px,#293a70 60.8px,#27407a 61.3px,#254584 61.8px,#23498c 62.3px,#204d94 62.8px,#1e519b 63.3px,#1c539f 63.8px,#1c55a1 64.3px,#1b56a2 64.8px,#1b59a4 65.8px,#1a5ca6 66.8px,#195fa9 67.8px,#1862ab 68.8px,#1c6ab2 70.3px,#2173b8 72.3px,#277cbf 74.3px,#3286c5 76.3px,#4296cf 79.3px,#52a0d5 83.3px,#63aada 87.3px,#7ab7df 92.3px,#8dc1e3 96.3px,#98c6e5 100.3px,#a0c9e6 104.3px,#adcfe8 110.3px,#b8d4ea 117.3px,#bfd8eb 124.3px,#c7dced 132.3px,#cbdeee 142.3px,#cee0ee 152.3px,#d2e2ef 162.3px,#d3e3ef 177.3px,#d4e3f0 192.3px,#d5e4f0 208.6px)"></div>
<div style="top:204px;background:linear-gradient(90deg,#293a70 0.0px,#293a70 60.1px,#27407a 60.6px,#254584 61.1px,#23498c 61.6px,#204d94 62.1px,#1e519b 62.6px,#1c539f 63.1px,#1c55a1 63.6px,#1b56a2 64.1px,#1b59a4 65.1px,#1a5ca6 66.1px,#195fa9 67.1px,#1862ab 68.1px,#1c6ab2 69.6px,#2173b8 71.6px,#277cbf 73.6px,#3286c5 75.6px,#4296cf 78.6px,#52a0d5 82.6px,#63aada 86.6px,#7ab7df 91.6px,#8dc0e3 95.6px,#97c6e5 99.6px,#a0c9e6 103.6px,#adcfe8 109.6px,#b8d4ea 116.6px,#bfd8eb 123.6px,#c7dced 131.6px,#cadeed 141.6px,#cee0ee 151.6px,#d1e2ef 161.6px,#d3e2ef 176.6px,#d4e3f0 191.6px,#d5e4f0 208.6px)"></div>
<div style="top:205px;background:linear-gradient(90deg,#293a70 0.0px,#293a70 59.5px,#27407a 60.0px,#254584 60.5px,#23498c 61.0px,#204d94 61.5px,#1e519b 62.0px,#1c539f 62.5px,#1c55a1 63.0px,#1b56a2 63.5px,#1b59a4 64.5px,#1a5ca6 65.5px,#195fa9 66.5px,#1862ab 67.5px,#1c6ab2 69.0px,#2173b8 71.0px,#277cbf 73.0px,#3286c5 75.0px,#4196ce 78.0px,#52a0d4 82.0px,#62aada 86.0px,#79b6df 91.0px,#8dc0e3 95.0px,#97c5e4 99.0px,#a0c9e6 103.0px,#accfe8 109.0px,#b8d4ea 116.0px,#bfd8eb 123.0px,#c7dced 131.0px,#cadeed 141.0px,#cee0ee 151.0px,#d1e2ef 161.0px,#d3e2ef 176.0px,#d4e3ef 191.0px,#d5e4f0 208.6px)"></div>
<div style="top:206px;background:linear-gradient(90deg,#293a70 0.0px,#293a70 58.8px,#27407a 59.3px,#254584 59.8px,#23498c 60.3px,#204d94 60.8px,#1e519b 61.3px,#1c539f 61.8px,#1c55a1 62.3px,#1b56a2 62.8px,#1b59a4 63.8px,#1a5ca6 64.8px,#195fa9 65.8px,#1862ab 66.8px,#1c6ab1 68.3px,#2173b8 70.3px,#277cbe 72.3px,#3186c5 74.3px,#4195ce 77.3px,#51a0d4 81.3px,#62aada 85.3px,#79b6df 90.3px,#8cc0e3 94.3px,#97c5e4 98.3px,#9fc9e6 102.3px,#accfe8 108.3px,#b8d4ea 115.3px,#bfd8eb 122.3px,#c7dced 130.3px,#cadeed 140.3px,#cee0ee 150.3px,#d1e1ef 160.3px,#d2e2ef 175.3px,#d4e3ef 190.3px,#d5e4f0 208.6px)"></div>
<div style="top:207px;background:linear-gradient(90deg,#293a70 0.0px,#293a70 58.2px,#27407a 58.7px,#254584 59.2px,#23498c 59.7px,#204d94 60.2px,#1e519b 60.7px,#1c539f 61.2px,#1c55a1 61.7px,#1b56a2 62.2px,#1b59a4 63.2px,#1a5ca6 64.2px,#195fa9 65.2px,#1862ab 66.2px,#1c6ab1 67.7px,#2173b8 69.7px,#277cbe 71.7px,#3186c5 73.7px,#4195ce 76.7px,#51a0d4 80.7px,#62aada 84.7px,#79b6df 89.7px,#8cc0e2 93.7px,#97c5e4 97.7px,#9fc9e6 101.7px,#accee8 107.7px,#b7d4ea 114.7px,#bed8eb 121.7px,#c6dced 129.7px,#cadeed 139.7px,#cddfee 149.7px,#d1e1ef 159.7px,#d2e2ef 174.7px,#d4e3ef 189.7px,#d5e4f0 208.6px)"></div>
<div style="top:208px;background:linear-gradient(90deg,#293a70 0.0px,#293a70 57.6px,#27407a 58.1px,#254584 58.6px,#23498c 59.1px,#204d94 59.6px,#1e519b 60.1px,#1c539f 60.6px,#1c55a1 61.1px,#1b56a2 61.6px,#1b59a4 62.6px,#1a5ca6 63.6px,#195fa9 64.6px,#1862ab 65.6px,#1c6ab1 67.1px,#2173b8 69.1px,#267bbe 71.1px,#3186c5 73.1px,#4195ce 76.1px,#51a0d4 80.1px,#61aada 84.1px,#78b6df 89.1px,#8cc0e2 93.1px,#96c5e4 97.1px,#9fc9e6 101.1px,#accee8 107.1px,#b7d4ea 114.1px,#bed7eb 121.1px,#c6dced 129.1px,#cadeed 139.1px,#cddfee 149.1px,#d1e1ef 159.1px,#d2e2ef 174.1px,#d3e3ef 189.1px,#d5e4f0 208.6px)"></div>
</div>
<svg width="685" height="330" viewBox="0 0 685 330">
<text class="pl" x="-0.8" y="27.6" font-size="32" style="font-family:'Liberation Sans',sans-serif;font-weight:bold">a</text>
<text class="pl" x="366.3" y="27.8" font-size="32" style="font-family:'Liberation Sans',sans-serif;font-weight:bold">b</text>
<rect x="81.9" y="56.8" width="206.6" height="208.0" fill="none" stroke="#231f20" stroke-width="2.0"/>
<line class="k" x1="72.4" y1="264.80" x2="81.9" y2="264.80"/>
<text x="66.6" y="272.0" font-size="18.5" text-anchor="end">700</text>
<line class="k" x1="72.4" y1="238.80" x2="81.9" y2="238.80"/>
<text x="66.6" y="246.0" font-size="18.5" text-anchor="end">800</text>
<line class="k" x1="72.4" y1="212.80" x2="81.9" y2="212.80"/>
<text x="66.6" y="220.0" font-size="18.5" text-anchor="end">900</text>
<line class="k" x1="72.4" y1="186.80" x2="81.9" y2="186.80"/>
<text x="66.6" y="194.0" font-size="18.5" text-anchor="end">1000</text>
<line class="k" x1="72.4" y1="160.80" x2="81.9" y2="160.80"/>
<text x="66.6" y="168.0" font-size="18.5" text-anchor="end">1100</text>
<line class="k" x1="72.4" y1="134.80" x2="81.9" y2="134.80"/>
<text x="66.6" y="142.0" font-size="18.5" text-anchor="end">1200</text>
<line class="k" x1="72.4" y1="108.80" x2="81.9" y2="108.80"/>
<text x="66.6" y="116.0" font-size="18.5" text-anchor="end">1300</text>
<line class="k" x1="72.4" y1="82.80" x2="81.9" y2="82.80"/>
<text x="66.6" y="90.0" font-size="18.5" text-anchor="end">1400</text>
<line class="k" x1="72.4" y1="56.80" x2="81.9" y2="56.80"/>
<text x="66.6" y="64.0" font-size="18.5" text-anchor="end">1500</text>
<line class="k" style="stroke-width:1.5" x1="102.63" y1="264.8" x2="102.63" y2="269.4"/>
<line class="k" style="stroke-width:1.5" x1="114.76" y1="264.8" x2="114.76" y2="269.4"/>
<line class="k" style="stroke-width:1.5" x1="123.36" y1="264.8" x2="123.36" y2="269.4"/>
<line class="k" style="stroke-width:1.5" x1="130.04" y1="264.8" x2="130.04" y2="269.4"/>
<line class="k" style="stroke-width:1.5" x1="135.49" y1="264.8" x2="135.49" y2="269.4"/>
<line class="k" style="stroke-width:1.5" x1="140.10" y1="264.8" x2="140.10" y2="269.4"/>
<line class="k" style="stroke-width:1.5" x1="144.09" y1="264.8" x2="144.09" y2="269.4"/>
<line class="k" style="stroke-width:1.5" x1="147.62" y1="264.8" x2="147.62" y2="269.4"/>
<line class="k" style="stroke-width:1.5" x1="171.50" y1="264.8" x2="171.50" y2="269.4"/>
<line class="k" style="stroke-width:1.5" x1="183.62" y1="264.8" x2="183.62" y2="269.4"/>
<line class="k" style="stroke-width:1.5" x1="192.23" y1="264.8" x2="192.23" y2="269.4"/>
<line class="k" style="stroke-width:1.5" x1="198.90" y1="264.8" x2="198.90" y2="269.4"/>
<line class="k" style="stroke-width:1.5" x1="204.36" y1="264.8" x2="204.36" y2="269.4"/>
<line class="k" style="stroke-width:1.5" x1="208.97" y1="264.8" x2="208.97" y2="269.4"/>
<line class="k" style="stroke-width:1.5" x1="212.96" y1="264.8" x2="212.96" y2="269.4"/>
<line class="k" style="stroke-width:1.5" x1="216.48" y1="264.8" x2="216.48" y2="269.4"/>
<line class="k" style="stroke-width:1.5" x1="240.36" y1="264.8" x2="240.36" y2="269.4"/>
<line class="k" style="stroke-width:1.5" x1="252.49" y1="264.8" x2="252.49" y2="269.4"/>
<line class="k" style="stroke-width:1.5" x1="261.10" y1="264.8" x2="261.10" y2="269.4"/>
<line class="k" style="stroke-width:1.5" x1="267.77" y1="264.8" x2="267.77" y2="269.4"/>
<line class="k" style="stroke-width:1.5" x1="273.22" y1="264.8" x2="273.22" y2="269.4"/>
<line class="k" style="stroke-width:1.5" x1="277.83" y1="264.8" x2="277.83" y2="269.4"/>
<line class="k" style="stroke-width:1.5" x1="281.83" y1="264.8" x2="281.83" y2="269.4"/>
<line class="k" style="stroke-width:1.5" x1="285.35" y1="264.8" x2="285.35" y2="269.4"/>
<line class="k" x1="81.90" y1="264.8" x2="81.90" y2="274.1"/>
<text x="87.5" y="298.8" font-size="18.5" text-anchor="end">10</text>
<text x="88.5" y="287.6" font-size="14">1</text>
<line class="k" x1="150.77" y1="264.8" x2="150.77" y2="274.1"/>
<text x="156.4" y="298.8" font-size="18.5" text-anchor="end">10</text>
<text x="157.4" y="287.6" font-size="14">2</text>
<line class="k" x1="219.63" y1="264.8" x2="219.63" y2="274.1"/>
<text x="225.2" y="298.8" font-size="18.5" text-anchor="end">10</text>
<text x="226.2" y="287.6" font-size="14">3</text>
<line class="k" x1="288.50" y1="264.8" x2="288.50" y2="274.1"/>
<text x="294.1" y="298.8" font-size="18.5" text-anchor="end">10</text>
<text x="295.1" y="287.6" font-size="14">4</text>
<text x="89.6" y="325" font-size="22.2">Growth rate</text><text x="200.0" y="325" font-size="22.2">(</text><text x="207.2" y="325" font-size="22.2">μm</text><text x="241.7" y="325" font-size="22.2">s</text>
<line x1="252.3" y1="313.2" x2="261.8" y2="313.2" stroke="#231f20" stroke-width="1.15"/>
<text x="262.9" y="316.7" font-size="15.5">1</text>
<text x="271.7" y="325" font-size="22.3">)</text>
<g transform="translate(16.8,279.5) rotate(-90)"><text x="-1.2" y="0" font-size="22.2">Growth temperature,</text><text transform="translate(186.9,0) scale(1.17,1)" font-size="22.3" font-style="italic">T</text><text x="205.2" y="0" font-size="22.3">(</text><text transform="translate(213.0,0) scale(1.1,1)" font-size="22.3">K</text><text x="230.7" y="0" font-size="22.3">)</text></g>
<polygon points="262.20,101.90 263.77,106.74 268.86,106.74 264.74,109.73 266.31,114.56 262.20,111.57 258.09,114.56 259.66,109.73 255.54,106.74 260.63,106.74" fill="#f6cf2a" stroke="#231f20" stroke-width="1.2" stroke-linejoin="miter"/>
<defs><linearGradient id="cb" x1="0" y1="0" x2="0" y2="1"><stop offset="0.0000" stop-color="#293a70"/><stop offset="0.0111" stop-color="#283c74"/><stop offset="0.0222" stop-color="#283f79"/><stop offset="0.0333" stop-color="#27427e"/><stop offset="0.0444" stop-color="#264482"/><stop offset="0.0556" stop-color="#244787"/><stop offset="0.0667" stop-color="#23498c"/><stop offset="0.0778" stop-color="#214c91"/><stop offset="0.0889" stop-color="#1f4f96"/><stop offset="0.1000" stop-color="#1e519b"/><stop offset="0.1111" stop-color="#1c54a0"/><stop offset="0.1222" stop-color="#1c56a1"/><stop offset="0.1333" stop-color="#1b57a2"/><stop offset="0.1444" stop-color="#1b58a4"/><stop offset="0.1556" stop-color="#1a5aa5"/><stop offset="0.1667" stop-color="#1a5ca6"/><stop offset="0.1778" stop-color="#1a5da7"/><stop offset="0.1889" stop-color="#195ea8"/><stop offset="0.2000" stop-color="#1960aa"/><stop offset="0.2111" stop-color="#1862ab"/><stop offset="0.2222" stop-color="#1863ac"/><stop offset="0.2333" stop-color="#1965ae"/><stop offset="0.2444" stop-color="#1b68b0"/><stop offset="0.2556" stop-color="#1c6ab1"/><stop offset="0.2667" stop-color="#1e6db3"/><stop offset="0.2778" stop-color="#1f6fb5"/><stop offset="0.2889" stop-color="#2071b7"/><stop offset="0.3000" stop-color="#2274b9"/><stop offset="0.3111" stop-color="#2376ba"/><stop offset="0.3222" stop-color="#2579bc"/><stop offset="0.3333" stop-color="#267bbe"/><stop offset="0.3444" stop-color="#297ec0"/><stop offset="0.3556" stop-color="#2c81c2"/><stop offset="0.3667" stop-color="#2f84c3"/><stop offset="0.3778" stop-color="#3287c5"/><stop offset="0.3889" stop-color="#358ac7"/><stop offset="0.4000" stop-color="#388cc9"/><stop offset="0.4111" stop-color="#3b8fcb"/><stop offset="0.4222" stop-color="#3e92cc"/><stop offset="0.4333" stop-color="#4195ce"/><stop offset="0.4444" stop-color="#4498d0"/><stop offset="0.4556" stop-color="#489ad1"/><stop offset="0.4667" stop-color="#4b9cd2"/><stop offset="0.4778" stop-color="#4f9fd4"/><stop offset="0.4889" stop-color="#53a1d5"/><stop offset="0.5000" stop-color="#56a3d6"/><stop offset="0.5111" stop-color="#5aa5d7"/><stop offset="0.5222" stop-color="#5ea7d8"/><stop offset="0.5333" stop-color="#62aada"/><stop offset="0.5444" stop-color="#65acdb"/><stop offset="0.5556" stop-color="#69aedc"/><stop offset="0.5667" stop-color="#6db0dd"/><stop offset="0.5778" stop-color="#72b2de"/><stop offset="0.5889" stop-color="#76b5de"/><stop offset="0.6000" stop-color="#7ab7df"/><stop offset="0.6111" stop-color="#7eb9e0"/><stop offset="0.6222" stop-color="#83bbe1"/><stop offset="0.6333" stop-color="#87bde2"/><stop offset="0.6444" stop-color="#8bc0e2"/><stop offset="0.6556" stop-color="#90c2e3"/><stop offset="0.6667" stop-color="#94c4e4"/><stop offset="0.6778" stop-color="#97c5e4"/><stop offset="0.6889" stop-color="#9ac7e5"/><stop offset="0.7000" stop-color="#9ec8e6"/><stop offset="0.7111" stop-color="#a1cae6"/><stop offset="0.7222" stop-color="#a4cbe6"/><stop offset="0.7333" stop-color="#a7cce7"/><stop offset="0.7444" stop-color="#aacee8"/><stop offset="0.7556" stop-color="#aecfe8"/><stop offset="0.7667" stop-color="#b1d1e8"/><stop offset="0.7778" stop-color="#b4d2e9"/><stop offset="0.7889" stop-color="#b7d4ea"/><stop offset="0.8000" stop-color="#bad5ea"/><stop offset="0.8111" stop-color="#bdd7eb"/><stop offset="0.8222" stop-color="#c0d8eb"/><stop offset="0.8333" stop-color="#c3daec"/><stop offset="0.8444" stop-color="#c6dced"/><stop offset="0.8556" stop-color="#c9dded"/><stop offset="0.8667" stop-color="#ccdfee"/><stop offset="0.8778" stop-color="#cfe0ee"/><stop offset="0.8889" stop-color="#d2e2ef"/><stop offset="0.9000" stop-color="#d5e4f0"/><stop offset="0.9111" stop-color="#d7e5f0"/><stop offset="0.9222" stop-color="#dae7f1"/><stop offset="0.9333" stop-color="#dce8f2"/><stop offset="0.9444" stop-color="#dfeaf2"/><stop offset="0.9556" stop-color="#e2ecf3"/><stop offset="0.9667" stop-color="#e4edf4"/><stop offset="0.9778" stop-color="#e7eff5"/><stop offset="0.9889" stop-color="#e9f0f5"/><stop offset="1.0000" stop-color="#ecf2f6"/></linearGradient></defs>
<rect x="301.0" y="66.6" width="11.3" height="198.0" fill="url(#cb)"/>
<path d="M301.0,66.9 L306.65,56.2 L312.3,66.9 Z" fill="#293a70"/>
<path d="M301.0,264.6 L301.0,66.6 L306.65,56.2 L312.3,66.6 L312.3,264.6 Z" fill="none" stroke="#231f20" stroke-width="2.0" stroke-linejoin="miter"/>
<line class="k" x1="312.3" y1="66.60" x2="321.1" y2="66.60"/>
<text x="326.4" y="73.9" font-size="18.5">m</text>
<line class="k" x1="312.3" y1="88.60" x2="321.1" y2="88.60"/>
<text x="326.4" y="95.9" font-size="18.5">dm</text>
<line class="k" x1="312.3" y1="110.60" x2="321.1" y2="110.60"/>
<text x="326.4" y="117.9" font-size="18.5">cm</text>
<line class="k" x1="312.3" y1="132.60" x2="321.1" y2="132.60"/>
<text x="326.4" y="139.9" font-size="18.5">mm</text>
<line class="k" x1="312.3" y1="198.60" x2="321.1" y2="198.60"/>
<text x="326.4" y="205.9" font-size="18.5">μm</text>
<line class="k" x1="312.3" y1="264.60" x2="321.1" y2="264.60"/>
<text x="326.4" y="271.9" font-size="18.5">nm</text>
<defs><clipPath id="rc"><rect x="429.4" y="56.8" width="237.1" height="211.5"/></clipPath></defs>
<g clip-path="url(#rc)" fill="none" stroke-width="2.2" stroke-dasharray="8.1 3.5">
<line x1="429.4" y1="234.88" x2="666.5" y2="83.24" stroke="#3b88cc"/>
<line x1="429.4" y1="253.50" x2="666.5" y2="94.87" stroke="#f6a831"/>
<line x1="429.4" y1="268.51" x2="666.5" y2="97.30" stroke="#c42233"/>
<line x1="429.4" y1="270.20" x2="666.5" y2="130.40" stroke="#8fa19f"/>
<line x1="429.4" y1="274.01" x2="666.5" y2="146.05" stroke="#6a3f98"/>
</g>
<g stroke="#231f20" stroke-width="1.5">
<circle cx="450.8" cy="221.8" r="4.2" fill="#3b88cc"/>
<circle cx="473.2" cy="213.6" r="4.2" fill="#3b88cc"/>
<circle cx="495.4" cy="188.3" r="4.2" fill="#3b88cc"/>
<circle cx="510.1" cy="173.9" r="4.2" fill="#3b88cc"/>
<circle cx="539.4" cy="170.9" r="4.2" fill="#3b88cc"/>
<circle cx="450.8" cy="252.6" r="4.2" fill="#c42233"/>
<circle cx="473.2" cy="243.2" r="4.2" fill="#c42233"/>
<circle cx="495.4" cy="211.3" r="4.2" fill="#c42233"/>
<circle cx="510.1" cy="206.6" r="4.2" fill="#c42233"/>
<circle cx="539.4" cy="200.8" r="4.2" fill="#c42233"/>
<circle cx="569.2" cy="161.3" r="4.2" fill="#c42233"/>
<circle cx="450.8" cy="247.2" r="4.2" fill="#f6a831"/>
<circle cx="473.2" cy="222.0" r="4.2" fill="#f6a831"/>
<circle cx="495.4" cy="198.0" r="4.2" fill="#f6a831"/>
<circle cx="510.1" cy="198.0" r="4.2" fill="#f6a831"/>
<circle cx="539.4" cy="186.3" r="4.2" fill="#f6a831"/>
<circle cx="450.8" cy="258.8" r="4.2" fill="#8fa19f"/>
<circle cx="495.4" cy="231.5" r="4.2" fill="#8fa19f"/>
<circle cx="510.1" cy="220.5" r="4.2" fill="#8fa19f"/>
<circle cx="539.4" cy="205.0" r="4.2" fill="#8fa19f"/>
<circle cx="569.2" cy="187.8" r="4.2" fill="#8fa19f"/>
<circle cx="495.4" cy="237.8" r="4.2" fill="#6a3f98"/>
<circle cx="510.1" cy="227.8" r="4.2" fill="#6a3f98"/>
<circle cx="539.4" cy="212.7" r="4.2" fill="#6a3f98"/>
<circle cx="569.2" cy="197.6" r="4.2" fill="#6a3f98"/>
</g>
<rect x="436.9" y="63.8" width="222.1" height="78.1" rx="3.5" fill="#ffffff" fill-opacity="0.8" stroke="#d4d4d4" stroke-width="2.4"/>
<circle cx="451.5" cy="78.9" r="4.2" fill="#3b88cc" stroke="#231f20" stroke-width="1.5"/>
<text x="0.0" y="80.8" font-size="17.2" font-style="italic" transform="translate(463.3,0) scale(1.12,1) translate(0.0,0)">P</text>
<line x1="477.3" y1="75.10" x2="488.2" y2="75.10" stroke="#231f20" stroke-width="1.05"/>
<line x1="477.3" y1="78.40" x2="488.2" y2="78.40" stroke="#231f20" stroke-width="1.05"/>
<text x="491.9" y="80.8" font-size="16.2">20</text>
<text x="512.3" y="80.8" font-size="17">Pa</text>
<circle cx="451.5" cy="103.5" r="4.2" fill="#f6a831" stroke="#231f20" stroke-width="1.5"/>
<text x="0.0" y="105.6" font-size="17.2" font-style="italic" transform="translate(463.3,0) scale(1.12,1) translate(0.0,0)">P</text>
<line x1="477.3" y1="99.90" x2="488.2" y2="99.90" stroke="#231f20" stroke-width="1.05"/>
<line x1="477.3" y1="103.20" x2="488.2" y2="103.20" stroke="#231f20" stroke-width="1.05"/>
<text x="491.9" y="105.6" font-size="16.2">59</text>
<text x="512.3" y="105.6" font-size="17">Pa</text>
<circle cx="451.5" cy="127.9" r="4.2" fill="#c42233" stroke="#231f20" stroke-width="1.5"/>
<text x="0.0" y="130.2" font-size="17.2" font-style="italic" transform="translate(463.3,0) scale(1.12,1) translate(0.0,0)">P</text>
<line x1="477.3" y1="124.50" x2="488.2" y2="124.50" stroke="#231f20" stroke-width="1.05"/>
<line x1="477.3" y1="127.80" x2="488.2" y2="127.80" stroke="#231f20" stroke-width="1.05"/>
<text x="491.9" y="130.2" font-size="16.2">177</text>
<text x="520.3" y="130.2" font-size="17">Pa</text>
<circle cx="556.1" cy="78.7" r="4.2" fill="#8fa19f" stroke="#231f20" stroke-width="1.5"/>
<text x="0.0" y="80.8" font-size="17.2" font-style="italic" transform="translate(568.6,0) scale(1.12,1) translate(0.0,0)">P</text>
<line x1="582.6" y1="75.10" x2="593.5" y2="75.10" stroke="#231f20" stroke-width="1.05"/>
<line x1="582.6" y1="78.40" x2="593.5" y2="78.40" stroke="#231f20" stroke-width="1.05"/>
<text x="597.2" y="80.8" font-size="16.2">533</text>
<text x="624.9" y="80.8" font-size="17">Pa</text>
<circle cx="556.1" cy="103.3" r="4.2" fill="#6a3f98" stroke="#231f20" stroke-width="1.5"/>
<text x="0.0" y="105.6" font-size="17.2" font-style="italic" transform="translate(568.6,0) scale(1.12,1) translate(0.0,0)">P</text>
<line x1="582.6" y1="99.90" x2="593.5" y2="99.90" stroke="#231f20" stroke-width="1.05"/>
<line x1="582.6" y1="103.20" x2="593.5" y2="103.20" stroke="#231f20" stroke-width="1.05"/>
<text x="597.2" y="105.6" font-size="16.2">1600</text>
<text x="632.2" y="105.6" font-size="17">Pa</text>
<rect x="429.4" y="56.8" width="237.1" height="211.5" fill="none" stroke="#231f20" stroke-width="2.0"/>
<line class="k" x1="419.6" y1="268.30" x2="429.4" y2="268.30"/>
<text x="414.8" y="275.5" font-size="18.5" text-anchor="end">0</text>
<line class="k" x1="419.6" y1="226.00" x2="429.4" y2="226.00"/>
<text x="414.8" y="233.2" font-size="18.5" text-anchor="end">2</text>
<line class="k" x1="419.6" y1="183.70" x2="429.4" y2="183.70"/>
<text x="414.8" y="190.9" font-size="18.5" text-anchor="end">4</text>
<line class="k" x1="419.6" y1="141.40" x2="429.4" y2="141.40"/>
<text x="414.8" y="148.6" font-size="18.5" text-anchor="end">6</text>
<line class="k" x1="419.6" y1="99.10" x2="429.4" y2="99.10"/>
<text x="414.8" y="106.3" font-size="18.5" text-anchor="end">8</text>
<line class="k" x1="419.6" y1="56.80" x2="429.4" y2="56.80"/>
<text x="414.8" y="64.0" font-size="18.5" text-anchor="end">10</text>
<line class="k" x1="429.40" y1="268.3" x2="429.40" y2="277.5"/>
<text x="429.4" y="296.9" font-size="18.5" text-anchor="middle">700</text>
<line class="k" x1="488.67" y1="268.3" x2="488.67" y2="277.5"/>
<text x="488.7" y="296.9" font-size="18.5" text-anchor="middle">900</text>
<line class="k" x1="547.95" y1="268.3" x2="547.95" y2="277.5"/>
<text x="548.0" y="296.9" font-size="18.5" text-anchor="middle">1100</text>
<line class="k" x1="607.22" y1="268.3" x2="607.22" y2="277.5"/>
<text x="607.2" y="296.9" font-size="18.5" text-anchor="middle">1300</text>
<line class="k" x1="666.50" y1="268.3" x2="666.50" y2="277.5"/>
<text x="666.5" y="296.9" font-size="18.5" text-anchor="middle">1500</text>
<g transform="translate(429.1,325.1)"><text x="-1.2" y="0" font-size="22.2">Growth temperature,</text><text transform="translate(186.9,0) scale(1.17,1)" font-size="22.3" font-style="italic">T</text><text x="205.2" y="0" font-size="22.3">(</text><text transform="translate(213.0,0) scale(1.1,1)" font-size="22.3">K</text><text x="230.7" y="0" font-size="22.3">)</text></g>
<g transform="translate(383.6,276.7) rotate(-90)"><text x="-0.5" y="0" font-size="22.5" textLength="123.8" lengthAdjust="spacing">CNT quality,</text><text x="125.5" y="0" font-size="22.4">ln</text><text x="145.3" y="1.1" font-size="25">(</text><text transform="translate(152.6,0) scale(1.2,1)" font-size="22.4" font-style="italic">I</text><text x="164.6" y="3.2" font-size="14" font-style="italic">G</text><text x="179.6" y="3.0" font-size="26.5">/</text><text transform="translate(188.0,0) scale(1.2,1)" font-size="22.4" font-style="italic">I</text><text x="200.5" y="3.2" font-size="14" font-style="italic">D</text><text x="210.7" y="1.1" font-size="25">)</text></g>
</svg></div></body></html>
